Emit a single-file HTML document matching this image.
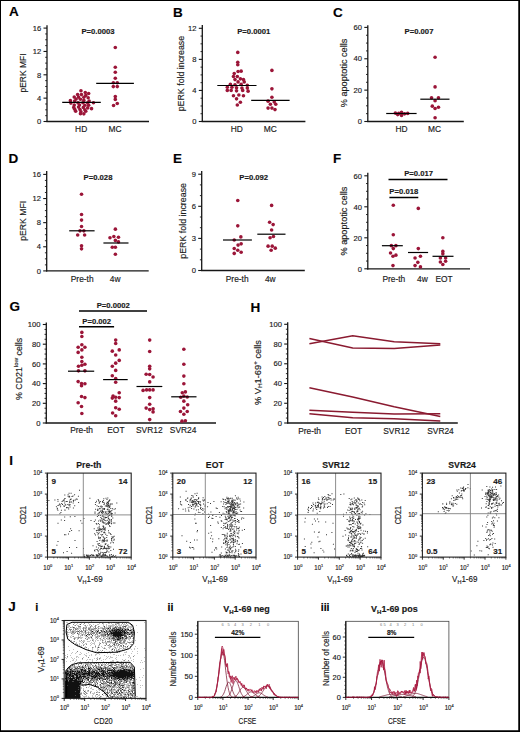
<!DOCTYPE html><html><head><meta charset="utf-8"><style>html,body{margin:0;padding:0;background:#fff;overflow:hidden;}svg{display:block;} text{stroke:#222;stroke-width:0.15px;}</style></head><body>
<svg width="520" height="732" viewBox="0 0 520 732" font-family="Liberation Sans, sans-serif">
<rect x="0" y="0" width="520" height="732" fill="#fff"/>
<text x="9" y="15.8" font-size="13.5" font-weight="bold" text-anchor="start" fill="#000">A</text>
<line x1="47" y1="25.2" x2="47" y2="122.1" stroke="#161616" stroke-width="1.3"/>
<line x1="46.4" y1="121.5" x2="149" y2="121.5" stroke="#161616" stroke-width="1.3"/>
<line x1="43.5" y1="121.5" x2="47" y2="121.5" stroke="#161616" stroke-width="1.1"/>
<text x="41.2" y="124.2" font-size="7.6" text-anchor="end" fill="#161616">0</text>
<line x1="45.2" y1="115.66" x2="47" y2="115.66" stroke="#161616" stroke-width="0.9"/>
<line x1="45.2" y1="109.83" x2="47" y2="109.83" stroke="#161616" stroke-width="0.9"/>
<line x1="45.2" y1="103.99" x2="47" y2="103.99" stroke="#161616" stroke-width="0.9"/>
<line x1="43.5" y1="98.15" x2="47" y2="98.15" stroke="#161616" stroke-width="1.1"/>
<text x="41.2" y="100.85" font-size="7.6" text-anchor="end" fill="#161616">4</text>
<line x1="45.2" y1="92.31" x2="47" y2="92.31" stroke="#161616" stroke-width="0.9"/>
<line x1="45.2" y1="86.47" x2="47" y2="86.47" stroke="#161616" stroke-width="0.9"/>
<line x1="45.2" y1="80.64" x2="47" y2="80.64" stroke="#161616" stroke-width="0.9"/>
<line x1="43.5" y1="74.8" x2="47" y2="74.8" stroke="#161616" stroke-width="1.1"/>
<text x="41.2" y="77.5" font-size="7.6" text-anchor="end" fill="#161616">8</text>
<line x1="45.2" y1="68.96" x2="47" y2="68.96" stroke="#161616" stroke-width="0.9"/>
<line x1="45.2" y1="63.12" x2="47" y2="63.12" stroke="#161616" stroke-width="0.9"/>
<line x1="45.2" y1="57.29" x2="47" y2="57.29" stroke="#161616" stroke-width="0.9"/>
<line x1="43.5" y1="51.45" x2="47" y2="51.45" stroke="#161616" stroke-width="1.1"/>
<text x="41.2" y="54.15" font-size="7.6" text-anchor="end" fill="#161616">12</text>
<line x1="45.2" y1="45.61" x2="47" y2="45.61" stroke="#161616" stroke-width="0.9"/>
<line x1="45.2" y1="39.77" x2="47" y2="39.77" stroke="#161616" stroke-width="0.9"/>
<line x1="45.2" y1="33.94" x2="47" y2="33.94" stroke="#161616" stroke-width="0.9"/>
<line x1="43.5" y1="28.1" x2="47" y2="28.1" stroke="#161616" stroke-width="1.1"/>
<text x="41.2" y="30.8" font-size="7.6" text-anchor="end" fill="#161616">16</text>
<text x="25.7" y="73" font-size="8.6" text-anchor="middle" transform="rotate(-90 25.7 73)" fill="#161616" textLength="39" lengthAdjust="spacingAndGlyphs">pERK MFI</text>
<text x="81.15" y="131.9" font-size="8.4" text-anchor="middle" fill="#161616">HD</text>
<text x="115.1" y="131.9" font-size="8.4" text-anchor="middle" fill="#161616">MC</text>
<text x="98" y="34.1" font-size="7.7" font-weight="bold" text-anchor="middle" fill="#161616">P=0.0003</text>
<circle cx="80.96" cy="90.77" r="1.8" fill="#9b1538"/>
<circle cx="85.29" cy="92.5" r="1.8" fill="#9b1538"/>
<circle cx="88.65" cy="93.46" r="1.8" fill="#9b1538"/>
<circle cx="77.6" cy="94.62" r="1.8" fill="#9b1538"/>
<circle cx="81.44" cy="94.62" r="1.8" fill="#9b1538"/>
<circle cx="85.77" cy="95.38" r="1.8" fill="#9b1538"/>
<circle cx="74.23" cy="97.12" r="1.8" fill="#9b1538"/>
<circle cx="78.56" cy="97.12" r="1.8" fill="#9b1538"/>
<circle cx="83.85" cy="97.31" r="1.8" fill="#9b1538"/>
<circle cx="88.17" cy="97.79" r="1.8" fill="#9b1538"/>
<circle cx="76.15" cy="99.04" r="1.8" fill="#9b1538"/>
<circle cx="80.48" cy="99.23" r="1.8" fill="#9b1538"/>
<circle cx="70.38" cy="100.67" r="1.8" fill="#9b1538"/>
<circle cx="74.71" cy="100.96" r="1.8" fill="#9b1538"/>
<circle cx="83.85" cy="100.38" r="1.8" fill="#9b1538"/>
<circle cx="89.13" cy="100.96" r="1.8" fill="#9b1538"/>
<circle cx="70.87" cy="103.08" r="1.8" fill="#9b1538"/>
<circle cx="78.08" cy="102.88" r="1.8" fill="#9b1538"/>
<circle cx="82.88" cy="102.69" r="1.8" fill="#9b1538"/>
<circle cx="87.69" cy="102.88" r="1.8" fill="#9b1538"/>
<circle cx="93.46" cy="102.69" r="1.8" fill="#9b1538"/>
<circle cx="74.23" cy="105" r="1.8" fill="#9b1538"/>
<circle cx="79.52" cy="105" r="1.8" fill="#9b1538"/>
<circle cx="84.81" cy="105.19" r="1.8" fill="#9b1538"/>
<circle cx="88.65" cy="105.19" r="1.8" fill="#9b1538"/>
<circle cx="73.75" cy="107.4" r="1.8" fill="#9b1538"/>
<circle cx="78.56" cy="107.12" r="1.8" fill="#9b1538"/>
<circle cx="83.37" cy="107.4" r="1.8" fill="#9b1538"/>
<circle cx="87.69" cy="107.88" r="1.8" fill="#9b1538"/>
<circle cx="91.54" cy="108.65" r="1.8" fill="#9b1538"/>
<circle cx="74.71" cy="109.33" r="1.8" fill="#9b1538"/>
<circle cx="80" cy="109.62" r="1.8" fill="#9b1538"/>
<circle cx="84.81" cy="109.81" r="1.8" fill="#9b1538"/>
<circle cx="75.67" cy="111.25" r="1.8" fill="#9b1538"/>
<circle cx="80.96" cy="111.73" r="1.8" fill="#9b1538"/>
<circle cx="85.77" cy="111.25" r="1.8" fill="#9b1538"/>
<circle cx="80.48" cy="113.65" r="1.8" fill="#9b1538"/>
<circle cx="83.85" cy="113.85" r="1.8" fill="#9b1538"/>
<circle cx="115.3" cy="47.54" r="1.8" fill="#9b1538"/>
<circle cx="115.3" cy="67.26" r="1.8" fill="#9b1538"/>
<circle cx="115.3" cy="72.24" r="1.8" fill="#9b1538"/>
<circle cx="115.3" cy="78.27" r="1.8" fill="#9b1538"/>
<circle cx="113.33" cy="82.68" r="1.8" fill="#9b1538"/>
<circle cx="117.27" cy="82.68" r="1.8" fill="#9b1538"/>
<circle cx="113.33" cy="86.62" r="1.8" fill="#9b1538"/>
<circle cx="117.27" cy="86.62" r="1.8" fill="#9b1538"/>
<circle cx="115.3" cy="96.6" r="1.8" fill="#9b1538"/>
<circle cx="115.3" cy="99.38" r="1.8" fill="#9b1538"/>
<circle cx="117.27" cy="103.56" r="1.8" fill="#9b1538"/>
<circle cx="113.56" cy="105.53" r="1.8" fill="#9b1538"/>
<line x1="62.2" y1="102.4" x2="100.8" y2="102.4" stroke="#000" stroke-width="1.2"/>
<line x1="96.2" y1="83.3" x2="133.9" y2="83.3" stroke="#000" stroke-width="1.2"/>
<text x="173" y="16.5" font-size="13.5" font-weight="bold" text-anchor="start" fill="#000">B</text>
<line x1="202.3" y1="25" x2="202.3" y2="122.1" stroke="#161616" stroke-width="1.3"/>
<line x1="201.7" y1="121.5" x2="305.4" y2="121.5" stroke="#161616" stroke-width="1.3"/>
<line x1="198.8" y1="121.5" x2="202.3" y2="121.5" stroke="#161616" stroke-width="1.1"/>
<text x="196.5" y="124.2" font-size="7.6" text-anchor="end" fill="#161616">0</text>
<line x1="200.5" y1="113.73" x2="202.3" y2="113.73" stroke="#161616" stroke-width="0.9"/>
<line x1="200.5" y1="105.97" x2="202.3" y2="105.97" stroke="#161616" stroke-width="0.9"/>
<line x1="200.5" y1="98.2" x2="202.3" y2="98.2" stroke="#161616" stroke-width="0.9"/>
<line x1="198.8" y1="90.43" x2="202.3" y2="90.43" stroke="#161616" stroke-width="1.1"/>
<text x="196.5" y="93.13" font-size="7.6" text-anchor="end" fill="#161616">4</text>
<line x1="200.5" y1="82.67" x2="202.3" y2="82.67" stroke="#161616" stroke-width="0.9"/>
<line x1="200.5" y1="74.9" x2="202.3" y2="74.9" stroke="#161616" stroke-width="0.9"/>
<line x1="200.5" y1="67.13" x2="202.3" y2="67.13" stroke="#161616" stroke-width="0.9"/>
<line x1="198.8" y1="59.37" x2="202.3" y2="59.37" stroke="#161616" stroke-width="1.1"/>
<text x="196.5" y="62.07" font-size="7.6" text-anchor="end" fill="#161616">8</text>
<line x1="200.5" y1="51.6" x2="202.3" y2="51.6" stroke="#161616" stroke-width="0.9"/>
<line x1="200.5" y1="43.83" x2="202.3" y2="43.83" stroke="#161616" stroke-width="0.9"/>
<line x1="200.5" y1="36.07" x2="202.3" y2="36.07" stroke="#161616" stroke-width="0.9"/>
<line x1="198.8" y1="28.3" x2="202.3" y2="28.3" stroke="#161616" stroke-width="1.1"/>
<text x="196.5" y="31" font-size="7.6" text-anchor="end" fill="#161616">12</text>
<text x="183.6" y="73.55" font-size="8.8" text-anchor="middle" transform="rotate(-90 183.6 73.55)" fill="#161616" textLength="75.5" lengthAdjust="spacingAndGlyphs">pERK fold increase</text>
<text x="236.8" y="131.8" font-size="8.4" text-anchor="middle" fill="#161616">HD</text>
<text x="270.3" y="131.8" font-size="8.4" text-anchor="middle" fill="#161616">MC</text>
<text x="253.7" y="34.1" font-size="7.7" font-weight="bold" text-anchor="middle" fill="#161616">P=0.0001</text>
<circle cx="237.77" cy="52.38" r="1.8" fill="#9b1538"/>
<circle cx="237.77" cy="62.23" r="1.8" fill="#9b1538"/>
<circle cx="237.77" cy="64.69" r="1.8" fill="#9b1538"/>
<circle cx="234.23" cy="73.46" r="1.8" fill="#9b1538"/>
<circle cx="238.08" cy="71.46" r="1.8" fill="#9b1538"/>
<circle cx="241.15" cy="71.15" r="1.8" fill="#9b1538"/>
<circle cx="233.46" cy="76.54" r="1.8" fill="#9b1538"/>
<circle cx="237.31" cy="76.54" r="1.8" fill="#9b1538"/>
<circle cx="235" cy="79.62" r="1.8" fill="#9b1538"/>
<circle cx="240.38" cy="78.85" r="1.8" fill="#9b1538"/>
<circle cx="243.46" cy="79.62" r="1.8" fill="#9b1538"/>
<circle cx="238.08" cy="81.92" r="1.8" fill="#9b1538"/>
<circle cx="244.23" cy="81.92" r="1.8" fill="#9b1538"/>
<circle cx="230.38" cy="84.23" r="1.8" fill="#9b1538"/>
<circle cx="235" cy="84.69" r="1.8" fill="#9b1538"/>
<circle cx="241.15" cy="84.23" r="1.8" fill="#9b1538"/>
<circle cx="247.31" cy="85.31" r="1.8" fill="#9b1538"/>
<circle cx="227.31" cy="87.31" r="1.8" fill="#9b1538"/>
<circle cx="231.92" cy="87.31" r="1.8" fill="#9b1538"/>
<circle cx="236.54" cy="87.77" r="1.8" fill="#9b1538"/>
<circle cx="241.92" cy="88.08" r="1.8" fill="#9b1538"/>
<circle cx="247.31" cy="88.08" r="1.8" fill="#9b1538"/>
<circle cx="227.31" cy="90.38" r="1.8" fill="#9b1538"/>
<circle cx="231.15" cy="90.38" r="1.8" fill="#9b1538"/>
<circle cx="236.54" cy="90.85" r="1.8" fill="#9b1538"/>
<circle cx="242.69" cy="90.38" r="1.8" fill="#9b1538"/>
<circle cx="248.08" cy="91.15" r="1.8" fill="#9b1538"/>
<circle cx="233.46" cy="95.77" r="1.8" fill="#9b1538"/>
<circle cx="238.85" cy="95" r="1.8" fill="#9b1538"/>
<circle cx="243.46" cy="95.77" r="1.8" fill="#9b1538"/>
<circle cx="236.54" cy="98.85" r="1.8" fill="#9b1538"/>
<circle cx="240.38" cy="102.23" r="1.8" fill="#9b1538"/>
<circle cx="237.31" cy="105" r="1.8" fill="#9b1538"/>
<circle cx="271.92" cy="70.38" r="1.8" fill="#9b1538"/>
<circle cx="271.92" cy="88.85" r="1.8" fill="#9b1538"/>
<circle cx="271.92" cy="97.31" r="1.8" fill="#9b1538"/>
<circle cx="268.08" cy="101.15" r="1.8" fill="#9b1538"/>
<circle cx="274.23" cy="101.92" r="1.8" fill="#9b1538"/>
<circle cx="270.38" cy="104.23" r="1.8" fill="#9b1538"/>
<circle cx="275.77" cy="104.23" r="1.8" fill="#9b1538"/>
<circle cx="268.08" cy="108.08" r="1.8" fill="#9b1538"/>
<circle cx="271.92" cy="108.08" r="1.8" fill="#9b1538"/>
<circle cx="275" cy="109.62" r="1.8" fill="#9b1538"/>
<line x1="217.3" y1="85.5" x2="256.5" y2="85.5" stroke="#000" stroke-width="1.2"/>
<line x1="251.2" y1="100.4" x2="289.6" y2="100.4" stroke="#000" stroke-width="1.2"/>
<text x="333" y="16.5" font-size="13.5" font-weight="bold" text-anchor="start" fill="#000">C</text>
<line x1="367.8" y1="25.2" x2="367.8" y2="122.1" stroke="#161616" stroke-width="1.3"/>
<line x1="367.2" y1="121.5" x2="463.8" y2="121.5" stroke="#161616" stroke-width="1.3"/>
<line x1="364.3" y1="121.5" x2="367.8" y2="121.5" stroke="#161616" stroke-width="1.1"/>
<text x="362" y="124.2" font-size="7.6" text-anchor="end" fill="#161616">0</text>
<line x1="366" y1="113.66" x2="367.8" y2="113.66" stroke="#161616" stroke-width="0.9"/>
<line x1="366" y1="105.82" x2="367.8" y2="105.82" stroke="#161616" stroke-width="0.9"/>
<line x1="366" y1="97.97" x2="367.8" y2="97.97" stroke="#161616" stroke-width="0.9"/>
<line x1="364.3" y1="90.13" x2="367.8" y2="90.13" stroke="#161616" stroke-width="1.1"/>
<text x="362" y="92.83" font-size="7.6" text-anchor="end" fill="#161616">20</text>
<line x1="366" y1="82.29" x2="367.8" y2="82.29" stroke="#161616" stroke-width="0.9"/>
<line x1="366" y1="74.45" x2="367.8" y2="74.45" stroke="#161616" stroke-width="0.9"/>
<line x1="366" y1="66.61" x2="367.8" y2="66.61" stroke="#161616" stroke-width="0.9"/>
<line x1="364.3" y1="58.77" x2="367.8" y2="58.77" stroke="#161616" stroke-width="1.1"/>
<text x="362" y="61.47" font-size="7.6" text-anchor="end" fill="#161616">40</text>
<line x1="366" y1="50.92" x2="367.8" y2="50.92" stroke="#161616" stroke-width="0.9"/>
<line x1="366" y1="43.08" x2="367.8" y2="43.08" stroke="#161616" stroke-width="0.9"/>
<line x1="366" y1="35.24" x2="367.8" y2="35.24" stroke="#161616" stroke-width="0.9"/>
<line x1="364.3" y1="27.4" x2="367.8" y2="27.4" stroke="#161616" stroke-width="1.1"/>
<text x="362" y="30.1" font-size="7.6" text-anchor="end" fill="#161616">60</text>
<text x="346.6" y="72.95" font-size="9.0" text-anchor="middle" transform="rotate(-90 346.6 72.95)" fill="#161616" textLength="68.5" lengthAdjust="spacingAndGlyphs">% apoptotic cells</text>
<text x="401.5" y="131.8" font-size="8.4" text-anchor="middle" fill="#161616">HD</text>
<text x="434.5" y="131.8" font-size="8.4" text-anchor="middle" fill="#161616">MC</text>
<text x="419" y="34.1" font-size="7.7" font-weight="bold" text-anchor="middle" fill="#161616">P=0.007</text>
<circle cx="395.38" cy="113.08" r="1.8" fill="#9b1538"/>
<circle cx="397.69" cy="114.62" r="1.8" fill="#9b1538"/>
<circle cx="401.54" cy="112.31" r="1.8" fill="#9b1538"/>
<circle cx="401.54" cy="115.38" r="1.8" fill="#9b1538"/>
<circle cx="404.62" cy="113.85" r="1.8" fill="#9b1538"/>
<circle cx="407.69" cy="113.38" r="1.8" fill="#9b1538"/>
<circle cx="398.77" cy="113.38" r="1.8" fill="#9b1538"/>
<circle cx="435.08" cy="57.23" r="1.8" fill="#9b1538"/>
<circle cx="435.08" cy="86.92" r="1.8" fill="#9b1538"/>
<circle cx="431.54" cy="97.69" r="1.8" fill="#9b1538"/>
<circle cx="438.46" cy="97.69" r="1.8" fill="#9b1538"/>
<circle cx="435.08" cy="100.77" r="1.8" fill="#9b1538"/>
<circle cx="432.31" cy="106.15" r="1.8" fill="#9b1538"/>
<circle cx="435.08" cy="108.46" r="1.8" fill="#9b1538"/>
<circle cx="438.46" cy="107.23" r="1.8" fill="#9b1538"/>
<circle cx="435.08" cy="117.69" r="1.8" fill="#9b1538"/>
<line x1="386.2" y1="113.5" x2="416.6" y2="113.5" stroke="#000" stroke-width="1.2"/>
<line x1="420.3" y1="99.2" x2="449.5" y2="99.2" stroke="#000" stroke-width="1.2"/>
<text x="8.5" y="163" font-size="13.5" font-weight="bold" text-anchor="start" fill="#000">D</text>
<line x1="46.7" y1="171" x2="46.7" y2="271.5" stroke="#161616" stroke-width="1.3"/>
<line x1="46.1" y1="270.9" x2="148.7" y2="270.9" stroke="#161616" stroke-width="1.3"/>
<line x1="43.2" y1="270.9" x2="46.7" y2="270.9" stroke="#161616" stroke-width="1.1"/>
<text x="40.9" y="273.6" font-size="7.6" text-anchor="end" fill="#161616">0</text>
<line x1="44.9" y1="264.87" x2="46.7" y2="264.87" stroke="#161616" stroke-width="0.9"/>
<line x1="44.9" y1="258.84" x2="46.7" y2="258.84" stroke="#161616" stroke-width="0.9"/>
<line x1="44.9" y1="252.81" x2="46.7" y2="252.81" stroke="#161616" stroke-width="0.9"/>
<line x1="43.2" y1="246.77" x2="46.7" y2="246.77" stroke="#161616" stroke-width="1.1"/>
<text x="40.9" y="249.47" font-size="7.6" text-anchor="end" fill="#161616">4</text>
<line x1="44.9" y1="240.74" x2="46.7" y2="240.74" stroke="#161616" stroke-width="0.9"/>
<line x1="44.9" y1="234.71" x2="46.7" y2="234.71" stroke="#161616" stroke-width="0.9"/>
<line x1="44.9" y1="228.68" x2="46.7" y2="228.68" stroke="#161616" stroke-width="0.9"/>
<line x1="43.2" y1="222.65" x2="46.7" y2="222.65" stroke="#161616" stroke-width="1.1"/>
<text x="40.9" y="225.35" font-size="7.6" text-anchor="end" fill="#161616">8</text>
<line x1="44.9" y1="216.62" x2="46.7" y2="216.62" stroke="#161616" stroke-width="0.9"/>
<line x1="44.9" y1="210.59" x2="46.7" y2="210.59" stroke="#161616" stroke-width="0.9"/>
<line x1="44.9" y1="204.56" x2="46.7" y2="204.56" stroke="#161616" stroke-width="0.9"/>
<line x1="43.2" y1="198.53" x2="46.7" y2="198.53" stroke="#161616" stroke-width="1.1"/>
<text x="40.9" y="201.22" font-size="7.6" text-anchor="end" fill="#161616">12</text>
<line x1="44.9" y1="192.49" x2="46.7" y2="192.49" stroke="#161616" stroke-width="0.9"/>
<line x1="44.9" y1="186.46" x2="46.7" y2="186.46" stroke="#161616" stroke-width="0.9"/>
<line x1="44.9" y1="180.43" x2="46.7" y2="180.43" stroke="#161616" stroke-width="0.9"/>
<line x1="43.2" y1="174.4" x2="46.7" y2="174.4" stroke="#161616" stroke-width="1.1"/>
<text x="40.9" y="177.1" font-size="7.6" text-anchor="end" fill="#161616">16</text>
<text x="26" y="220.8" font-size="8.6" text-anchor="middle" transform="rotate(-90 26 220.8)" fill="#161616" textLength="40" lengthAdjust="spacingAndGlyphs">pERK MFI</text>
<text x="82.2" y="282.1" font-size="8.4" text-anchor="middle" fill="#161616">Pre-th</text>
<text x="115.2" y="282.1" font-size="8.4" text-anchor="middle" fill="#161616">4w</text>
<text x="98" y="179.6" font-size="7.7" font-weight="bold" text-anchor="middle" fill="#161616">P=0.028</text>
<circle cx="81.54" cy="194.23" r="1.8" fill="#9b1538"/>
<circle cx="81.54" cy="214.54" r="1.8" fill="#9b1538"/>
<circle cx="81.54" cy="220.08" r="1.8" fill="#9b1538"/>
<circle cx="81.54" cy="226.54" r="1.8" fill="#9b1538"/>
<circle cx="80" cy="230.85" r="1.8" fill="#9b1538"/>
<circle cx="83.85" cy="230.85" r="1.8" fill="#9b1538"/>
<circle cx="77.69" cy="235" r="1.8" fill="#9b1538"/>
<circle cx="84.62" cy="235" r="1.8" fill="#9b1538"/>
<circle cx="81.54" cy="245.77" r="1.8" fill="#9b1538"/>
<circle cx="81.54" cy="248.85" r="1.8" fill="#9b1538"/>
<circle cx="115.38" cy="229.15" r="1.8" fill="#9b1538"/>
<circle cx="110" cy="237.77" r="1.8" fill="#9b1538"/>
<circle cx="113.85" cy="236.54" r="1.8" fill="#9b1538"/>
<circle cx="118.46" cy="237.31" r="1.8" fill="#9b1538"/>
<circle cx="115.38" cy="240.38" r="1.8" fill="#9b1538"/>
<circle cx="118.46" cy="241.92" r="1.8" fill="#9b1538"/>
<circle cx="112.31" cy="247.31" r="1.8" fill="#9b1538"/>
<circle cx="115.38" cy="247.31" r="1.8" fill="#9b1538"/>
<circle cx="115.38" cy="254.23" r="1.8" fill="#9b1538"/>
<line x1="69.2" y1="230.8" x2="94.6" y2="230.8" stroke="#000" stroke-width="1.2"/>
<line x1="103.4" y1="243" x2="128.5" y2="243" stroke="#000" stroke-width="1.2"/>
<text x="173" y="162.5" font-size="13.5" font-weight="bold" text-anchor="start" fill="#000">E</text>
<line x1="201.7" y1="171" x2="201.7" y2="271.1" stroke="#161616" stroke-width="1.3"/>
<line x1="201.1" y1="270.5" x2="304.8" y2="270.5" stroke="#161616" stroke-width="1.3"/>
<line x1="198.2" y1="270.5" x2="201.7" y2="270.5" stroke="#161616" stroke-width="1.1"/>
<text x="195.9" y="273.2" font-size="7.6" text-anchor="end" fill="#161616">0</text>
<line x1="199.9" y1="259.8" x2="201.7" y2="259.8" stroke="#161616" stroke-width="0.9"/>
<line x1="199.9" y1="249.1" x2="201.7" y2="249.1" stroke="#161616" stroke-width="0.9"/>
<line x1="198.2" y1="238.4" x2="201.7" y2="238.4" stroke="#161616" stroke-width="1.1"/>
<text x="195.9" y="241.1" font-size="7.6" text-anchor="end" fill="#161616">3</text>
<line x1="199.9" y1="227.7" x2="201.7" y2="227.7" stroke="#161616" stroke-width="0.9"/>
<line x1="199.9" y1="217" x2="201.7" y2="217" stroke="#161616" stroke-width="0.9"/>
<line x1="198.2" y1="206.3" x2="201.7" y2="206.3" stroke="#161616" stroke-width="1.1"/>
<text x="195.9" y="209" font-size="7.6" text-anchor="end" fill="#161616">6</text>
<line x1="199.9" y1="195.6" x2="201.7" y2="195.6" stroke="#161616" stroke-width="0.9"/>
<line x1="199.9" y1="184.9" x2="201.7" y2="184.9" stroke="#161616" stroke-width="0.9"/>
<line x1="198.2" y1="174.2" x2="201.7" y2="174.2" stroke="#161616" stroke-width="1.1"/>
<text x="195.9" y="176.9" font-size="7.6" text-anchor="end" fill="#161616">9</text>
<text x="186.5" y="220.85" font-size="8.8" text-anchor="middle" transform="rotate(-90 186.5 220.85)" fill="#161616" textLength="75.7" lengthAdjust="spacingAndGlyphs">pERK fold increase</text>
<text x="237.2" y="281.8" font-size="8.4" text-anchor="middle" fill="#161616">Pre-th</text>
<text x="270.3" y="281.8" font-size="8.4" text-anchor="middle" fill="#161616">4w</text>
<text x="253.7" y="180.4" font-size="7.7" font-weight="bold" text-anchor="middle" fill="#161616">P=0.092</text>
<circle cx="237.77" cy="200.46" r="1.8" fill="#9b1538"/>
<circle cx="237.77" cy="225.85" r="1.8" fill="#9b1538"/>
<circle cx="240.85" cy="236.92" r="1.8" fill="#9b1538"/>
<circle cx="234.23" cy="240" r="1.8" fill="#9b1538"/>
<circle cx="238.08" cy="245.08" r="1.8" fill="#9b1538"/>
<circle cx="241.15" cy="243.85" r="1.8" fill="#9b1538"/>
<circle cx="234.23" cy="248.46" r="1.8" fill="#9b1538"/>
<circle cx="237.77" cy="250.31" r="1.8" fill="#9b1538"/>
<circle cx="241.15" cy="252.31" r="1.8" fill="#9b1538"/>
<circle cx="234.23" cy="253.38" r="1.8" fill="#9b1538"/>
<circle cx="271.62" cy="205.38" r="1.8" fill="#9b1538"/>
<circle cx="269.62" cy="222.31" r="1.8" fill="#9b1538"/>
<circle cx="273.15" cy="224.62" r="1.8" fill="#9b1538"/>
<circle cx="271.62" cy="230" r="1.8" fill="#9b1538"/>
<circle cx="270.08" cy="237.69" r="1.8" fill="#9b1538"/>
<circle cx="273.46" cy="236.46" r="1.8" fill="#9b1538"/>
<circle cx="268.08" cy="246.15" r="1.8" fill="#9b1538"/>
<circle cx="272.23" cy="246.15" r="1.8" fill="#9b1538"/>
<circle cx="275.31" cy="248.15" r="1.8" fill="#9b1538"/>
<circle cx="271.15" cy="250.31" r="1.8" fill="#9b1538"/>
<line x1="223" y1="240" x2="251.9" y2="240" stroke="#000" stroke-width="1.2"/>
<line x1="257.3" y1="234.2" x2="285.5" y2="234.2" stroke="#000" stroke-width="1.2"/>
<text x="333" y="162.5" font-size="13.5" font-weight="bold" text-anchor="start" fill="#000">F</text>
<line x1="367.8" y1="172.7" x2="367.8" y2="269.4" stroke="#161616" stroke-width="1.3"/>
<line x1="367.2" y1="268.8" x2="470" y2="268.8" stroke="#161616" stroke-width="1.3"/>
<line x1="364.3" y1="268.8" x2="367.8" y2="268.8" stroke="#161616" stroke-width="1.1"/>
<text x="362" y="271.5" font-size="7.6" text-anchor="end" fill="#161616">0</text>
<line x1="366" y1="261.05" x2="367.8" y2="261.05" stroke="#161616" stroke-width="0.9"/>
<line x1="366" y1="253.3" x2="367.8" y2="253.3" stroke="#161616" stroke-width="0.9"/>
<line x1="366" y1="245.55" x2="367.8" y2="245.55" stroke="#161616" stroke-width="0.9"/>
<line x1="364.3" y1="237.8" x2="367.8" y2="237.8" stroke="#161616" stroke-width="1.1"/>
<text x="362" y="240.5" font-size="7.6" text-anchor="end" fill="#161616">20</text>
<line x1="366" y1="230.05" x2="367.8" y2="230.05" stroke="#161616" stroke-width="0.9"/>
<line x1="366" y1="222.3" x2="367.8" y2="222.3" stroke="#161616" stroke-width="0.9"/>
<line x1="366" y1="214.55" x2="367.8" y2="214.55" stroke="#161616" stroke-width="0.9"/>
<line x1="364.3" y1="206.8" x2="367.8" y2="206.8" stroke="#161616" stroke-width="1.1"/>
<text x="362" y="209.5" font-size="7.6" text-anchor="end" fill="#161616">40</text>
<line x1="366" y1="199.05" x2="367.8" y2="199.05" stroke="#161616" stroke-width="0.9"/>
<line x1="366" y1="191.3" x2="367.8" y2="191.3" stroke="#161616" stroke-width="0.9"/>
<line x1="366" y1="183.55" x2="367.8" y2="183.55" stroke="#161616" stroke-width="0.9"/>
<line x1="364.3" y1="175.8" x2="367.8" y2="175.8" stroke="#161616" stroke-width="1.1"/>
<text x="362" y="178.5" font-size="7.6" text-anchor="end" fill="#161616">60</text>
<text x="346.7" y="221.1" font-size="9.0" text-anchor="middle" transform="rotate(-90 346.7 221.1)" fill="#161616" textLength="68.9" lengthAdjust="spacingAndGlyphs">% apoptotic cells</text>
<text x="393.8" y="281.8" font-size="8.4" text-anchor="middle" fill="#161616">Pre-th</text>
<text x="422.4" y="281.8" font-size="8.4" text-anchor="middle" fill="#161616">4w</text>
<text x="444" y="281.8" font-size="8.4" text-anchor="middle" fill="#161616">EOT</text>
<text x="418.6" y="176.4" font-size="7.7" font-weight="bold" text-anchor="middle" fill="#161616">P=0.017</text>
<line x1="388.5" y1="179.5" x2="447.5" y2="179.5" stroke="#000" stroke-width="1.5"/>
<text x="403.8" y="194.4" font-size="7.7" font-weight="bold" text-anchor="middle" fill="#161616">P=0.018</text>
<line x1="389.4" y1="197.5" x2="418.3" y2="197.5" stroke="#000" stroke-width="1.5"/>
<circle cx="393.31" cy="205.3" r="1.8" fill="#9b1538"/>
<circle cx="393.31" cy="234.72" r="1.8" fill="#9b1538"/>
<circle cx="391.35" cy="245.67" r="1.8" fill="#9b1538"/>
<circle cx="395.92" cy="245.67" r="1.8" fill="#9b1538"/>
<circle cx="393.31" cy="248.61" r="1.8" fill="#9b1538"/>
<circle cx="390.53" cy="253.03" r="1.8" fill="#9b1538"/>
<circle cx="392.98" cy="256.29" r="1.8" fill="#9b1538"/>
<circle cx="395.92" cy="255.15" r="1.8" fill="#9b1538"/>
<circle cx="392.98" cy="265.61" r="1.8" fill="#9b1538"/>
<circle cx="418.31" cy="208.4" r="1.8" fill="#9b1538"/>
<circle cx="418.31" cy="248.61" r="1.8" fill="#9b1538"/>
<circle cx="415.05" cy="257.93" r="1.8" fill="#9b1538"/>
<circle cx="420.44" cy="256.29" r="1.8" fill="#9b1538"/>
<circle cx="417.82" cy="262.34" r="1.8" fill="#9b1538"/>
<circle cx="415.05" cy="265.61" r="1.8" fill="#9b1538"/>
<circle cx="420.44" cy="266.92" r="1.8" fill="#9b1538"/>
<circle cx="442.83" cy="237.82" r="1.8" fill="#9b1538"/>
<circle cx="442.83" cy="251.39" r="1.8" fill="#9b1538"/>
<circle cx="442.83" cy="253.84" r="1.8" fill="#9b1538"/>
<circle cx="440.38" cy="257.93" r="1.8" fill="#9b1538"/>
<circle cx="445.61" cy="257.93" r="1.8" fill="#9b1538"/>
<circle cx="440.38" cy="262.02" r="1.8" fill="#9b1538"/>
<circle cx="445.61" cy="261.2" r="1.8" fill="#9b1538"/>
<circle cx="442.83" cy="264.47" r="1.8" fill="#9b1538"/>
<line x1="381.9" y1="245.7" x2="402.8" y2="245.7" stroke="#000" stroke-width="1.2"/>
<line x1="408" y1="252.5" x2="428.1" y2="252.5" stroke="#000" stroke-width="1.2"/>
<line x1="432.5" y1="256.3" x2="453.5" y2="256.3" stroke="#000" stroke-width="1.2"/>
<text x="9.5" y="310.8" font-size="13.5" font-weight="bold" text-anchor="start" fill="#000">G</text>
<line x1="46.3" y1="322.5" x2="46.3" y2="423.6" stroke="#161616" stroke-width="1.3"/>
<line x1="45.7" y1="423" x2="216" y2="423" stroke="#161616" stroke-width="1.3"/>
<line x1="42.8" y1="423" x2="46.3" y2="423" stroke="#161616" stroke-width="1.1"/>
<text x="40.5" y="425.7" font-size="7.6" text-anchor="end" fill="#161616">0</text>
<line x1="44.5" y1="418.07" x2="46.3" y2="418.07" stroke="#161616" stroke-width="0.9"/>
<line x1="44.5" y1="413.15" x2="46.3" y2="413.15" stroke="#161616" stroke-width="0.9"/>
<line x1="44.5" y1="408.23" x2="46.3" y2="408.23" stroke="#161616" stroke-width="0.9"/>
<line x1="42.8" y1="403.3" x2="46.3" y2="403.3" stroke="#161616" stroke-width="1.1"/>
<text x="40.5" y="406" font-size="7.6" text-anchor="end" fill="#161616">20</text>
<line x1="44.5" y1="398.38" x2="46.3" y2="398.38" stroke="#161616" stroke-width="0.9"/>
<line x1="44.5" y1="393.45" x2="46.3" y2="393.45" stroke="#161616" stroke-width="0.9"/>
<line x1="44.5" y1="388.52" x2="46.3" y2="388.52" stroke="#161616" stroke-width="0.9"/>
<line x1="42.8" y1="383.6" x2="46.3" y2="383.6" stroke="#161616" stroke-width="1.1"/>
<text x="40.5" y="386.3" font-size="7.6" text-anchor="end" fill="#161616">40</text>
<line x1="44.5" y1="378.68" x2="46.3" y2="378.68" stroke="#161616" stroke-width="0.9"/>
<line x1="44.5" y1="373.75" x2="46.3" y2="373.75" stroke="#161616" stroke-width="0.9"/>
<line x1="44.5" y1="368.82" x2="46.3" y2="368.82" stroke="#161616" stroke-width="0.9"/>
<line x1="42.8" y1="363.9" x2="46.3" y2="363.9" stroke="#161616" stroke-width="1.1"/>
<text x="40.5" y="366.6" font-size="7.6" text-anchor="end" fill="#161616">60</text>
<line x1="44.5" y1="358.98" x2="46.3" y2="358.98" stroke="#161616" stroke-width="0.9"/>
<line x1="44.5" y1="354.05" x2="46.3" y2="354.05" stroke="#161616" stroke-width="0.9"/>
<line x1="44.5" y1="349.12" x2="46.3" y2="349.12" stroke="#161616" stroke-width="0.9"/>
<line x1="42.8" y1="344.2" x2="46.3" y2="344.2" stroke="#161616" stroke-width="1.1"/>
<text x="40.5" y="346.9" font-size="7.6" text-anchor="end" fill="#161616">80</text>
<line x1="44.5" y1="339.27" x2="46.3" y2="339.27" stroke="#161616" stroke-width="0.9"/>
<line x1="44.5" y1="334.35" x2="46.3" y2="334.35" stroke="#161616" stroke-width="0.9"/>
<line x1="44.5" y1="329.43" x2="46.3" y2="329.43" stroke="#161616" stroke-width="0.9"/>
<line x1="42.8" y1="324.5" x2="46.3" y2="324.5" stroke="#161616" stroke-width="1.1"/>
<text x="40.5" y="327.2" font-size="7.6" text-anchor="end" fill="#161616">100</text>
<text x="21.7" y="368.9" font-size="9" text-anchor="middle" transform="rotate(-90 21.7 368.9)" fill="#161616" textLength="62.3" lengthAdjust="spacingAndGlyphs">% CD21<tspan font-size="6.2" dy="-3.2">low</tspan><tspan dy="3.2"> cells</tspan></text>
<text x="81.6" y="432.6" font-size="8.4" text-anchor="middle" fill="#161616">Pre-th</text>
<text x="115.9" y="432.6" font-size="8.4" text-anchor="middle" fill="#161616">EOT</text>
<text x="149.3" y="432.6" font-size="8.4" text-anchor="middle" fill="#161616">SVR12</text>
<text x="183.1" y="432.6" font-size="8.4" text-anchor="middle" fill="#161616">SVR24</text>
<text x="113.2" y="308" font-size="7.7" font-weight="bold" text-anchor="middle" fill="#161616">P=0.0002</text>
<line x1="79" y1="311" x2="147" y2="311" stroke="#000" stroke-width="1.5"/>
<text x="96.7" y="323.6" font-size="7.7" font-weight="bold" text-anchor="middle" fill="#161616">P=0.002</text>
<line x1="79" y1="326.7" x2="114.1" y2="326.7" stroke="#000" stroke-width="1.5"/>
<circle cx="81.85" cy="332.38" r="1.8" fill="#9b1538"/>
<circle cx="81.85" cy="336.54" r="1.8" fill="#9b1538"/>
<circle cx="81.85" cy="344.69" r="1.8" fill="#9b1538"/>
<circle cx="78.15" cy="347.31" r="1.8" fill="#9b1538"/>
<circle cx="84.92" cy="347.31" r="1.8" fill="#9b1538"/>
<circle cx="81.85" cy="349.92" r="1.8" fill="#9b1538"/>
<circle cx="78.15" cy="352.38" r="1.8" fill="#9b1538"/>
<circle cx="81.85" cy="357.31" r="1.8" fill="#9b1538"/>
<circle cx="81.85" cy="361.62" r="1.8" fill="#9b1538"/>
<circle cx="84.92" cy="364.23" r="1.8" fill="#9b1538"/>
<circle cx="78.46" cy="366.23" r="1.8" fill="#9b1538"/>
<circle cx="81.85" cy="365.31" r="1.8" fill="#9b1538"/>
<circle cx="78.46" cy="370.85" r="1.8" fill="#9b1538"/>
<circle cx="84.92" cy="370.85" r="1.8" fill="#9b1538"/>
<circle cx="78.15" cy="381.62" r="1.8" fill="#9b1538"/>
<circle cx="81.54" cy="383.46" r="1.8" fill="#9b1538"/>
<circle cx="84.92" cy="383.77" r="1.8" fill="#9b1538"/>
<circle cx="81.54" cy="385.77" r="1.8" fill="#9b1538"/>
<circle cx="81.54" cy="396.54" r="1.8" fill="#9b1538"/>
<circle cx="84.92" cy="397.62" r="1.8" fill="#9b1538"/>
<circle cx="78.15" cy="402.69" r="1.8" fill="#9b1538"/>
<circle cx="81.54" cy="406.54" r="1.8" fill="#9b1538"/>
<circle cx="81.85" cy="413.46" r="1.8" fill="#9b1538"/>
<circle cx="115.69" cy="340.08" r="1.8" fill="#9b1538"/>
<circle cx="115.69" cy="343.46" r="1.8" fill="#9b1538"/>
<circle cx="112.31" cy="351.15" r="1.8" fill="#9b1538"/>
<circle cx="119.23" cy="349.92" r="1.8" fill="#9b1538"/>
<circle cx="115.69" cy="355" r="1.8" fill="#9b1538"/>
<circle cx="119.23" cy="360.38" r="1.8" fill="#9b1538"/>
<circle cx="115.69" cy="363.15" r="1.8" fill="#9b1538"/>
<circle cx="112.31" cy="366.23" r="1.8" fill="#9b1538"/>
<circle cx="115.69" cy="370.38" r="1.8" fill="#9b1538"/>
<circle cx="112.31" cy="375.77" r="1.8" fill="#9b1538"/>
<circle cx="115.69" cy="378.54" r="1.8" fill="#9b1538"/>
<circle cx="115.69" cy="382.23" r="1.8" fill="#9b1538"/>
<circle cx="119.23" cy="392.69" r="1.8" fill="#9b1538"/>
<circle cx="113.08" cy="396.08" r="1.8" fill="#9b1538"/>
<circle cx="115.69" cy="397.31" r="1.8" fill="#9b1538"/>
<circle cx="119.23" cy="397.62" r="1.8" fill="#9b1538"/>
<circle cx="112.31" cy="398.08" r="1.8" fill="#9b1538"/>
<circle cx="115.69" cy="401.15" r="1.8" fill="#9b1538"/>
<circle cx="115.69" cy="407.77" r="1.8" fill="#9b1538"/>
<circle cx="119.23" cy="409.31" r="1.8" fill="#9b1538"/>
<circle cx="112.62" cy="413" r="1.8" fill="#9b1538"/>
<circle cx="115.69" cy="415.77" r="1.8" fill="#9b1538"/>
<circle cx="149.69" cy="340.08" r="1.8" fill="#9b1538"/>
<circle cx="149.69" cy="351.46" r="1.8" fill="#9b1538"/>
<circle cx="149.69" cy="366.23" r="1.8" fill="#9b1538"/>
<circle cx="149.69" cy="368.85" r="1.8" fill="#9b1538"/>
<circle cx="146.15" cy="374.23" r="1.8" fill="#9b1538"/>
<circle cx="149.69" cy="374.54" r="1.8" fill="#9b1538"/>
<circle cx="153.08" cy="377" r="1.8" fill="#9b1538"/>
<circle cx="149.69" cy="381.92" r="1.8" fill="#9b1538"/>
<circle cx="143.08" cy="390.38" r="1.8" fill="#9b1538"/>
<circle cx="146.62" cy="389.92" r="1.8" fill="#9b1538"/>
<circle cx="149.69" cy="389.92" r="1.8" fill="#9b1538"/>
<circle cx="153.08" cy="389.92" r="1.8" fill="#9b1538"/>
<circle cx="149.69" cy="397.62" r="1.8" fill="#9b1538"/>
<circle cx="149.69" cy="404.23" r="1.8" fill="#9b1538"/>
<circle cx="146.15" cy="408.08" r="1.8" fill="#9b1538"/>
<circle cx="149.69" cy="409.62" r="1.8" fill="#9b1538"/>
<circle cx="153.08" cy="408.85" r="1.8" fill="#9b1538"/>
<circle cx="153.08" cy="411.92" r="1.8" fill="#9b1538"/>
<circle cx="149.69" cy="419.62" r="1.8" fill="#9b1538"/>
<circle cx="183.85" cy="349.31" r="1.8" fill="#9b1538"/>
<circle cx="183.85" cy="364.23" r="1.8" fill="#9b1538"/>
<circle cx="183.85" cy="376.08" r="1.8" fill="#9b1538"/>
<circle cx="183.85" cy="383.77" r="1.8" fill="#9b1538"/>
<circle cx="182.31" cy="392.69" r="1.8" fill="#9b1538"/>
<circle cx="185.38" cy="391.92" r="1.8" fill="#9b1538"/>
<circle cx="180.77" cy="397.31" r="1.8" fill="#9b1538"/>
<circle cx="183.85" cy="396.08" r="1.8" fill="#9b1538"/>
<circle cx="187.23" cy="397" r="1.8" fill="#9b1538"/>
<circle cx="183.85" cy="401.15" r="1.8" fill="#9b1538"/>
<circle cx="187.69" cy="404.69" r="1.8" fill="#9b1538"/>
<circle cx="183.85" cy="408.08" r="1.8" fill="#9b1538"/>
<circle cx="180.46" cy="411.46" r="1.8" fill="#9b1538"/>
<circle cx="187.23" cy="411.46" r="1.8" fill="#9b1538"/>
<circle cx="183.85" cy="414.23" r="1.8" fill="#9b1538"/>
<circle cx="182" cy="421.15" r="1.8" fill="#9b1538"/>
<circle cx="185.38" cy="420.69" r="1.8" fill="#9b1538"/>
<line x1="68" y1="371.2" x2="94.2" y2="371.2" stroke="#000" stroke-width="1.2"/>
<line x1="103.1" y1="379.6" x2="127.7" y2="379.6" stroke="#000" stroke-width="1.2"/>
<line x1="136.5" y1="386.5" x2="162.3" y2="386.5" stroke="#000" stroke-width="1.2"/>
<line x1="171.2" y1="396.8" x2="196.5" y2="396.8" stroke="#000" stroke-width="1.2"/>
<text x="250.6" y="311.6" font-size="13.5" font-weight="bold" text-anchor="start" fill="#000">H</text>
<line x1="287.7" y1="322.2" x2="287.7" y2="423.6" stroke="#161616" stroke-width="1.3"/>
<line x1="287.1" y1="423" x2="457.8" y2="423" stroke="#161616" stroke-width="1.3"/>
<line x1="284.2" y1="423" x2="287.7" y2="423" stroke="#161616" stroke-width="1.1"/>
<text x="281.9" y="425.7" font-size="7.6" text-anchor="end" fill="#161616">0</text>
<line x1="285.9" y1="418.06" x2="287.7" y2="418.06" stroke="#161616" stroke-width="0.9"/>
<line x1="285.9" y1="413.13" x2="287.7" y2="413.13" stroke="#161616" stroke-width="0.9"/>
<line x1="285.9" y1="408.19" x2="287.7" y2="408.19" stroke="#161616" stroke-width="0.9"/>
<line x1="284.2" y1="403.26" x2="287.7" y2="403.26" stroke="#161616" stroke-width="1.1"/>
<text x="281.9" y="405.96" font-size="7.6" text-anchor="end" fill="#161616">20</text>
<line x1="285.9" y1="398.32" x2="287.7" y2="398.32" stroke="#161616" stroke-width="0.9"/>
<line x1="285.9" y1="393.39" x2="287.7" y2="393.39" stroke="#161616" stroke-width="0.9"/>
<line x1="285.9" y1="388.45" x2="287.7" y2="388.45" stroke="#161616" stroke-width="0.9"/>
<line x1="284.2" y1="383.52" x2="287.7" y2="383.52" stroke="#161616" stroke-width="1.1"/>
<text x="281.9" y="386.22" font-size="7.6" text-anchor="end" fill="#161616">40</text>
<line x1="285.9" y1="378.59" x2="287.7" y2="378.59" stroke="#161616" stroke-width="0.9"/>
<line x1="285.9" y1="373.65" x2="287.7" y2="373.65" stroke="#161616" stroke-width="0.9"/>
<line x1="285.9" y1="368.72" x2="287.7" y2="368.72" stroke="#161616" stroke-width="0.9"/>
<line x1="284.2" y1="363.78" x2="287.7" y2="363.78" stroke="#161616" stroke-width="1.1"/>
<text x="281.9" y="366.48" font-size="7.6" text-anchor="end" fill="#161616">60</text>
<line x1="285.9" y1="358.85" x2="287.7" y2="358.85" stroke="#161616" stroke-width="0.9"/>
<line x1="285.9" y1="353.91" x2="287.7" y2="353.91" stroke="#161616" stroke-width="0.9"/>
<line x1="285.9" y1="348.98" x2="287.7" y2="348.98" stroke="#161616" stroke-width="0.9"/>
<line x1="284.2" y1="344.04" x2="287.7" y2="344.04" stroke="#161616" stroke-width="1.1"/>
<text x="281.9" y="346.74" font-size="7.6" text-anchor="end" fill="#161616">80</text>
<line x1="285.9" y1="339.11" x2="287.7" y2="339.11" stroke="#161616" stroke-width="0.9"/>
<line x1="285.9" y1="334.17" x2="287.7" y2="334.17" stroke="#161616" stroke-width="0.9"/>
<line x1="285.9" y1="329.24" x2="287.7" y2="329.24" stroke="#161616" stroke-width="0.9"/>
<line x1="284.2" y1="324.3" x2="287.7" y2="324.3" stroke="#161616" stroke-width="1.1"/>
<text x="281.9" y="327" font-size="7.6" text-anchor="end" fill="#161616">100</text>
<text x="260.5" y="372.5" font-size="9" text-anchor="middle" transform="rotate(-90 260.5 372.5)" fill="#161616" textLength="65" lengthAdjust="spacingAndGlyphs">% V<tspan font-size="6.2" dy="1.8">H</tspan><tspan dy="-1.8">1-69</tspan><tspan font-size="6.2" dy="-3.2">+</tspan><tspan dy="3.2"> cells</tspan></text>
<text x="309.6" y="433.9" font-size="8.4" text-anchor="middle" fill="#161616">Pre-th</text>
<text x="353.5" y="433.9" font-size="8.4" text-anchor="middle" fill="#161616">EOT</text>
<text x="396.5" y="433.9" font-size="8.4" text-anchor="middle" fill="#161616">SVR12</text>
<text x="440.5" y="433.9" font-size="8.4" text-anchor="middle" fill="#161616">SVR24</text>
<polyline points="309.4,338.5 352.7,347.9 394.2,348.6 440.3,345.1" fill="none" stroke="#8a1a30" stroke-width="1.5"/>
<polyline points="309.4,343.7 352.7,335.8 394.2,341.7 440.3,343.7" fill="none" stroke="#8a1a30" stroke-width="1.5"/>
<polyline points="309.4,387.7 352.7,397 394.2,406.7 440.3,416.4" fill="none" stroke="#8a1a30" stroke-width="1.5"/>
<polyline points="309.4,410.2 352.7,412.3 394.2,414 440.3,413.7" fill="none" stroke="#8a1a30" stroke-width="1.5"/>
<polyline points="309.4,413.7 352.7,417.8 394.2,418.8 440.3,420.9" fill="none" stroke="#8a1a30" stroke-width="1.5"/>
<text x="9.2" y="465.3" font-size="13.5" font-weight="bold" text-anchor="start" fill="#000">I</text>
<path d="M69.7 504.2h1.0v1.0h-1.0zM69.2 501.9h1.0v1.0h-1.0zM65.2 504.2h1.0v1.0h-1.0zM61.2 502.9h1.0v1.0h-1.0zM68.7 503.7h1.0v1.0h-1.0zM60.1 504.5h1.0v1.0h-1.0zM67.7 507.3h1.0v1.0h-1.0zM78.1 501.9h1.0v1.0h-1.0zM64.3 494.4h1.0v1.0h-1.0zM63.2 505.4h1.0v1.0h-1.0zM68.6 504.9h1.0v1.0h-1.0zM70.4 498.7h1.0v1.0h-1.0zM67.6 494.3h1.0v1.0h-1.0zM64.5 509.7h1.0v1.0h-1.0zM69.4 502.1h1.0v1.0h-1.0zM72.7 502.5h1.0v1.0h-1.0zM60.4 512.0h1.0v1.0h-1.0zM64.0 498.6h1.0v1.0h-1.0zM57.5 505.1h1.0v1.0h-1.0zM59.1 503.4h1.0v1.0h-1.0zM56.8 508.4h1.0v1.0h-1.0zM63.1 499.4h1.0v1.0h-1.0zM60.1 506.2h1.0v1.0h-1.0zM65.6 501.1h1.0v1.0h-1.0zM64.0 505.8h1.0v1.0h-1.0zM66.0 507.0h1.0v1.0h-1.0zM48.4 500.1h1.0v1.0h-1.0zM64.7 504.5h1.0v1.0h-1.0zM73.3 499.8h1.0v1.0h-1.0zM66.7 500.9h1.0v1.0h-1.0zM55.9 506.3h1.0v1.0h-1.0zM65.2 504.4h1.0v1.0h-1.0zM62.5 500.2h1.0v1.0h-1.0zM62.0 504.1h1.0v1.0h-1.0zM74.8 499.5h1.0v1.0h-1.0zM64.2 502.6h1.0v1.0h-1.0zM69.1 495.7h1.0v1.0h-1.0zM71.5 496.0h1.0v1.0h-1.0zM63.8 500.5h1.0v1.0h-1.0zM67.3 503.9h1.0v1.0h-1.0zM66.1 507.2h1.0v1.0h-1.0zM69.1 496.5h1.0v1.0h-1.0zM57.4 499.1h1.0v1.0h-1.0zM71.0 501.5h1.0v1.0h-1.0zM77.9 495.7h1.0v1.0h-1.0zM57.5 500.7h1.0v1.0h-1.0zM72.5 495.4h1.0v1.0h-1.0zM68.5 496.5h1.0v1.0h-1.0zM58.6 504.5h1.0v1.0h-1.0zM79.0 489.8h1.0v1.0h-1.0zM74.2 505.2h1.0v1.0h-1.0zM54.4 499.6h1.0v1.0h-1.0zM70.6 498.6h1.0v1.0h-1.0zM67.6 495.8h1.0v1.0h-1.0zM68.6 492.7h1.0v1.0h-1.0zM70.6 492.7h1.0v1.0h-1.0zM69.5 506.5h1.0v1.0h-1.0zM72.9 507.4h1.0v1.0h-1.0zM74.1 494.2h1.0v1.0h-1.0zM66.5 507.1h1.0v1.0h-1.0zM73.0 500.7h1.0v1.0h-1.0zM64.6 498.1h1.0v1.0h-1.0zM68.2 508.4h1.0v1.0h-1.0zM59.4 513.3h1.0v1.0h-1.0zM61.6 501.0h1.0v1.0h-1.0zM69.4 501.2h1.0v1.0h-1.0zM72.8 500.3h1.0v1.0h-1.0zM75.8 498.4h1.0v1.0h-1.0zM56.9 507.8h1.0v1.0h-1.0zM60.9 509.7h1.0v1.0h-1.0zM69.3 500.4h1.0v1.0h-1.0zM57.4 509.7h1.0v1.0h-1.0zM64.4 509.6h1.0v1.0h-1.0zM69.8 498.9h1.0v1.0h-1.0zM76.7 498.7h1.0v1.0h-1.0zM105.6 548.0h1.0v1.0h-1.0zM98.6 537.2h1.0v1.0h-1.0zM100.3 510.9h1.0v1.0h-1.0zM98.6 527.4h1.0v1.0h-1.0zM99.1 501.8h1.0v1.0h-1.0zM104.6 517.5h1.0v1.0h-1.0zM99.6 519.5h1.0v1.0h-1.0zM105.4 510.9h1.0v1.0h-1.0zM105.3 511.9h1.0v1.0h-1.0zM113.7 535.8h1.0v1.0h-1.0zM96.6 540.9h1.0v1.0h-1.0zM108.0 530.3h1.0v1.0h-1.0zM103.1 527.3h1.0v1.0h-1.0zM103.5 547.7h1.0v1.0h-1.0zM96.3 530.1h1.0v1.0h-1.0zM101.3 518.4h1.0v1.0h-1.0zM107.3 548.1h1.0v1.0h-1.0zM103.2 547.9h1.0v1.0h-1.0zM104.0 545.8h1.0v1.0h-1.0zM102.1 539.4h1.0v1.0h-1.0zM109.4 499.5h1.0v1.0h-1.0zM103.5 554.5h1.0v1.0h-1.0zM92.5 545.2h1.0v1.0h-1.0zM100.1 546.3h1.0v1.0h-1.0zM93.7 528.2h1.0v1.0h-1.0zM87.3 555.2h1.0v1.0h-1.0zM100.9 529.1h1.0v1.0h-1.0zM110.3 546.5h1.0v1.0h-1.0zM103.8 540.2h1.0v1.0h-1.0zM97.7 509.5h1.0v1.0h-1.0zM98.9 545.2h1.0v1.0h-1.0zM109.3 519.8h1.0v1.0h-1.0zM104.4 532.2h1.0v1.0h-1.0zM103.8 531.5h1.0v1.0h-1.0zM103.3 508.0h1.0v1.0h-1.0zM103.8 546.6h1.0v1.0h-1.0zM107.6 501.7h1.0v1.0h-1.0zM106.4 503.5h1.0v1.0h-1.0zM104.7 516.8h1.0v1.0h-1.0zM98.3 553.1h1.0v1.0h-1.0zM106.1 517.0h1.0v1.0h-1.0zM100.1 520.7h1.0v1.0h-1.0zM109.1 510.6h1.0v1.0h-1.0zM97.2 543.5h1.0v1.0h-1.0zM102.9 500.0h1.0v1.0h-1.0zM103.5 503.9h1.0v1.0h-1.0zM96.9 549.3h1.0v1.0h-1.0zM112.2 537.5h1.0v1.0h-1.0zM110.9 554.1h1.0v1.0h-1.0zM101.3 507.2h1.0v1.0h-1.0zM107.5 502.2h1.0v1.0h-1.0zM105.5 497.8h1.0v1.0h-1.0zM90.5 520.1h1.0v1.0h-1.0zM104.8 516.9h1.0v1.0h-1.0zM103.3 516.2h1.0v1.0h-1.0zM104.0 522.5h1.0v1.0h-1.0zM98.2 500.0h1.0v1.0h-1.0zM102.2 520.3h1.0v1.0h-1.0zM102.7 536.3h1.0v1.0h-1.0zM109.5 525.9h1.0v1.0h-1.0zM105.3 555.0h1.0v1.0h-1.0zM103.6 513.5h1.0v1.0h-1.0zM111.3 515.2h1.0v1.0h-1.0zM100.8 531.3h1.0v1.0h-1.0zM101.6 506.0h1.0v1.0h-1.0zM94.5 511.6h1.0v1.0h-1.0zM111.5 536.3h1.0v1.0h-1.0zM108.4 551.5h1.0v1.0h-1.0zM108.2 548.3h1.0v1.0h-1.0zM106.9 545.2h1.0v1.0h-1.0zM104.1 538.2h1.0v1.0h-1.0zM104.7 529.7h1.0v1.0h-1.0zM102.3 501.5h1.0v1.0h-1.0zM102.6 539.7h1.0v1.0h-1.0zM103.9 503.2h1.0v1.0h-1.0zM111.2 516.0h1.0v1.0h-1.0zM106.4 505.9h1.0v1.0h-1.0zM103.3 532.3h1.0v1.0h-1.0zM100.7 555.9h1.0v1.0h-1.0zM100.4 509.8h1.0v1.0h-1.0zM111.6 541.6h1.0v1.0h-1.0zM106.1 547.7h1.0v1.0h-1.0zM103.9 509.0h1.0v1.0h-1.0zM101.8 515.7h1.0v1.0h-1.0zM98.0 543.6h1.0v1.0h-1.0zM103.2 540.3h1.0v1.0h-1.0zM108.0 500.8h1.0v1.0h-1.0zM101.6 540.3h1.0v1.0h-1.0zM102.4 514.7h1.0v1.0h-1.0zM102.5 548.4h1.0v1.0h-1.0zM104.1 508.1h1.0v1.0h-1.0zM95.6 549.1h1.0v1.0h-1.0zM102.4 525.7h1.0v1.0h-1.0zM99.3 554.0h1.0v1.0h-1.0zM108.0 523.7h1.0v1.0h-1.0zM99.7 506.3h1.0v1.0h-1.0zM106.5 551.1h1.0v1.0h-1.0zM111.2 539.9h1.0v1.0h-1.0zM102.0 511.1h1.0v1.0h-1.0zM100.6 520.3h1.0v1.0h-1.0zM104.5 537.7h1.0v1.0h-1.0zM103.6 519.1h1.0v1.0h-1.0zM98.6 529.3h1.0v1.0h-1.0zM105.9 505.3h1.0v1.0h-1.0zM113.7 538.8h1.0v1.0h-1.0zM102.3 511.5h1.0v1.0h-1.0zM102.6 518.7h1.0v1.0h-1.0zM98.3 512.5h1.0v1.0h-1.0zM105.2 533.8h1.0v1.0h-1.0zM97.3 513.4h1.0v1.0h-1.0zM98.0 515.0h1.0v1.0h-1.0zM110.0 533.3h1.0v1.0h-1.0zM99.0 554.5h1.0v1.0h-1.0zM109.0 499.4h1.0v1.0h-1.0zM111.2 514.1h1.0v1.0h-1.0zM104.9 544.0h1.0v1.0h-1.0zM106.4 513.1h1.0v1.0h-1.0zM113.4 539.7h1.0v1.0h-1.0zM102.6 528.5h1.0v1.0h-1.0zM100.6 505.5h1.0v1.0h-1.0zM96.8 529.7h1.0v1.0h-1.0zM103.8 539.1h1.0v1.0h-1.0zM111.0 538.1h1.0v1.0h-1.0zM108.4 551.5h1.0v1.0h-1.0zM98.8 543.1h1.0v1.0h-1.0zM99.3 540.1h1.0v1.0h-1.0zM101.0 545.9h1.0v1.0h-1.0zM105.0 552.3h1.0v1.0h-1.0zM102.5 528.7h1.0v1.0h-1.0zM104.7 543.4h1.0v1.0h-1.0zM105.1 512.6h1.0v1.0h-1.0zM102.1 501.8h1.0v1.0h-1.0zM103.4 540.0h1.0v1.0h-1.0zM104.6 522.4h1.0v1.0h-1.0zM103.2 526.3h1.0v1.0h-1.0zM106.1 551.6h1.0v1.0h-1.0zM113.0 548.7h1.0v1.0h-1.0zM106.6 504.0h1.0v1.0h-1.0zM103.9 528.2h1.0v1.0h-1.0zM95.1 508.7h1.0v1.0h-1.0zM105.5 552.1h1.0v1.0h-1.0zM93.8 521.1h1.0v1.0h-1.0zM96.5 505.2h1.0v1.0h-1.0zM107.9 505.1h1.0v1.0h-1.0zM107.1 555.7h1.0v1.0h-1.0zM102.8 525.4h1.0v1.0h-1.0zM95.0 534.4h1.0v1.0h-1.0zM101.7 511.4h1.0v1.0h-1.0zM100.2 551.7h1.0v1.0h-1.0zM106.8 540.5h1.0v1.0h-1.0zM114.9 508.3h1.0v1.0h-1.0zM104.7 528.4h1.0v1.0h-1.0zM99.7 529.4h1.0v1.0h-1.0zM97.7 499.1h1.0v1.0h-1.0zM103.3 537.2h1.0v1.0h-1.0zM102.7 553.6h1.0v1.0h-1.0zM97.8 533.0h1.0v1.0h-1.0zM104.2 547.0h1.0v1.0h-1.0zM97.8 551.2h1.0v1.0h-1.0zM109.2 522.7h1.0v1.0h-1.0zM108.9 500.0h1.0v1.0h-1.0zM109.0 522.0h1.0v1.0h-1.0zM101.2 518.0h1.0v1.0h-1.0zM106.2 537.0h1.0v1.0h-1.0zM102.9 522.5h1.0v1.0h-1.0zM101.6 511.8h1.0v1.0h-1.0zM101.9 521.4h1.0v1.0h-1.0zM97.1 508.8h1.0v1.0h-1.0zM96.3 523.7h1.0v1.0h-1.0zM107.6 544.4h1.0v1.0h-1.0zM102.6 521.8h1.0v1.0h-1.0zM104.7 527.2h1.0v1.0h-1.0zM108.6 546.3h1.0v1.0h-1.0zM94.9 519.6h1.0v1.0h-1.0zM99.6 508.0h1.0v1.0h-1.0zM104.5 548.1h1.0v1.0h-1.0zM105.5 524.0h1.0v1.0h-1.0zM101.7 512.9h1.0v1.0h-1.0zM108.7 532.4h1.0v1.0h-1.0zM104.6 540.2h1.0v1.0h-1.0zM97.5 534.2h1.0v1.0h-1.0zM98.9 524.2h1.0v1.0h-1.0zM107.6 515.7h1.0v1.0h-1.0zM105.9 523.2h1.0v1.0h-1.0zM94.0 549.8h1.0v1.0h-1.0zM110.3 508.0h1.0v1.0h-1.0zM106.6 501.7h1.0v1.0h-1.0zM110.3 550.1h1.0v1.0h-1.0zM101.7 541.4h1.0v1.0h-1.0zM102.1 545.8h1.0v1.0h-1.0zM97.9 506.1h1.0v1.0h-1.0zM116.3 502.5h1.0v1.0h-1.0zM102.7 553.4h1.0v1.0h-1.0zM111.6 536.5h1.0v1.0h-1.0zM100.3 544.7h1.0v1.0h-1.0zM104.4 528.4h1.0v1.0h-1.0zM95.2 501.9h1.0v1.0h-1.0zM101.7 551.9h1.0v1.0h-1.0zM108.5 546.0h1.0v1.0h-1.0zM97.3 527.4h1.0v1.0h-1.0zM109.0 525.2h1.0v1.0h-1.0zM105.3 512.2h1.0v1.0h-1.0zM98.3 530.3h1.0v1.0h-1.0zM101.1 547.8h1.0v1.0h-1.0zM101.3 535.3h1.0v1.0h-1.0zM103.3 498.3h1.0v1.0h-1.0zM100.9 511.9h1.0v1.0h-1.0zM99.4 549.2h1.0v1.0h-1.0zM102.0 508.5h1.0v1.0h-1.0zM98.4 537.8h1.0v1.0h-1.0zM97.1 510.1h1.0v1.0h-1.0zM103.3 555.3h1.0v1.0h-1.0zM108.0 504.8h1.0v1.0h-1.0zM95.9 546.5h1.0v1.0h-1.0zM103.6 529.3h1.0v1.0h-1.0zM100.3 517.1h1.0v1.0h-1.0zM98.7 526.2h1.0v1.0h-1.0zM107.9 546.3h1.0v1.0h-1.0zM101.0 547.9h1.0v1.0h-1.0zM111.1 539.3h1.0v1.0h-1.0zM99.7 553.0h1.0v1.0h-1.0zM105.5 543.3h1.0v1.0h-1.0zM102.4 548.4h1.0v1.0h-1.0zM99.8 528.7h1.0v1.0h-1.0zM106.5 535.1h1.0v1.0h-1.0zM102.8 521.5h1.0v1.0h-1.0zM106.6 539.5h1.0v1.0h-1.0zM103.3 554.1h1.0v1.0h-1.0zM98.1 536.6h1.0v1.0h-1.0zM103.1 511.6h1.0v1.0h-1.0zM103.8 541.0h1.0v1.0h-1.0zM108.4 532.3h1.0v1.0h-1.0zM99.0 511.7h1.0v1.0h-1.0zM103.4 532.1h1.0v1.0h-1.0zM94.9 503.9h1.0v1.0h-1.0zM106.9 502.1h1.0v1.0h-1.0zM98.1 537.8h1.0v1.0h-1.0zM94.5 512.8h1.0v1.0h-1.0zM103.3 541.2h1.0v1.0h-1.0zM109.1 547.8h1.0v1.0h-1.0zM95.9 530.3h1.0v1.0h-1.0zM98.1 520.6h1.0v1.0h-1.0zM99.8 501.0h1.0v1.0h-1.0zM97.9 547.5h1.0v1.0h-1.0zM105.5 514.2h1.0v1.0h-1.0zM99.5 528.1h1.0v1.0h-1.0zM100.0 548.3h1.0v1.0h-1.0zM106.5 498.9h1.0v1.0h-1.0zM99.8 515.1h1.0v1.0h-1.0zM105.8 548.5h1.0v1.0h-1.0zM98.7 502.8h1.0v1.0h-1.0zM97.5 550.0h1.0v1.0h-1.0zM94.4 550.6h1.0v1.0h-1.0zM112.9 536.6h1.0v1.0h-1.0zM102.0 500.9h1.0v1.0h-1.0zM104.8 554.1h1.0v1.0h-1.0zM103.4 502.1h1.0v1.0h-1.0zM104.4 520.1h1.0v1.0h-1.0zM103.8 552.1h1.0v1.0h-1.0zM113.2 522.6h1.0v1.0h-1.0zM98.4 529.1h1.0v1.0h-1.0zM95.8 522.9h1.0v1.0h-1.0zM98.5 512.7h1.0v1.0h-1.0zM96.9 516.1h1.0v1.0h-1.0zM107.3 497.4h1.0v1.0h-1.0zM107.7 546.8h1.0v1.0h-1.0zM98.8 508.3h1.0v1.0h-1.0zM96.6 531.9h1.0v1.0h-1.0zM101.8 510.0h1.0v1.0h-1.0zM110.6 503.6h1.0v1.0h-1.0zM89.4 497.7h1.0v1.0h-1.0zM106.2 540.4h1.0v1.0h-1.0zM98.2 529.4h1.0v1.0h-1.0zM108.8 500.6h1.0v1.0h-1.0zM98.2 500.4h1.0v1.0h-1.0zM102.1 534.1h1.0v1.0h-1.0zM96.0 500.8h1.0v1.0h-1.0zM98.7 532.2h1.0v1.0h-1.0zM110.5 534.0h1.0v1.0h-1.0zM107.7 511.6h1.0v1.0h-1.0zM101.6 528.3h1.0v1.0h-1.0zM99.2 529.7h1.0v1.0h-1.0zM94.1 533.3h1.0v1.0h-1.0zM101.6 530.6h1.0v1.0h-1.0zM103.4 547.8h1.0v1.0h-1.0zM103.2 552.5h1.0v1.0h-1.0zM103.1 511.7h1.0v1.0h-1.0zM97.9 522.9h1.0v1.0h-1.0zM103.2 516.5h1.0v1.0h-1.0zM103.4 508.9h1.0v1.0h-1.0zM110.1 542.5h1.0v1.0h-1.0zM113.0 542.3h1.0v1.0h-1.0zM102.9 539.7h1.0v1.0h-1.0zM99.7 538.2h1.0v1.0h-1.0zM103.3 511.3h1.0v1.0h-1.0zM100.5 534.0h1.0v1.0h-1.0zM99.9 537.0h1.0v1.0h-1.0zM103.3 518.6h1.0v1.0h-1.0zM98.3 545.1h1.0v1.0h-1.0zM106.6 549.8h1.0v1.0h-1.0zM108.6 509.3h1.0v1.0h-1.0zM109.0 512.0h1.0v1.0h-1.0zM107.7 510.5h1.0v1.0h-1.0zM109.4 521.4h1.0v1.0h-1.0zM107.9 518.0h1.0v1.0h-1.0zM110.4 511.2h1.0v1.0h-1.0zM107.7 503.5h1.0v1.0h-1.0zM109.1 506.3h1.0v1.0h-1.0zM111.3 510.0h1.0v1.0h-1.0zM114.6 512.6h1.0v1.0h-1.0zM107.1 523.2h1.0v1.0h-1.0zM108.3 504.8h1.0v1.0h-1.0zM107.5 522.1h1.0v1.0h-1.0zM110.9 520.8h1.0v1.0h-1.0zM106.8 508.9h1.0v1.0h-1.0zM108.2 506.4h1.0v1.0h-1.0zM109.2 507.0h1.0v1.0h-1.0zM107.2 514.0h1.0v1.0h-1.0zM107.2 519.8h1.0v1.0h-1.0zM108.2 522.8h1.0v1.0h-1.0zM104.8 505.6h1.0v1.0h-1.0zM106.2 503.0h1.0v1.0h-1.0zM108.4 518.4h1.0v1.0h-1.0zM109.5 505.3h1.0v1.0h-1.0zM108.8 515.0h1.0v1.0h-1.0zM105.5 517.0h1.0v1.0h-1.0zM108.3 512.9h1.0v1.0h-1.0zM110.9 523.3h1.0v1.0h-1.0zM110.4 514.2h1.0v1.0h-1.0zM109.1 519.3h1.0v1.0h-1.0zM107.4 508.5h1.0v1.0h-1.0zM110.5 512.9h1.0v1.0h-1.0zM108.0 505.3h1.0v1.0h-1.0zM106.8 504.7h1.0v1.0h-1.0zM107.6 516.8h1.0v1.0h-1.0zM112.3 517.6h1.0v1.0h-1.0zM109.7 503.8h1.0v1.0h-1.0zM111.7 512.9h1.0v1.0h-1.0zM108.2 521.5h1.0v1.0h-1.0zM111.2 522.5h1.0v1.0h-1.0zM108.0 502.7h1.0v1.0h-1.0zM108.9 511.3h1.0v1.0h-1.0zM114.4 522.4h1.0v1.0h-1.0zM110.8 512.8h1.0v1.0h-1.0zM108.2 512.9h1.0v1.0h-1.0zM109.1 514.4h1.0v1.0h-1.0zM109.9 503.5h1.0v1.0h-1.0zM111.8 503.6h1.0v1.0h-1.0zM108.2 520.9h1.0v1.0h-1.0zM105.6 520.3h1.0v1.0h-1.0zM108.6 514.9h1.0v1.0h-1.0zM109.3 506.0h1.0v1.0h-1.0zM109.5 510.4h1.0v1.0h-1.0zM112.0 508.2h1.0v1.0h-1.0zM109.9 511.4h1.0v1.0h-1.0zM110.9 519.1h1.0v1.0h-1.0zM106.9 506.3h1.0v1.0h-1.0zM111.0 523.2h1.0v1.0h-1.0zM113.6 508.8h1.0v1.0h-1.0zM110.8 519.4h1.0v1.0h-1.0zM69.2 531.0h1.0v1.0h-1.0zM83.4 518.1h1.0v1.0h-1.0zM71.1 552.8h1.0v1.0h-1.0zM57.5 522.8h1.0v1.0h-1.0zM68.0 533.4h1.0v1.0h-1.0zM74.5 539.9h1.0v1.0h-1.0zM57.5 541.0h1.0v1.0h-1.0zM63.0 552.2h1.0v1.0h-1.0zM56.4 544.7h1.0v1.0h-1.0zM71.1 530.1h1.0v1.0h-1.0zM66.6 551.1h1.0v1.0h-1.0zM70.1 528.3h1.0v1.0h-1.0zM64.2 516.6h1.0v1.0h-1.0zM74.4 515.9h1.0v1.0h-1.0zM60.8 519.5h1.0v1.0h-1.0zM81.5 522.8h1.0v1.0h-1.0zM83.0 547.9h1.0v1.0h-1.0zM69.8 516.3h1.0v1.0h-1.0zM69.0 546.9h1.0v1.0h-1.0zM80.2 520.3h1.0v1.0h-1.0zM64.1 520.0h1.0v1.0h-1.0zM78.6 530.2h1.0v1.0h-1.0zM64.0 534.2h1.0v1.0h-1.0zM76.2 547.0h1.0v1.0h-1.0zM65.3 534.3h1.0v1.0h-1.0zM92.5 555.2h1.0v1.0h-1.0zM87.2 556.0h1.0v1.0h-1.0zM87.2 555.1h1.0v1.0h-1.0zM109.1 554.7h1.0v1.0h-1.0zM113.0 554.7h1.0v1.0h-1.0zM87.7 555.7h1.0v1.0h-1.0zM83.5 554.2h1.0v1.0h-1.0zM91.6 554.7h1.0v1.0h-1.0zM87.4 555.4h1.0v1.0h-1.0zM89.2 555.4h1.0v1.0h-1.0zM102.0 554.6h1.0v1.0h-1.0zM96.8 555.9h1.0v1.0h-1.0zM97.0 554.9h1.0v1.0h-1.0zM89.7 554.8h1.0v1.0h-1.0zM104.6 555.2h1.0v1.0h-1.0zM92.5 554.4h1.0v1.0h-1.0zM96.0 555.3h1.0v1.0h-1.0zM98.1 555.3h1.0v1.0h-1.0zM112.4 555.7h1.0v1.0h-1.0zM91.1 554.3h1.0v1.0h-1.0zM106.4 555.6h1.0v1.0h-1.0zM93.1 554.8h1.0v1.0h-1.0zM112.1 555.4h1.0v1.0h-1.0zM95.9 554.3h1.0v1.0h-1.0zM99.5 554.3h1.0v1.0h-1.0zM111.5 556.2h1.0v1.0h-1.0zM104.9 554.2h1.0v1.0h-1.0zM86.1 555.0h1.0v1.0h-1.0zM87.5 556.1h1.0v1.0h-1.0zM115.2 555.2h1.0v1.0h-1.0zM84.0 556.2h1.0v1.0h-1.0zM92.8 555.1h1.0v1.0h-1.0zM114.2 555.9h1.0v1.0h-1.0zM83.6 555.5h1.0v1.0h-1.0zM88.3 555.6h1.0v1.0h-1.0zM90.0 555.0h1.0v1.0h-1.0zM85.9 554.5h1.0v1.0h-1.0zM98.4 554.3h1.0v1.0h-1.0zM102.3 555.6h1.0v1.0h-1.0zM93.4 555.1h1.0v1.0h-1.0zM86.6 556.2h1.0v1.0h-1.0zM109.4 555.5h1.0v1.0h-1.0zM109.2 554.2h1.0v1.0h-1.0zM101.3 556.0h1.0v1.0h-1.0zM87.5 554.4h1.0v1.0h-1.0zM100.6 554.9h1.0v1.0h-1.0zM103.5 555.6h1.0v1.0h-1.0zM97.0 554.6h1.0v1.0h-1.0zM111.1 555.7h1.0v1.0h-1.0zM95.7 554.4h1.0v1.0h-1.0z" fill="#1a1a1a" fill-opacity="0.88"/>
<line x1="83.3" y1="473.1" x2="83.3" y2="557.1" stroke="#808080" stroke-width="0.9"/>
<line x1="47.5" y1="514.9" x2="131.2" y2="514.9" stroke="#808080" stroke-width="0.9"/>
<rect x="47.5" y="473.1" width="83.7" height="84" fill="none" stroke="#222" stroke-width="1.1"/>
<line x1="47.5" y1="557.1" x2="47.5" y2="559.7" stroke="#161616" stroke-width="0.9"/>
<line x1="53.8" y1="557.1" x2="53.8" y2="558.5" stroke="#161616" stroke-width="0.6"/>
<line x1="57.48" y1="557.1" x2="57.48" y2="558.5" stroke="#161616" stroke-width="0.6"/>
<line x1="60.1" y1="557.1" x2="60.1" y2="558.5" stroke="#161616" stroke-width="0.6"/>
<line x1="62.13" y1="557.1" x2="62.13" y2="558.5" stroke="#161616" stroke-width="0.6"/>
<line x1="63.78" y1="557.1" x2="63.78" y2="558.5" stroke="#161616" stroke-width="0.6"/>
<line x1="65.18" y1="557.1" x2="65.18" y2="558.5" stroke="#161616" stroke-width="0.6"/>
<line x1="66.4" y1="557.1" x2="66.4" y2="558.5" stroke="#161616" stroke-width="0.6"/>
<line x1="67.47" y1="557.1" x2="67.47" y2="558.5" stroke="#161616" stroke-width="0.6"/>
<line x1="68.42" y1="557.1" x2="68.42" y2="559.7" stroke="#161616" stroke-width="0.9"/>
<line x1="74.72" y1="557.1" x2="74.72" y2="558.5" stroke="#161616" stroke-width="0.6"/>
<line x1="78.41" y1="557.1" x2="78.41" y2="558.5" stroke="#161616" stroke-width="0.6"/>
<line x1="81.02" y1="557.1" x2="81.02" y2="558.5" stroke="#161616" stroke-width="0.6"/>
<line x1="83.05" y1="557.1" x2="83.05" y2="558.5" stroke="#161616" stroke-width="0.6"/>
<line x1="84.71" y1="557.1" x2="84.71" y2="558.5" stroke="#161616" stroke-width="0.6"/>
<line x1="86.11" y1="557.1" x2="86.11" y2="558.5" stroke="#161616" stroke-width="0.6"/>
<line x1="87.32" y1="557.1" x2="87.32" y2="558.5" stroke="#161616" stroke-width="0.6"/>
<line x1="88.39" y1="557.1" x2="88.39" y2="558.5" stroke="#161616" stroke-width="0.6"/>
<line x1="89.35" y1="557.1" x2="89.35" y2="559.7" stroke="#161616" stroke-width="0.9"/>
<line x1="95.65" y1="557.1" x2="95.65" y2="558.5" stroke="#161616" stroke-width="0.6"/>
<line x1="99.33" y1="557.1" x2="99.33" y2="558.5" stroke="#161616" stroke-width="0.6"/>
<line x1="101.95" y1="557.1" x2="101.95" y2="558.5" stroke="#161616" stroke-width="0.6"/>
<line x1="103.98" y1="557.1" x2="103.98" y2="558.5" stroke="#161616" stroke-width="0.6"/>
<line x1="105.63" y1="557.1" x2="105.63" y2="558.5" stroke="#161616" stroke-width="0.6"/>
<line x1="107.03" y1="557.1" x2="107.03" y2="558.5" stroke="#161616" stroke-width="0.6"/>
<line x1="108.25" y1="557.1" x2="108.25" y2="558.5" stroke="#161616" stroke-width="0.6"/>
<line x1="109.32" y1="557.1" x2="109.32" y2="558.5" stroke="#161616" stroke-width="0.6"/>
<line x1="110.27" y1="557.1" x2="110.27" y2="559.7" stroke="#161616" stroke-width="0.9"/>
<line x1="116.57" y1="557.1" x2="116.57" y2="558.5" stroke="#161616" stroke-width="0.6"/>
<line x1="120.26" y1="557.1" x2="120.26" y2="558.5" stroke="#161616" stroke-width="0.6"/>
<line x1="122.87" y1="557.1" x2="122.87" y2="558.5" stroke="#161616" stroke-width="0.6"/>
<line x1="124.9" y1="557.1" x2="124.9" y2="558.5" stroke="#161616" stroke-width="0.6"/>
<line x1="126.56" y1="557.1" x2="126.56" y2="558.5" stroke="#161616" stroke-width="0.6"/>
<line x1="127.96" y1="557.1" x2="127.96" y2="558.5" stroke="#161616" stroke-width="0.6"/>
<line x1="129.17" y1="557.1" x2="129.17" y2="558.5" stroke="#161616" stroke-width="0.6"/>
<line x1="130.24" y1="557.1" x2="130.24" y2="558.5" stroke="#161616" stroke-width="0.6"/>
<line x1="131.2" y1="557.1" x2="131.2" y2="559.7" stroke="#161616" stroke-width="0.9"/>
<line x1="47.5" y1="557.1" x2="44.9" y2="557.1" stroke="#161616" stroke-width="0.9"/>
<line x1="47.5" y1="550.78" x2="46.1" y2="550.78" stroke="#161616" stroke-width="0.6"/>
<line x1="47.5" y1="547.08" x2="46.1" y2="547.08" stroke="#161616" stroke-width="0.6"/>
<line x1="47.5" y1="544.46" x2="46.1" y2="544.46" stroke="#161616" stroke-width="0.6"/>
<line x1="47.5" y1="542.42" x2="46.1" y2="542.42" stroke="#161616" stroke-width="0.6"/>
<line x1="47.5" y1="540.76" x2="46.1" y2="540.76" stroke="#161616" stroke-width="0.6"/>
<line x1="47.5" y1="539.35" x2="46.1" y2="539.35" stroke="#161616" stroke-width="0.6"/>
<line x1="47.5" y1="538.14" x2="46.1" y2="538.14" stroke="#161616" stroke-width="0.6"/>
<line x1="47.5" y1="537.06" x2="46.1" y2="537.06" stroke="#161616" stroke-width="0.6"/>
<line x1="47.5" y1="536.1" x2="44.9" y2="536.1" stroke="#161616" stroke-width="0.9"/>
<line x1="47.5" y1="529.78" x2="46.1" y2="529.78" stroke="#161616" stroke-width="0.6"/>
<line x1="47.5" y1="526.08" x2="46.1" y2="526.08" stroke="#161616" stroke-width="0.6"/>
<line x1="47.5" y1="523.46" x2="46.1" y2="523.46" stroke="#161616" stroke-width="0.6"/>
<line x1="47.5" y1="521.42" x2="46.1" y2="521.42" stroke="#161616" stroke-width="0.6"/>
<line x1="47.5" y1="519.76" x2="46.1" y2="519.76" stroke="#161616" stroke-width="0.6"/>
<line x1="47.5" y1="518.35" x2="46.1" y2="518.35" stroke="#161616" stroke-width="0.6"/>
<line x1="47.5" y1="517.14" x2="46.1" y2="517.14" stroke="#161616" stroke-width="0.6"/>
<line x1="47.5" y1="516.06" x2="46.1" y2="516.06" stroke="#161616" stroke-width="0.6"/>
<line x1="47.5" y1="515.1" x2="44.9" y2="515.1" stroke="#161616" stroke-width="0.9"/>
<line x1="47.5" y1="508.78" x2="46.1" y2="508.78" stroke="#161616" stroke-width="0.6"/>
<line x1="47.5" y1="505.08" x2="46.1" y2="505.08" stroke="#161616" stroke-width="0.6"/>
<line x1="47.5" y1="502.46" x2="46.1" y2="502.46" stroke="#161616" stroke-width="0.6"/>
<line x1="47.5" y1="500.42" x2="46.1" y2="500.42" stroke="#161616" stroke-width="0.6"/>
<line x1="47.5" y1="498.76" x2="46.1" y2="498.76" stroke="#161616" stroke-width="0.6"/>
<line x1="47.5" y1="497.35" x2="46.1" y2="497.35" stroke="#161616" stroke-width="0.6"/>
<line x1="47.5" y1="496.14" x2="46.1" y2="496.14" stroke="#161616" stroke-width="0.6"/>
<line x1="47.5" y1="495.06" x2="46.1" y2="495.06" stroke="#161616" stroke-width="0.6"/>
<line x1="47.5" y1="494.1" x2="44.9" y2="494.1" stroke="#161616" stroke-width="0.9"/>
<line x1="47.5" y1="487.78" x2="46.1" y2="487.78" stroke="#161616" stroke-width="0.6"/>
<line x1="47.5" y1="484.08" x2="46.1" y2="484.08" stroke="#161616" stroke-width="0.6"/>
<line x1="47.5" y1="481.46" x2="46.1" y2="481.46" stroke="#161616" stroke-width="0.6"/>
<line x1="47.5" y1="479.42" x2="46.1" y2="479.42" stroke="#161616" stroke-width="0.6"/>
<line x1="47.5" y1="477.76" x2="46.1" y2="477.76" stroke="#161616" stroke-width="0.6"/>
<line x1="47.5" y1="476.35" x2="46.1" y2="476.35" stroke="#161616" stroke-width="0.6"/>
<line x1="47.5" y1="475.14" x2="46.1" y2="475.14" stroke="#161616" stroke-width="0.6"/>
<line x1="47.5" y1="474.06" x2="46.1" y2="474.06" stroke="#161616" stroke-width="0.6"/>
<line x1="47.5" y1="473.1" x2="44.9" y2="473.1" stroke="#161616" stroke-width="0.9"/>
<text x="88.8" y="468.4" font-size="8.7" font-weight="bold" text-anchor="middle" fill="#161616">Pre-th</text>
<text x="51.5" y="484" font-size="8.0" font-weight="bold" text-anchor="start" fill="#161616">9</text>
<text x="127.4" y="484" font-size="8.0" font-weight="bold" text-anchor="end" fill="#161616">14</text>
<text x="51.5" y="553.7" font-size="8.0" font-weight="bold" text-anchor="start" fill="#161616">5</text>
<text x="127.4" y="553.7" font-size="8.0" font-weight="bold" text-anchor="end" fill="#161616">72</text>
<text x="47.8" y="569.6" font-size="6.6" text-anchor="middle" fill="#161616" textLength="8.9" lengthAdjust="spacingAndGlyphs">10<tspan font-size="4.36" dy="-2.6">0</tspan></text>
<text x="42.2" y="559.4" font-size="6.6" text-anchor="end" fill="#161616" textLength="8.9" lengthAdjust="spacingAndGlyphs">10<tspan font-size="4.36" dy="-2.6">0</tspan></text>
<text x="68.72" y="569.6" font-size="6.6" text-anchor="middle" fill="#161616" textLength="8.9" lengthAdjust="spacingAndGlyphs">10<tspan font-size="4.36" dy="-2.6">1</tspan></text>
<text x="42.2" y="538.4" font-size="6.6" text-anchor="end" fill="#161616" textLength="8.9" lengthAdjust="spacingAndGlyphs">10<tspan font-size="4.36" dy="-2.6">1</tspan></text>
<text x="89.65" y="569.6" font-size="6.6" text-anchor="middle" fill="#161616" textLength="8.9" lengthAdjust="spacingAndGlyphs">10<tspan font-size="4.36" dy="-2.6">2</tspan></text>
<text x="42.2" y="517.4" font-size="6.6" text-anchor="end" fill="#161616" textLength="8.9" lengthAdjust="spacingAndGlyphs">10<tspan font-size="4.36" dy="-2.6">2</tspan></text>
<text x="110.57" y="569.6" font-size="6.6" text-anchor="middle" fill="#161616" textLength="8.9" lengthAdjust="spacingAndGlyphs">10<tspan font-size="4.36" dy="-2.6">3</tspan></text>
<text x="42.2" y="496.4" font-size="6.6" text-anchor="end" fill="#161616" textLength="8.9" lengthAdjust="spacingAndGlyphs">10<tspan font-size="4.36" dy="-2.6">3</tspan></text>
<text x="131.5" y="569.6" font-size="6.6" text-anchor="middle" fill="#161616" textLength="8.9" lengthAdjust="spacingAndGlyphs">10<tspan font-size="4.36" dy="-2.6">4</tspan></text>
<text x="42.2" y="475.4" font-size="6.6" text-anchor="end" fill="#161616" textLength="8.9" lengthAdjust="spacingAndGlyphs">10<tspan font-size="4.36" dy="-2.6">4</tspan></text>
<text x="89.95" y="582.3" font-size="8.6" text-anchor="middle" fill="#161616" textLength="25.4" lengthAdjust="spacingAndGlyphs">V<tspan font-size="5.9" dy="1.6">H</tspan><tspan dy="-1.6">1-69</tspan></text>
<text x="26.5" y="515.1" font-size="9.2" text-anchor="middle" transform="rotate(-90 26.5 515.1)" fill="#161616" textLength="18.4" lengthAdjust="spacingAndGlyphs">CD21</text>
<path d="M199.5 501.2h1.0v1.0h-1.0zM187.3 497.5h1.0v1.0h-1.0zM195.3 498.9h1.0v1.0h-1.0zM192.6 505.5h1.0v1.0h-1.0zM195.8 503.6h1.0v1.0h-1.0zM196.1 495.1h1.0v1.0h-1.0zM191.9 500.0h1.0v1.0h-1.0zM192.9 501.0h1.0v1.0h-1.0zM198.2 497.5h1.0v1.0h-1.0zM196.6 492.8h1.0v1.0h-1.0zM192.7 496.7h1.0v1.0h-1.0zM202.9 500.6h1.0v1.0h-1.0zM203.9 499.8h1.0v1.0h-1.0zM189.8 499.0h1.0v1.0h-1.0zM196.4 503.1h1.0v1.0h-1.0zM204.7 504.6h1.0v1.0h-1.0zM198.2 500.9h1.0v1.0h-1.0zM196.1 504.2h1.0v1.0h-1.0zM194.5 501.2h1.0v1.0h-1.0zM193.2 500.7h1.0v1.0h-1.0zM194.5 493.2h1.0v1.0h-1.0zM193.2 503.9h1.0v1.0h-1.0zM198.1 501.4h1.0v1.0h-1.0zM193.8 501.6h1.0v1.0h-1.0zM193.6 499.6h1.0v1.0h-1.0zM190.8 497.5h1.0v1.0h-1.0zM195.1 502.7h1.0v1.0h-1.0zM191.9 503.8h1.0v1.0h-1.0zM194.6 506.5h1.0v1.0h-1.0zM199.2 504.1h1.0v1.0h-1.0zM196.6 499.2h1.0v1.0h-1.0zM197.2 500.9h1.0v1.0h-1.0zM196.6 504.4h1.0v1.0h-1.0zM195.5 502.3h1.0v1.0h-1.0zM194.8 500.9h1.0v1.0h-1.0zM194.1 499.3h1.0v1.0h-1.0zM198.1 503.0h1.0v1.0h-1.0zM191.2 501.9h1.0v1.0h-1.0zM200.3 507.1h1.0v1.0h-1.0zM195.4 504.9h1.0v1.0h-1.0zM192.5 495.6h1.0v1.0h-1.0zM193.4 508.4h1.0v1.0h-1.0zM192.7 502.2h1.0v1.0h-1.0zM195.9 500.3h1.0v1.0h-1.0zM192.6 502.3h1.0v1.0h-1.0zM199.5 503.7h1.0v1.0h-1.0zM192.3 501.2h1.0v1.0h-1.0zM186.8 501.0h1.0v1.0h-1.0zM192.5 501.3h1.0v1.0h-1.0zM187.7 507.3h1.0v1.0h-1.0zM191.3 500.8h1.0v1.0h-1.0zM185.4 500.1h1.0v1.0h-1.0zM188.0 503.9h1.0v1.0h-1.0zM194.4 518.6h1.0v1.0h-1.0zM197.9 509.2h1.0v1.0h-1.0zM200.0 508.0h1.0v1.0h-1.0zM188.4 510.8h1.0v1.0h-1.0zM200.2 504.6h1.0v1.0h-1.0zM202.3 499.4h1.0v1.0h-1.0zM202.0 508.2h1.0v1.0h-1.0zM204.1 511.6h1.0v1.0h-1.0zM191.3 495.0h1.0v1.0h-1.0zM191.1 508.0h1.0v1.0h-1.0zM199.4 512.1h1.0v1.0h-1.0zM181.2 504.4h1.0v1.0h-1.0zM194.3 503.4h1.0v1.0h-1.0zM188.1 509.4h1.0v1.0h-1.0zM189.5 501.5h1.0v1.0h-1.0zM178.1 508.2h1.0v1.0h-1.0zM185.2 510.5h1.0v1.0h-1.0zM192.4 504.7h1.0v1.0h-1.0zM200.0 501.6h1.0v1.0h-1.0zM200.8 509.0h1.0v1.0h-1.0zM191.9 503.9h1.0v1.0h-1.0zM191.0 506.1h1.0v1.0h-1.0zM185.6 490.8h1.0v1.0h-1.0zM195.9 509.4h1.0v1.0h-1.0zM190.5 498.4h1.0v1.0h-1.0zM197.6 505.9h1.0v1.0h-1.0zM207.1 506.3h1.0v1.0h-1.0zM192.3 501.9h1.0v1.0h-1.0zM180.1 501.0h1.0v1.0h-1.0zM185.4 499.0h1.0v1.0h-1.0zM180.4 503.9h1.0v1.0h-1.0zM182.6 508.8h1.0v1.0h-1.0zM203.4 508.5h1.0v1.0h-1.0zM194.4 503.0h1.0v1.0h-1.0zM179.9 502.6h1.0v1.0h-1.0zM198.0 498.3h1.0v1.0h-1.0zM203.0 503.5h1.0v1.0h-1.0zM189.6 500.1h1.0v1.0h-1.0zM186.9 497.7h1.0v1.0h-1.0zM189.8 504.8h1.0v1.0h-1.0zM194.9 513.4h1.0v1.0h-1.0zM197.9 511.8h1.0v1.0h-1.0zM202.4 513.2h1.0v1.0h-1.0zM202.6 497.3h1.0v1.0h-1.0zM202.4 510.1h1.0v1.0h-1.0zM203.9 499.2h1.0v1.0h-1.0zM198.1 502.6h1.0v1.0h-1.0zM179.8 496.6h1.0v1.0h-1.0zM191.5 500.4h1.0v1.0h-1.0zM195.2 506.2h1.0v1.0h-1.0zM189.4 506.7h1.0v1.0h-1.0zM200.1 505.2h1.0v1.0h-1.0zM189.6 504.7h1.0v1.0h-1.0zM184.9 508.4h1.0v1.0h-1.0zM204.6 505.8h1.0v1.0h-1.0zM198.1 497.2h1.0v1.0h-1.0zM194.4 514.6h1.0v1.0h-1.0zM193.3 548.5h1.0v1.0h-1.0zM197.0 530.1h1.0v1.0h-1.0zM195.7 522.7h1.0v1.0h-1.0zM196.6 539.6h1.0v1.0h-1.0zM189.9 547.5h1.0v1.0h-1.0zM196.6 531.3h1.0v1.0h-1.0zM189.0 546.8h1.0v1.0h-1.0zM195.0 522.7h1.0v1.0h-1.0zM191.6 546.9h1.0v1.0h-1.0zM194.0 539.4h1.0v1.0h-1.0zM181.5 535.2h1.0v1.0h-1.0zM192.5 547.1h1.0v1.0h-1.0zM186.2 540.8h1.0v1.0h-1.0zM189.9 542.1h1.0v1.0h-1.0zM226.5 546.9h1.0v1.0h-1.0zM237.2 505.8h1.0v1.0h-1.0zM225.4 544.3h1.0v1.0h-1.0zM230.1 513.9h1.0v1.0h-1.0zM232.3 546.4h1.0v1.0h-1.0zM235.1 503.3h1.0v1.0h-1.0zM232.9 544.0h1.0v1.0h-1.0zM232.8 512.3h1.0v1.0h-1.0zM227.6 505.9h1.0v1.0h-1.0zM225.1 540.8h1.0v1.0h-1.0zM231.3 550.5h1.0v1.0h-1.0zM227.8 521.0h1.0v1.0h-1.0zM225.1 526.2h1.0v1.0h-1.0zM225.2 527.4h1.0v1.0h-1.0zM228.8 509.3h1.0v1.0h-1.0zM222.6 528.3h1.0v1.0h-1.0zM224.9 526.3h1.0v1.0h-1.0zM223.6 526.9h1.0v1.0h-1.0zM231.9 528.8h1.0v1.0h-1.0zM232.9 531.8h1.0v1.0h-1.0zM240.2 546.4h1.0v1.0h-1.0zM224.2 538.4h1.0v1.0h-1.0zM227.9 540.2h1.0v1.0h-1.0zM235.2 541.2h1.0v1.0h-1.0zM230.0 509.2h1.0v1.0h-1.0zM229.5 549.2h1.0v1.0h-1.0zM238.9 543.8h1.0v1.0h-1.0zM229.5 524.5h1.0v1.0h-1.0zM225.7 537.3h1.0v1.0h-1.0zM225.0 541.7h1.0v1.0h-1.0zM232.6 533.7h1.0v1.0h-1.0zM232.4 526.0h1.0v1.0h-1.0zM224.8 515.7h1.0v1.0h-1.0zM226.5 497.9h1.0v1.0h-1.0zM233.5 505.0h1.0v1.0h-1.0zM233.7 530.3h1.0v1.0h-1.0zM228.1 529.0h1.0v1.0h-1.0zM233.9 531.2h1.0v1.0h-1.0zM233.7 541.7h1.0v1.0h-1.0zM222.9 499.1h1.0v1.0h-1.0zM229.6 551.9h1.0v1.0h-1.0zM232.9 543.8h1.0v1.0h-1.0zM228.4 516.4h1.0v1.0h-1.0zM221.3 520.8h1.0v1.0h-1.0zM229.7 539.4h1.0v1.0h-1.0zM234.5 500.0h1.0v1.0h-1.0zM238.3 531.5h1.0v1.0h-1.0zM221.0 520.4h1.0v1.0h-1.0zM243.0 550.6h1.0v1.0h-1.0zM225.9 502.7h1.0v1.0h-1.0zM235.4 549.9h1.0v1.0h-1.0zM236.7 532.5h1.0v1.0h-1.0zM235.5 503.0h1.0v1.0h-1.0zM231.7 499.5h1.0v1.0h-1.0zM225.7 501.9h1.0v1.0h-1.0zM233.9 506.5h1.0v1.0h-1.0zM227.8 542.1h1.0v1.0h-1.0zM219.5 554.1h1.0v1.0h-1.0zM244.0 529.0h1.0v1.0h-1.0zM234.3 552.3h1.0v1.0h-1.0zM239.4 498.6h1.0v1.0h-1.0zM226.9 555.6h1.0v1.0h-1.0zM237.8 536.6h1.0v1.0h-1.0zM238.3 543.9h1.0v1.0h-1.0zM238.2 555.2h1.0v1.0h-1.0zM230.9 526.2h1.0v1.0h-1.0zM225.5 551.5h1.0v1.0h-1.0zM230.2 502.2h1.0v1.0h-1.0zM221.0 514.9h1.0v1.0h-1.0zM223.3 533.9h1.0v1.0h-1.0zM231.5 505.7h1.0v1.0h-1.0zM226.5 508.4h1.0v1.0h-1.0zM230.3 536.5h1.0v1.0h-1.0zM230.5 505.3h1.0v1.0h-1.0zM239.9 500.4h1.0v1.0h-1.0zM237.0 518.9h1.0v1.0h-1.0zM230.8 535.0h1.0v1.0h-1.0zM236.6 502.1h1.0v1.0h-1.0zM227.5 499.6h1.0v1.0h-1.0zM229.5 535.3h1.0v1.0h-1.0zM235.2 550.9h1.0v1.0h-1.0zM225.4 504.1h1.0v1.0h-1.0zM229.8 516.3h1.0v1.0h-1.0zM225.0 542.2h1.0v1.0h-1.0zM231.6 522.1h1.0v1.0h-1.0zM238.5 537.6h1.0v1.0h-1.0zM227.6 501.0h1.0v1.0h-1.0zM232.1 535.6h1.0v1.0h-1.0zM226.9 544.3h1.0v1.0h-1.0zM225.8 553.5h1.0v1.0h-1.0zM225.4 535.6h1.0v1.0h-1.0zM237.7 496.8h1.0v1.0h-1.0zM241.9 543.0h1.0v1.0h-1.0zM233.3 528.6h1.0v1.0h-1.0zM227.8 497.9h1.0v1.0h-1.0zM234.3 555.6h1.0v1.0h-1.0zM229.5 538.4h1.0v1.0h-1.0zM234.7 506.9h1.0v1.0h-1.0zM232.4 550.3h1.0v1.0h-1.0zM232.3 500.5h1.0v1.0h-1.0zM233.8 506.1h1.0v1.0h-1.0zM228.4 547.5h1.0v1.0h-1.0zM229.2 520.6h1.0v1.0h-1.0zM223.2 522.8h1.0v1.0h-1.0zM229.0 514.5h1.0v1.0h-1.0zM224.5 537.7h1.0v1.0h-1.0zM230.4 533.1h1.0v1.0h-1.0zM226.7 541.6h1.0v1.0h-1.0zM231.5 538.6h1.0v1.0h-1.0zM233.1 545.5h1.0v1.0h-1.0zM224.5 501.9h1.0v1.0h-1.0zM227.3 502.9h1.0v1.0h-1.0zM226.7 534.5h1.0v1.0h-1.0zM234.5 514.6h1.0v1.0h-1.0zM238.8 526.7h1.0v1.0h-1.0zM234.9 539.2h1.0v1.0h-1.0zM229.4 535.1h1.0v1.0h-1.0zM237.7 498.3h1.0v1.0h-1.0zM224.1 535.6h1.0v1.0h-1.0zM237.9 521.4h1.0v1.0h-1.0zM228.0 499.5h1.0v1.0h-1.0zM218.3 538.2h1.0v1.0h-1.0zM243.2 507.6h1.0v1.0h-1.0zM238.3 549.2h1.0v1.0h-1.0zM226.3 512.2h1.0v1.0h-1.0zM231.8 507.8h1.0v1.0h-1.0zM230.1 505.9h1.0v1.0h-1.0zM231.5 497.7h1.0v1.0h-1.0zM224.3 513.5h1.0v1.0h-1.0zM227.9 497.6h1.0v1.0h-1.0zM233.2 539.4h1.0v1.0h-1.0zM232.1 524.8h1.0v1.0h-1.0zM236.5 543.2h1.0v1.0h-1.0zM231.4 551.1h1.0v1.0h-1.0zM241.8 529.8h1.0v1.0h-1.0zM227.8 513.0h1.0v1.0h-1.0zM232.2 509.5h1.0v1.0h-1.0zM222.3 555.0h1.0v1.0h-1.0zM225.3 499.7h1.0v1.0h-1.0zM237.1 541.3h1.0v1.0h-1.0zM226.7 538.6h1.0v1.0h-1.0zM233.5 506.2h1.0v1.0h-1.0zM230.8 502.5h1.0v1.0h-1.0zM226.3 512.0h1.0v1.0h-1.0zM229.4 536.1h1.0v1.0h-1.0zM228.7 528.3h1.0v1.0h-1.0zM228.8 506.1h1.0v1.0h-1.0zM234.5 534.7h1.0v1.0h-1.0zM234.0 507.9h1.0v1.0h-1.0zM228.4 509.2h1.0v1.0h-1.0zM226.9 528.0h1.0v1.0h-1.0zM232.3 502.4h1.0v1.0h-1.0zM230.6 533.0h1.0v1.0h-1.0zM235.7 511.2h1.0v1.0h-1.0zM243.2 517.8h1.0v1.0h-1.0zM234.9 536.2h1.0v1.0h-1.0zM230.9 524.2h1.0v1.0h-1.0zM230.3 519.8h1.0v1.0h-1.0zM227.1 523.9h1.0v1.0h-1.0zM226.9 549.4h1.0v1.0h-1.0zM226.4 496.7h1.0v1.0h-1.0zM229.2 498.2h1.0v1.0h-1.0zM229.1 553.8h1.0v1.0h-1.0zM234.4 499.5h1.0v1.0h-1.0zM229.2 524.2h1.0v1.0h-1.0zM230.1 548.5h1.0v1.0h-1.0zM225.5 506.9h1.0v1.0h-1.0zM238.6 530.1h1.0v1.0h-1.0zM233.4 513.4h1.0v1.0h-1.0zM239.2 506.5h1.0v1.0h-1.0zM234.7 523.8h1.0v1.0h-1.0zM237.9 553.1h1.0v1.0h-1.0zM229.9 506.8h1.0v1.0h-1.0zM234.3 514.5h1.0v1.0h-1.0zM243.4 501.6h1.0v1.0h-1.0zM225.4 539.9h1.0v1.0h-1.0zM236.4 509.1h1.0v1.0h-1.0zM238.8 503.8h1.0v1.0h-1.0zM233.0 534.8h1.0v1.0h-1.0zM234.5 531.5h1.0v1.0h-1.0zM236.9 536.1h1.0v1.0h-1.0zM228.0 555.7h1.0v1.0h-1.0zM233.0 542.2h1.0v1.0h-1.0zM227.0 536.2h1.0v1.0h-1.0zM227.9 549.6h1.0v1.0h-1.0zM228.1 510.2h1.0v1.0h-1.0zM230.4 530.5h1.0v1.0h-1.0zM231.7 522.0h1.0v1.0h-1.0zM233.2 539.0h1.0v1.0h-1.0zM224.4 534.5h1.0v1.0h-1.0zM240.3 511.0h1.0v1.0h-1.0zM236.5 527.9h1.0v1.0h-1.0zM234.4 520.3h1.0v1.0h-1.0zM229.4 530.8h1.0v1.0h-1.0zM230.6 522.7h1.0v1.0h-1.0zM233.6 502.3h1.0v1.0h-1.0zM233.0 540.0h1.0v1.0h-1.0zM223.2 525.0h1.0v1.0h-1.0zM234.5 514.9h1.0v1.0h-1.0zM244.7 550.9h1.0v1.0h-1.0zM222.4 498.5h1.0v1.0h-1.0zM235.7 526.2h1.0v1.0h-1.0zM232.8 541.4h1.0v1.0h-1.0zM230.5 510.5h1.0v1.0h-1.0zM237.5 507.2h1.0v1.0h-1.0zM225.5 518.3h1.0v1.0h-1.0zM231.8 501.2h1.0v1.0h-1.0zM237.9 550.7h1.0v1.0h-1.0zM230.1 524.5h1.0v1.0h-1.0zM229.1 511.6h1.0v1.0h-1.0zM231.6 501.2h1.0v1.0h-1.0zM228.9 517.7h1.0v1.0h-1.0zM238.3 520.0h1.0v1.0h-1.0zM226.8 532.8h1.0v1.0h-1.0zM235.1 521.8h1.0v1.0h-1.0zM225.2 522.8h1.0v1.0h-1.0zM234.2 501.9h1.0v1.0h-1.0zM230.5 506.5h1.0v1.0h-1.0zM218.9 511.9h1.0v1.0h-1.0zM231.0 500.8h1.0v1.0h-1.0zM226.0 552.1h1.0v1.0h-1.0zM228.9 510.0h1.0v1.0h-1.0zM238.3 528.3h1.0v1.0h-1.0zM225.8 511.1h1.0v1.0h-1.0zM226.1 538.3h1.0v1.0h-1.0zM237.8 528.1h1.0v1.0h-1.0zM231.6 506.7h1.0v1.0h-1.0zM238.3 553.9h1.0v1.0h-1.0zM232.6 538.6h1.0v1.0h-1.0zM226.9 526.8h1.0v1.0h-1.0zM230.7 505.1h1.0v1.0h-1.0zM236.8 539.9h1.0v1.0h-1.0zM235.5 506.8h1.0v1.0h-1.0zM231.0 541.4h1.0v1.0h-1.0zM231.3 537.9h1.0v1.0h-1.0zM230.5 522.9h1.0v1.0h-1.0zM228.3 516.9h1.0v1.0h-1.0zM240.1 503.4h1.0v1.0h-1.0zM231.1 503.4h1.0v1.0h-1.0zM225.7 541.1h1.0v1.0h-1.0zM228.8 511.4h1.0v1.0h-1.0zM234.5 518.0h1.0v1.0h-1.0zM234.1 532.9h1.0v1.0h-1.0zM230.4 509.6h1.0v1.0h-1.0zM227.9 502.3h1.0v1.0h-1.0zM231.2 527.4h1.0v1.0h-1.0zM223.2 501.2h1.0v1.0h-1.0zM224.9 548.4h1.0v1.0h-1.0zM234.8 546.1h1.0v1.0h-1.0zM228.8 510.3h1.0v1.0h-1.0zM232.8 537.8h1.0v1.0h-1.0zM236.8 521.0h1.0v1.0h-1.0zM234.1 526.3h1.0v1.0h-1.0zM231.1 547.3h1.0v1.0h-1.0zM241.1 510.9h1.0v1.0h-1.0zM234.2 511.7h1.0v1.0h-1.0zM229.4 547.4h1.0v1.0h-1.0zM234.5 540.5h1.0v1.0h-1.0zM233.0 508.1h1.0v1.0h-1.0zM227.0 501.5h1.0v1.0h-1.0zM231.4 504.0h1.0v1.0h-1.0zM230.3 526.0h1.0v1.0h-1.0zM221.8 534.1h1.0v1.0h-1.0zM230.2 529.4h1.0v1.0h-1.0zM229.7 545.5h1.0v1.0h-1.0zM229.0 526.4h1.0v1.0h-1.0zM223.3 542.2h1.0v1.0h-1.0zM229.4 546.4h1.0v1.0h-1.0zM230.9 533.3h1.0v1.0h-1.0zM231.5 552.2h1.0v1.0h-1.0zM225.7 527.9h1.0v1.0h-1.0zM234.0 514.4h1.0v1.0h-1.0zM225.3 517.1h1.0v1.0h-1.0zM230.0 497.7h1.0v1.0h-1.0zM237.2 503.0h1.0v1.0h-1.0zM227.8 518.1h1.0v1.0h-1.0zM228.6 502.3h1.0v1.0h-1.0zM236.1 529.4h1.0v1.0h-1.0zM229.2 508.2h1.0v1.0h-1.0zM229.6 539.0h1.0v1.0h-1.0zM232.1 524.5h1.0v1.0h-1.0zM236.0 497.4h1.0v1.0h-1.0zM220.7 520.2h1.0v1.0h-1.0zM227.1 525.7h1.0v1.0h-1.0zM226.3 508.9h1.0v1.0h-1.0zM225.9 537.4h1.0v1.0h-1.0zM227.0 506.3h1.0v1.0h-1.0zM227.1 554.9h1.0v1.0h-1.0zM232.5 541.8h1.0v1.0h-1.0zM226.9 545.4h1.0v1.0h-1.0zM231.6 540.6h1.0v1.0h-1.0zM232.9 499.5h1.0v1.0h-1.0zM227.6 554.6h1.0v1.0h-1.0zM231.7 538.2h1.0v1.0h-1.0zM238.7 521.7h1.0v1.0h-1.0zM232.6 514.0h1.0v1.0h-1.0zM228.1 509.7h1.0v1.0h-1.0zM230.7 533.1h1.0v1.0h-1.0zM226.7 542.9h1.0v1.0h-1.0zM232.3 505.0h1.0v1.0h-1.0zM235.1 548.7h1.0v1.0h-1.0zM227.2 552.2h1.0v1.0h-1.0zM230.1 542.2h1.0v1.0h-1.0zM236.2 526.6h1.0v1.0h-1.0zM228.7 499.7h1.0v1.0h-1.0zM231.9 512.4h1.0v1.0h-1.0zM226.3 522.3h1.0v1.0h-1.0zM227.2 524.9h1.0v1.0h-1.0zM228.6 514.5h1.0v1.0h-1.0zM241.0 518.6h1.0v1.0h-1.0zM229.2 535.9h1.0v1.0h-1.0zM228.6 550.5h1.0v1.0h-1.0zM228.5 544.0h1.0v1.0h-1.0zM230.3 509.2h1.0v1.0h-1.0zM234.0 518.1h1.0v1.0h-1.0zM231.9 508.3h1.0v1.0h-1.0zM240.5 553.4h1.0v1.0h-1.0zM232.0 502.1h1.0v1.0h-1.0zM237.7 533.2h1.0v1.0h-1.0zM232.3 500.6h1.0v1.0h-1.0zM233.8 520.5h1.0v1.0h-1.0zM224.4 523.3h1.0v1.0h-1.0zM230.5 507.1h1.0v1.0h-1.0zM230.7 518.6h1.0v1.0h-1.0zM229.9 515.7h1.0v1.0h-1.0zM221.2 546.6h1.0v1.0h-1.0zM235.1 519.9h1.0v1.0h-1.0zM229.3 534.7h1.0v1.0h-1.0zM229.0 551.5h1.0v1.0h-1.0zM229.9 548.1h1.0v1.0h-1.0zM227.5 510.2h1.0v1.0h-1.0zM233.0 510.8h1.0v1.0h-1.0zM232.6 515.0h1.0v1.0h-1.0zM241.6 517.3h1.0v1.0h-1.0zM232.4 519.6h1.0v1.0h-1.0zM224.7 499.1h1.0v1.0h-1.0zM229.7 519.4h1.0v1.0h-1.0zM232.5 501.1h1.0v1.0h-1.0zM227.6 507.1h1.0v1.0h-1.0zM229.0 513.2h1.0v1.0h-1.0zM230.8 518.2h1.0v1.0h-1.0zM233.3 504.3h1.0v1.0h-1.0zM231.5 500.0h1.0v1.0h-1.0zM228.9 516.8h1.0v1.0h-1.0zM234.9 512.8h1.0v1.0h-1.0zM230.2 504.3h1.0v1.0h-1.0zM230.3 508.8h1.0v1.0h-1.0zM227.2 498.3h1.0v1.0h-1.0zM229.3 514.5h1.0v1.0h-1.0zM234.4 507.5h1.0v1.0h-1.0zM226.4 518.8h1.0v1.0h-1.0zM231.8 497.7h1.0v1.0h-1.0zM234.6 515.5h1.0v1.0h-1.0zM230.7 524.8h1.0v1.0h-1.0zM232.9 511.7h1.0v1.0h-1.0zM228.1 511.8h1.0v1.0h-1.0zM236.7 498.8h1.0v1.0h-1.0zM236.0 513.0h1.0v1.0h-1.0zM232.9 511.0h1.0v1.0h-1.0zM225.9 507.2h1.0v1.0h-1.0zM228.4 500.9h1.0v1.0h-1.0zM235.5 511.3h1.0v1.0h-1.0zM238.1 504.4h1.0v1.0h-1.0zM233.1 507.6h1.0v1.0h-1.0zM236.5 512.8h1.0v1.0h-1.0zM229.9 510.4h1.0v1.0h-1.0zM231.4 510.7h1.0v1.0h-1.0zM232.1 516.7h1.0v1.0h-1.0zM233.6 503.3h1.0v1.0h-1.0zM226.7 519.6h1.0v1.0h-1.0zM235.4 503.5h1.0v1.0h-1.0zM236.8 504.9h1.0v1.0h-1.0zM228.0 511.5h1.0v1.0h-1.0zM227.3 515.7h1.0v1.0h-1.0zM233.3 512.3h1.0v1.0h-1.0zM229.8 507.9h1.0v1.0h-1.0zM223.7 506.2h1.0v1.0h-1.0zM234.9 509.1h1.0v1.0h-1.0zM232.6 504.6h1.0v1.0h-1.0zM230.4 514.4h1.0v1.0h-1.0zM239.6 509.4h1.0v1.0h-1.0zM232.6 520.8h1.0v1.0h-1.0zM229.4 506.1h1.0v1.0h-1.0zM232.4 509.9h1.0v1.0h-1.0zM228.4 513.5h1.0v1.0h-1.0zM229.4 503.6h1.0v1.0h-1.0zM233.4 506.5h1.0v1.0h-1.0zM230.1 528.6h1.0v1.0h-1.0zM230.5 510.6h1.0v1.0h-1.0zM238.0 520.1h1.0v1.0h-1.0zM235.1 504.2h1.0v1.0h-1.0zM234.9 495.2h1.0v1.0h-1.0zM233.9 514.2h1.0v1.0h-1.0zM233.8 510.4h1.0v1.0h-1.0zM237.2 512.5h1.0v1.0h-1.0zM232.0 508.7h1.0v1.0h-1.0zM238.6 506.8h1.0v1.0h-1.0zM228.7 502.8h1.0v1.0h-1.0zM231.2 517.1h1.0v1.0h-1.0zM227.2 501.0h1.0v1.0h-1.0zM230.9 516.8h1.0v1.0h-1.0zM233.9 509.2h1.0v1.0h-1.0zM237.2 503.6h1.0v1.0h-1.0zM229.7 506.4h1.0v1.0h-1.0zM232.1 516.8h1.0v1.0h-1.0zM230.8 515.3h1.0v1.0h-1.0zM229.5 513.8h1.0v1.0h-1.0zM227.9 511.2h1.0v1.0h-1.0zM232.3 503.7h1.0v1.0h-1.0zM226.0 519.0h1.0v1.0h-1.0zM223.1 539.5h1.0v1.0h-1.0zM210.0 502.9h1.0v1.0h-1.0zM220.8 552.5h1.0v1.0h-1.0zM212.0 514.7h1.0v1.0h-1.0zM210.4 511.5h1.0v1.0h-1.0zM210.6 531.7h1.0v1.0h-1.0zM217.3 521.6h1.0v1.0h-1.0zM212.1 541.3h1.0v1.0h-1.0zM211.4 517.8h1.0v1.0h-1.0zM208.9 515.7h1.0v1.0h-1.0zM212.9 514.3h1.0v1.0h-1.0zM220.8 527.1h1.0v1.0h-1.0zM207.5 502.0h1.0v1.0h-1.0zM215.7 507.4h1.0v1.0h-1.0zM217.8 522.8h1.0v1.0h-1.0zM208.0 517.1h1.0v1.0h-1.0zM212.3 538.5h1.0v1.0h-1.0zM223.1 503.4h1.0v1.0h-1.0zM224.7 519.0h1.0v1.0h-1.0zM222.2 505.9h1.0v1.0h-1.0zM210.1 537.7h1.0v1.0h-1.0zM220.6 501.3h1.0v1.0h-1.0zM215.1 547.4h1.0v1.0h-1.0zM210.1 525.1h1.0v1.0h-1.0zM215.6 547.1h1.0v1.0h-1.0zM223.4 542.9h1.0v1.0h-1.0zM222.6 512.8h1.0v1.0h-1.0zM214.0 549.4h1.0v1.0h-1.0zM208.2 532.8h1.0v1.0h-1.0zM223.0 542.8h1.0v1.0h-1.0zM224.6 508.3h1.0v1.0h-1.0zM216.2 548.6h1.0v1.0h-1.0zM211.1 535.2h1.0v1.0h-1.0zM216.7 507.9h1.0v1.0h-1.0zM219.4 516.8h1.0v1.0h-1.0zM215.6 516.0h1.0v1.0h-1.0zM213.4 500.9h1.0v1.0h-1.0zM211.5 551.7h1.0v1.0h-1.0zM212.4 518.0h1.0v1.0h-1.0zM208.0 513.8h1.0v1.0h-1.0zM234.1 555.5h1.0v1.0h-1.0zM233.4 555.2h1.0v1.0h-1.0zM220.1 556.2h1.0v1.0h-1.0zM220.3 555.9h1.0v1.0h-1.0zM234.6 556.1h1.0v1.0h-1.0zM231.3 555.0h1.0v1.0h-1.0zM224.0 555.9h1.0v1.0h-1.0zM218.8 555.4h1.0v1.0h-1.0zM229.7 555.7h1.0v1.0h-1.0zM220.4 555.9h1.0v1.0h-1.0zM234.1 554.7h1.0v1.0h-1.0zM225.6 555.4h1.0v1.0h-1.0zM235.4 555.2h1.0v1.0h-1.0zM220.5 555.1h1.0v1.0h-1.0zM228.8 554.9h1.0v1.0h-1.0zM220.6 555.8h1.0v1.0h-1.0zM234.8 556.1h1.0v1.0h-1.0zM230.2 555.5h1.0v1.0h-1.0zM223.4 556.0h1.0v1.0h-1.0zM238.6 556.2h1.0v1.0h-1.0zM232.7 554.7h1.0v1.0h-1.0zM225.6 555.2h1.0v1.0h-1.0zM236.4 555.6h1.0v1.0h-1.0zM226.5 556.0h1.0v1.0h-1.0zM238.2 555.0h1.0v1.0h-1.0zM224.7 555.4h1.0v1.0h-1.0zM239.0 556.0h1.0v1.0h-1.0zM219.9 554.6h1.0v1.0h-1.0zM233.8 554.7h1.0v1.0h-1.0zM224.6 554.7h1.0v1.0h-1.0z" fill="#1a1a1a" fill-opacity="0.88"/>
<line x1="205.3" y1="473.1" x2="205.3" y2="557.1" stroke="#808080" stroke-width="0.9"/>
<line x1="172.8" y1="514.5" x2="256" y2="514.5" stroke="#808080" stroke-width="0.9"/>
<rect x="172.8" y="473.1" width="83.2" height="84" fill="none" stroke="#222" stroke-width="1.1"/>
<line x1="172.8" y1="557.1" x2="172.8" y2="559.7" stroke="#161616" stroke-width="0.9"/>
<line x1="179.06" y1="557.1" x2="179.06" y2="558.5" stroke="#161616" stroke-width="0.6"/>
<line x1="182.72" y1="557.1" x2="182.72" y2="558.5" stroke="#161616" stroke-width="0.6"/>
<line x1="185.32" y1="557.1" x2="185.32" y2="558.5" stroke="#161616" stroke-width="0.6"/>
<line x1="187.34" y1="557.1" x2="187.34" y2="558.5" stroke="#161616" stroke-width="0.6"/>
<line x1="188.99" y1="557.1" x2="188.99" y2="558.5" stroke="#161616" stroke-width="0.6"/>
<line x1="190.38" y1="557.1" x2="190.38" y2="558.5" stroke="#161616" stroke-width="0.6"/>
<line x1="191.58" y1="557.1" x2="191.58" y2="558.5" stroke="#161616" stroke-width="0.6"/>
<line x1="192.65" y1="557.1" x2="192.65" y2="558.5" stroke="#161616" stroke-width="0.6"/>
<line x1="193.6" y1="557.1" x2="193.6" y2="559.7" stroke="#161616" stroke-width="0.9"/>
<line x1="199.86" y1="557.1" x2="199.86" y2="558.5" stroke="#161616" stroke-width="0.6"/>
<line x1="203.52" y1="557.1" x2="203.52" y2="558.5" stroke="#161616" stroke-width="0.6"/>
<line x1="206.12" y1="557.1" x2="206.12" y2="558.5" stroke="#161616" stroke-width="0.6"/>
<line x1="208.14" y1="557.1" x2="208.14" y2="558.5" stroke="#161616" stroke-width="0.6"/>
<line x1="209.79" y1="557.1" x2="209.79" y2="558.5" stroke="#161616" stroke-width="0.6"/>
<line x1="211.18" y1="557.1" x2="211.18" y2="558.5" stroke="#161616" stroke-width="0.6"/>
<line x1="212.38" y1="557.1" x2="212.38" y2="558.5" stroke="#161616" stroke-width="0.6"/>
<line x1="213.45" y1="557.1" x2="213.45" y2="558.5" stroke="#161616" stroke-width="0.6"/>
<line x1="214.4" y1="557.1" x2="214.4" y2="559.7" stroke="#161616" stroke-width="0.9"/>
<line x1="220.66" y1="557.1" x2="220.66" y2="558.5" stroke="#161616" stroke-width="0.6"/>
<line x1="224.32" y1="557.1" x2="224.32" y2="558.5" stroke="#161616" stroke-width="0.6"/>
<line x1="226.92" y1="557.1" x2="226.92" y2="558.5" stroke="#161616" stroke-width="0.6"/>
<line x1="228.94" y1="557.1" x2="228.94" y2="558.5" stroke="#161616" stroke-width="0.6"/>
<line x1="230.59" y1="557.1" x2="230.59" y2="558.5" stroke="#161616" stroke-width="0.6"/>
<line x1="231.98" y1="557.1" x2="231.98" y2="558.5" stroke="#161616" stroke-width="0.6"/>
<line x1="233.18" y1="557.1" x2="233.18" y2="558.5" stroke="#161616" stroke-width="0.6"/>
<line x1="234.25" y1="557.1" x2="234.25" y2="558.5" stroke="#161616" stroke-width="0.6"/>
<line x1="235.2" y1="557.1" x2="235.2" y2="559.7" stroke="#161616" stroke-width="0.9"/>
<line x1="241.46" y1="557.1" x2="241.46" y2="558.5" stroke="#161616" stroke-width="0.6"/>
<line x1="245.12" y1="557.1" x2="245.12" y2="558.5" stroke="#161616" stroke-width="0.6"/>
<line x1="247.72" y1="557.1" x2="247.72" y2="558.5" stroke="#161616" stroke-width="0.6"/>
<line x1="249.74" y1="557.1" x2="249.74" y2="558.5" stroke="#161616" stroke-width="0.6"/>
<line x1="251.39" y1="557.1" x2="251.39" y2="558.5" stroke="#161616" stroke-width="0.6"/>
<line x1="252.78" y1="557.1" x2="252.78" y2="558.5" stroke="#161616" stroke-width="0.6"/>
<line x1="253.98" y1="557.1" x2="253.98" y2="558.5" stroke="#161616" stroke-width="0.6"/>
<line x1="255.05" y1="557.1" x2="255.05" y2="558.5" stroke="#161616" stroke-width="0.6"/>
<line x1="256" y1="557.1" x2="256" y2="559.7" stroke="#161616" stroke-width="0.9"/>
<line x1="172.8" y1="557.1" x2="170.2" y2="557.1" stroke="#161616" stroke-width="0.9"/>
<line x1="172.8" y1="550.78" x2="171.4" y2="550.78" stroke="#161616" stroke-width="0.6"/>
<line x1="172.8" y1="547.08" x2="171.4" y2="547.08" stroke="#161616" stroke-width="0.6"/>
<line x1="172.8" y1="544.46" x2="171.4" y2="544.46" stroke="#161616" stroke-width="0.6"/>
<line x1="172.8" y1="542.42" x2="171.4" y2="542.42" stroke="#161616" stroke-width="0.6"/>
<line x1="172.8" y1="540.76" x2="171.4" y2="540.76" stroke="#161616" stroke-width="0.6"/>
<line x1="172.8" y1="539.35" x2="171.4" y2="539.35" stroke="#161616" stroke-width="0.6"/>
<line x1="172.8" y1="538.14" x2="171.4" y2="538.14" stroke="#161616" stroke-width="0.6"/>
<line x1="172.8" y1="537.06" x2="171.4" y2="537.06" stroke="#161616" stroke-width="0.6"/>
<line x1="172.8" y1="536.1" x2="170.2" y2="536.1" stroke="#161616" stroke-width="0.9"/>
<line x1="172.8" y1="529.78" x2="171.4" y2="529.78" stroke="#161616" stroke-width="0.6"/>
<line x1="172.8" y1="526.08" x2="171.4" y2="526.08" stroke="#161616" stroke-width="0.6"/>
<line x1="172.8" y1="523.46" x2="171.4" y2="523.46" stroke="#161616" stroke-width="0.6"/>
<line x1="172.8" y1="521.42" x2="171.4" y2="521.42" stroke="#161616" stroke-width="0.6"/>
<line x1="172.8" y1="519.76" x2="171.4" y2="519.76" stroke="#161616" stroke-width="0.6"/>
<line x1="172.8" y1="518.35" x2="171.4" y2="518.35" stroke="#161616" stroke-width="0.6"/>
<line x1="172.8" y1="517.14" x2="171.4" y2="517.14" stroke="#161616" stroke-width="0.6"/>
<line x1="172.8" y1="516.06" x2="171.4" y2="516.06" stroke="#161616" stroke-width="0.6"/>
<line x1="172.8" y1="515.1" x2="170.2" y2="515.1" stroke="#161616" stroke-width="0.9"/>
<line x1="172.8" y1="508.78" x2="171.4" y2="508.78" stroke="#161616" stroke-width="0.6"/>
<line x1="172.8" y1="505.08" x2="171.4" y2="505.08" stroke="#161616" stroke-width="0.6"/>
<line x1="172.8" y1="502.46" x2="171.4" y2="502.46" stroke="#161616" stroke-width="0.6"/>
<line x1="172.8" y1="500.42" x2="171.4" y2="500.42" stroke="#161616" stroke-width="0.6"/>
<line x1="172.8" y1="498.76" x2="171.4" y2="498.76" stroke="#161616" stroke-width="0.6"/>
<line x1="172.8" y1="497.35" x2="171.4" y2="497.35" stroke="#161616" stroke-width="0.6"/>
<line x1="172.8" y1="496.14" x2="171.4" y2="496.14" stroke="#161616" stroke-width="0.6"/>
<line x1="172.8" y1="495.06" x2="171.4" y2="495.06" stroke="#161616" stroke-width="0.6"/>
<line x1="172.8" y1="494.1" x2="170.2" y2="494.1" stroke="#161616" stroke-width="0.9"/>
<line x1="172.8" y1="487.78" x2="171.4" y2="487.78" stroke="#161616" stroke-width="0.6"/>
<line x1="172.8" y1="484.08" x2="171.4" y2="484.08" stroke="#161616" stroke-width="0.6"/>
<line x1="172.8" y1="481.46" x2="171.4" y2="481.46" stroke="#161616" stroke-width="0.6"/>
<line x1="172.8" y1="479.42" x2="171.4" y2="479.42" stroke="#161616" stroke-width="0.6"/>
<line x1="172.8" y1="477.76" x2="171.4" y2="477.76" stroke="#161616" stroke-width="0.6"/>
<line x1="172.8" y1="476.35" x2="171.4" y2="476.35" stroke="#161616" stroke-width="0.6"/>
<line x1="172.8" y1="475.14" x2="171.4" y2="475.14" stroke="#161616" stroke-width="0.6"/>
<line x1="172.8" y1="474.06" x2="171.4" y2="474.06" stroke="#161616" stroke-width="0.6"/>
<line x1="172.8" y1="473.1" x2="170.2" y2="473.1" stroke="#161616" stroke-width="0.9"/>
<text x="214.8" y="468.4" font-size="8.7" font-weight="bold" text-anchor="middle" fill="#161616">EOT</text>
<text x="176.8" y="484" font-size="8.0" font-weight="bold" text-anchor="start" fill="#161616">20</text>
<text x="252.2" y="484" font-size="8.0" font-weight="bold" text-anchor="end" fill="#161616">12</text>
<text x="176.8" y="553.7" font-size="8.0" font-weight="bold" text-anchor="start" fill="#161616">3</text>
<text x="252.2" y="553.7" font-size="8.0" font-weight="bold" text-anchor="end" fill="#161616">65</text>
<text x="173.1" y="569.6" font-size="6.6" text-anchor="middle" fill="#161616" textLength="8.9" lengthAdjust="spacingAndGlyphs">10<tspan font-size="4.36" dy="-2.6">0</tspan></text>
<text x="167.5" y="559.4" font-size="6.6" text-anchor="end" fill="#161616" textLength="8.9" lengthAdjust="spacingAndGlyphs">10<tspan font-size="4.36" dy="-2.6">0</tspan></text>
<text x="193.9" y="569.6" font-size="6.6" text-anchor="middle" fill="#161616" textLength="8.9" lengthAdjust="spacingAndGlyphs">10<tspan font-size="4.36" dy="-2.6">1</tspan></text>
<text x="167.5" y="538.4" font-size="6.6" text-anchor="end" fill="#161616" textLength="8.9" lengthAdjust="spacingAndGlyphs">10<tspan font-size="4.36" dy="-2.6">1</tspan></text>
<text x="214.7" y="569.6" font-size="6.6" text-anchor="middle" fill="#161616" textLength="8.9" lengthAdjust="spacingAndGlyphs">10<tspan font-size="4.36" dy="-2.6">2</tspan></text>
<text x="167.5" y="517.4" font-size="6.6" text-anchor="end" fill="#161616" textLength="8.9" lengthAdjust="spacingAndGlyphs">10<tspan font-size="4.36" dy="-2.6">2</tspan></text>
<text x="235.5" y="569.6" font-size="6.6" text-anchor="middle" fill="#161616" textLength="8.9" lengthAdjust="spacingAndGlyphs">10<tspan font-size="4.36" dy="-2.6">3</tspan></text>
<text x="167.5" y="496.4" font-size="6.6" text-anchor="end" fill="#161616" textLength="8.9" lengthAdjust="spacingAndGlyphs">10<tspan font-size="4.36" dy="-2.6">3</tspan></text>
<text x="256.3" y="569.6" font-size="6.6" text-anchor="middle" fill="#161616" textLength="8.9" lengthAdjust="spacingAndGlyphs">10<tspan font-size="4.36" dy="-2.6">4</tspan></text>
<text x="167.5" y="475.4" font-size="6.6" text-anchor="end" fill="#161616" textLength="8.9" lengthAdjust="spacingAndGlyphs">10<tspan font-size="4.36" dy="-2.6">4</tspan></text>
<text x="215" y="582.3" font-size="8.6" text-anchor="middle" fill="#161616" textLength="25.4" lengthAdjust="spacingAndGlyphs">V<tspan font-size="5.9" dy="1.6">H</tspan><tspan dy="-1.6">1-69</tspan></text>
<text x="151.7" y="515.1" font-size="9.2" text-anchor="middle" transform="rotate(-90 151.7 515.1)" fill="#161616" textLength="18.4" lengthAdjust="spacingAndGlyphs">CD21</text>
<path d="M308.1 506.7h1.0v1.0h-1.0zM317.1 505.1h1.0v1.0h-1.0zM317.4 505.0h1.0v1.0h-1.0zM321.2 502.9h1.0v1.0h-1.0zM319.4 502.9h1.0v1.0h-1.0zM316.2 506.9h1.0v1.0h-1.0zM327.9 497.2h1.0v1.0h-1.0zM321.4 501.5h1.0v1.0h-1.0zM308.0 507.2h1.0v1.0h-1.0zM333.8 498.7h1.0v1.0h-1.0zM326.2 498.4h1.0v1.0h-1.0zM318.1 502.4h1.0v1.0h-1.0zM328.6 497.6h1.0v1.0h-1.0zM311.0 505.0h1.0v1.0h-1.0zM327.5 496.8h1.0v1.0h-1.0zM317.9 504.0h1.0v1.0h-1.0zM312.5 502.5h1.0v1.0h-1.0zM315.0 505.0h1.0v1.0h-1.0zM316.7 512.8h1.0v1.0h-1.0zM321.9 498.6h1.0v1.0h-1.0zM323.3 502.6h1.0v1.0h-1.0zM320.2 507.1h1.0v1.0h-1.0zM317.3 506.2h1.0v1.0h-1.0zM321.6 496.6h1.0v1.0h-1.0zM307.4 508.8h1.0v1.0h-1.0zM323.0 507.6h1.0v1.0h-1.0zM328.8 497.8h1.0v1.0h-1.0zM320.4 503.8h1.0v1.0h-1.0zM318.3 498.9h1.0v1.0h-1.0zM320.4 507.5h1.0v1.0h-1.0zM319.3 511.1h1.0v1.0h-1.0zM314.7 505.3h1.0v1.0h-1.0zM317.7 506.7h1.0v1.0h-1.0zM319.8 508.2h1.0v1.0h-1.0zM329.6 506.1h1.0v1.0h-1.0zM321.7 502.3h1.0v1.0h-1.0zM329.5 494.9h1.0v1.0h-1.0zM312.5 510.5h1.0v1.0h-1.0zM321.8 499.6h1.0v1.0h-1.0zM317.8 505.9h1.0v1.0h-1.0zM328.1 494.5h1.0v1.0h-1.0zM326.9 499.2h1.0v1.0h-1.0zM320.9 503.3h1.0v1.0h-1.0zM315.1 502.5h1.0v1.0h-1.0zM315.2 504.7h1.0v1.0h-1.0zM332.7 499.5h1.0v1.0h-1.0zM318.6 502.3h1.0v1.0h-1.0zM315.3 506.2h1.0v1.0h-1.0zM332.0 504.0h1.0v1.0h-1.0zM331.5 493.3h1.0v1.0h-1.0zM330.1 502.7h1.0v1.0h-1.0zM319.6 506.9h1.0v1.0h-1.0zM340.3 494.1h1.0v1.0h-1.0zM327.0 507.1h1.0v1.0h-1.0zM327.8 505.9h1.0v1.0h-1.0zM323.8 505.7h1.0v1.0h-1.0zM312.5 510.2h1.0v1.0h-1.0zM310.1 508.1h1.0v1.0h-1.0zM324.8 498.6h1.0v1.0h-1.0zM324.5 503.6h1.0v1.0h-1.0zM319.8 502.9h1.0v1.0h-1.0zM312.2 505.8h1.0v1.0h-1.0zM307.6 512.1h1.0v1.0h-1.0zM313.1 504.0h1.0v1.0h-1.0zM307.7 511.7h1.0v1.0h-1.0zM323.0 497.0h1.0v1.0h-1.0zM330.3 498.0h1.0v1.0h-1.0zM343.4 493.4h1.0v1.0h-1.0zM323.7 504.6h1.0v1.0h-1.0zM318.0 505.3h1.0v1.0h-1.0zM316.2 509.1h1.0v1.0h-1.0zM320.4 506.0h1.0v1.0h-1.0zM324.2 506.7h1.0v1.0h-1.0zM325.6 497.2h1.0v1.0h-1.0zM328.4 499.1h1.0v1.0h-1.0zM326.7 503.3h1.0v1.0h-1.0zM323.7 499.1h1.0v1.0h-1.0zM328.5 502.1h1.0v1.0h-1.0zM330.6 499.4h1.0v1.0h-1.0zM311.0 507.0h1.0v1.0h-1.0zM315.3 507.6h1.0v1.0h-1.0zM308.1 509.9h1.0v1.0h-1.0zM333.5 498.3h1.0v1.0h-1.0zM327.6 494.1h1.0v1.0h-1.0zM324.3 496.1h1.0v1.0h-1.0zM312.9 508.6h1.0v1.0h-1.0zM322.1 497.9h1.0v1.0h-1.0zM320.1 504.5h1.0v1.0h-1.0zM316.9 502.1h1.0v1.0h-1.0zM317.5 501.4h1.0v1.0h-1.0zM323.7 500.8h1.0v1.0h-1.0zM317.9 497.4h1.0v1.0h-1.0zM326.3 499.7h1.0v1.0h-1.0zM318.4 541.2h1.0v1.0h-1.0zM322.4 549.8h1.0v1.0h-1.0zM323.3 551.5h1.0v1.0h-1.0zM304.4 521.4h1.0v1.0h-1.0zM311.3 541.7h1.0v1.0h-1.0zM334.0 548.6h1.0v1.0h-1.0zM313.9 531.6h1.0v1.0h-1.0zM332.5 522.7h1.0v1.0h-1.0zM318.7 531.5h1.0v1.0h-1.0zM310.6 547.5h1.0v1.0h-1.0zM303.9 538.4h1.0v1.0h-1.0zM310.4 543.4h1.0v1.0h-1.0zM313.6 552.3h1.0v1.0h-1.0zM317.1 518.4h1.0v1.0h-1.0zM317.4 536.5h1.0v1.0h-1.0zM320.4 548.1h1.0v1.0h-1.0zM318.2 521.3h1.0v1.0h-1.0zM304.8 517.7h1.0v1.0h-1.0zM311.9 523.8h1.0v1.0h-1.0zM332.9 543.8h1.0v1.0h-1.0zM304.7 546.1h1.0v1.0h-1.0zM326.0 534.2h1.0v1.0h-1.0zM318.3 532.1h1.0v1.0h-1.0zM325.2 521.5h1.0v1.0h-1.0zM313.9 518.4h1.0v1.0h-1.0zM315.0 520.4h1.0v1.0h-1.0zM319.5 540.7h1.0v1.0h-1.0zM331.4 532.0h1.0v1.0h-1.0zM348.0 538.2h1.0v1.0h-1.0zM356.0 504.5h1.0v1.0h-1.0zM357.0 549.0h1.0v1.0h-1.0zM364.7 500.0h1.0v1.0h-1.0zM357.8 530.9h1.0v1.0h-1.0zM350.9 533.1h1.0v1.0h-1.0zM358.6 525.8h1.0v1.0h-1.0zM351.1 530.0h1.0v1.0h-1.0zM348.1 528.4h1.0v1.0h-1.0zM366.9 531.1h1.0v1.0h-1.0zM356.4 514.8h1.0v1.0h-1.0zM358.2 539.8h1.0v1.0h-1.0zM357.5 546.3h1.0v1.0h-1.0zM363.2 530.5h1.0v1.0h-1.0zM356.2 550.9h1.0v1.0h-1.0zM360.5 529.7h1.0v1.0h-1.0zM350.2 527.0h1.0v1.0h-1.0zM348.6 509.9h1.0v1.0h-1.0zM361.5 549.6h1.0v1.0h-1.0zM361.7 532.7h1.0v1.0h-1.0zM357.3 510.2h1.0v1.0h-1.0zM356.0 536.2h1.0v1.0h-1.0zM355.7 506.9h1.0v1.0h-1.0zM351.8 513.8h1.0v1.0h-1.0zM362.0 553.6h1.0v1.0h-1.0zM358.0 533.4h1.0v1.0h-1.0zM357.3 511.0h1.0v1.0h-1.0zM356.7 525.1h1.0v1.0h-1.0zM359.7 516.5h1.0v1.0h-1.0zM357.3 497.8h1.0v1.0h-1.0zM358.4 516.3h1.0v1.0h-1.0zM349.6 523.9h1.0v1.0h-1.0zM357.3 506.3h1.0v1.0h-1.0zM365.0 530.8h1.0v1.0h-1.0zM352.6 555.4h1.0v1.0h-1.0zM354.3 540.0h1.0v1.0h-1.0zM359.0 521.1h1.0v1.0h-1.0zM359.3 500.3h1.0v1.0h-1.0zM357.8 520.4h1.0v1.0h-1.0zM347.5 539.4h1.0v1.0h-1.0zM357.2 497.6h1.0v1.0h-1.0zM349.5 532.5h1.0v1.0h-1.0zM351.2 542.7h1.0v1.0h-1.0zM357.5 523.5h1.0v1.0h-1.0zM353.6 535.8h1.0v1.0h-1.0zM358.7 549.5h1.0v1.0h-1.0zM369.4 514.1h1.0v1.0h-1.0zM358.5 515.4h1.0v1.0h-1.0zM358.3 498.9h1.0v1.0h-1.0zM350.8 548.0h1.0v1.0h-1.0zM352.0 502.5h1.0v1.0h-1.0zM350.1 509.2h1.0v1.0h-1.0zM352.5 541.2h1.0v1.0h-1.0zM349.9 527.9h1.0v1.0h-1.0zM351.9 519.0h1.0v1.0h-1.0zM354.0 537.5h1.0v1.0h-1.0zM350.3 549.7h1.0v1.0h-1.0zM348.4 506.8h1.0v1.0h-1.0zM348.7 546.4h1.0v1.0h-1.0zM357.0 527.2h1.0v1.0h-1.0zM355.2 530.3h1.0v1.0h-1.0zM359.6 503.0h1.0v1.0h-1.0zM359.7 523.2h1.0v1.0h-1.0zM353.4 531.1h1.0v1.0h-1.0zM358.0 498.6h1.0v1.0h-1.0zM348.3 535.3h1.0v1.0h-1.0zM365.4 513.3h1.0v1.0h-1.0zM360.4 542.3h1.0v1.0h-1.0zM354.0 511.5h1.0v1.0h-1.0zM349.6 511.9h1.0v1.0h-1.0zM356.7 507.4h1.0v1.0h-1.0zM346.4 527.5h1.0v1.0h-1.0zM351.4 543.0h1.0v1.0h-1.0zM358.4 518.9h1.0v1.0h-1.0zM355.3 502.5h1.0v1.0h-1.0zM352.7 537.8h1.0v1.0h-1.0zM359.3 554.9h1.0v1.0h-1.0zM350.2 545.2h1.0v1.0h-1.0zM356.2 501.2h1.0v1.0h-1.0zM352.7 555.7h1.0v1.0h-1.0zM351.1 552.9h1.0v1.0h-1.0zM357.1 550.3h1.0v1.0h-1.0zM350.4 503.6h1.0v1.0h-1.0zM363.7 533.5h1.0v1.0h-1.0zM352.3 515.4h1.0v1.0h-1.0zM364.1 514.5h1.0v1.0h-1.0zM349.9 530.5h1.0v1.0h-1.0zM357.7 513.0h1.0v1.0h-1.0zM349.4 528.9h1.0v1.0h-1.0zM348.8 524.2h1.0v1.0h-1.0zM355.7 538.0h1.0v1.0h-1.0zM358.0 555.9h1.0v1.0h-1.0zM349.1 521.2h1.0v1.0h-1.0zM360.4 540.4h1.0v1.0h-1.0zM351.3 539.9h1.0v1.0h-1.0zM355.5 504.4h1.0v1.0h-1.0zM356.7 534.8h1.0v1.0h-1.0zM357.7 550.0h1.0v1.0h-1.0zM346.7 519.0h1.0v1.0h-1.0zM362.4 524.4h1.0v1.0h-1.0zM357.5 552.7h1.0v1.0h-1.0zM353.0 535.5h1.0v1.0h-1.0zM350.2 520.1h1.0v1.0h-1.0zM347.2 539.6h1.0v1.0h-1.0zM348.7 498.1h1.0v1.0h-1.0zM357.4 509.1h1.0v1.0h-1.0zM353.4 526.4h1.0v1.0h-1.0zM349.7 502.2h1.0v1.0h-1.0zM352.5 554.0h1.0v1.0h-1.0zM362.1 542.8h1.0v1.0h-1.0zM353.4 502.3h1.0v1.0h-1.0zM352.3 526.1h1.0v1.0h-1.0zM361.1 546.0h1.0v1.0h-1.0zM357.1 522.5h1.0v1.0h-1.0zM355.1 513.1h1.0v1.0h-1.0zM352.1 520.6h1.0v1.0h-1.0zM347.8 553.4h1.0v1.0h-1.0zM349.6 553.9h1.0v1.0h-1.0zM352.7 532.1h1.0v1.0h-1.0zM353.9 555.1h1.0v1.0h-1.0zM356.6 551.1h1.0v1.0h-1.0zM357.5 518.3h1.0v1.0h-1.0zM356.0 530.3h1.0v1.0h-1.0zM355.9 551.0h1.0v1.0h-1.0zM350.3 504.5h1.0v1.0h-1.0zM345.1 534.4h1.0v1.0h-1.0zM352.5 504.1h1.0v1.0h-1.0zM350.6 520.2h1.0v1.0h-1.0zM351.9 519.5h1.0v1.0h-1.0zM353.7 531.1h1.0v1.0h-1.0zM349.2 516.5h1.0v1.0h-1.0zM349.8 541.7h1.0v1.0h-1.0zM354.5 540.9h1.0v1.0h-1.0zM355.5 504.6h1.0v1.0h-1.0zM351.9 544.1h1.0v1.0h-1.0zM357.2 533.4h1.0v1.0h-1.0zM353.9 512.3h1.0v1.0h-1.0zM350.3 536.6h1.0v1.0h-1.0zM355.1 534.5h1.0v1.0h-1.0zM363.6 502.6h1.0v1.0h-1.0zM351.8 543.9h1.0v1.0h-1.0zM360.3 541.9h1.0v1.0h-1.0zM361.3 503.9h1.0v1.0h-1.0zM361.8 539.9h1.0v1.0h-1.0zM351.2 536.6h1.0v1.0h-1.0zM364.2 504.2h1.0v1.0h-1.0zM355.5 537.2h1.0v1.0h-1.0zM353.8 497.4h1.0v1.0h-1.0zM353.9 507.8h1.0v1.0h-1.0zM357.7 506.3h1.0v1.0h-1.0zM355.2 542.8h1.0v1.0h-1.0zM354.1 543.3h1.0v1.0h-1.0zM360.8 511.8h1.0v1.0h-1.0zM351.6 507.4h1.0v1.0h-1.0zM350.2 542.8h1.0v1.0h-1.0zM358.6 543.9h1.0v1.0h-1.0zM358.2 541.7h1.0v1.0h-1.0zM360.0 548.0h1.0v1.0h-1.0zM350.0 531.3h1.0v1.0h-1.0zM359.9 526.5h1.0v1.0h-1.0zM357.1 519.1h1.0v1.0h-1.0zM363.0 552.8h1.0v1.0h-1.0zM349.2 544.7h1.0v1.0h-1.0zM355.9 549.2h1.0v1.0h-1.0zM353.7 540.2h1.0v1.0h-1.0zM347.6 545.1h1.0v1.0h-1.0zM351.7 501.0h1.0v1.0h-1.0zM360.1 534.1h1.0v1.0h-1.0zM352.8 547.9h1.0v1.0h-1.0zM351.6 516.9h1.0v1.0h-1.0zM358.9 498.8h1.0v1.0h-1.0zM359.5 509.3h1.0v1.0h-1.0zM359.5 517.9h1.0v1.0h-1.0zM351.3 533.8h1.0v1.0h-1.0zM354.7 532.3h1.0v1.0h-1.0zM359.7 538.3h1.0v1.0h-1.0zM351.9 508.6h1.0v1.0h-1.0zM351.5 508.8h1.0v1.0h-1.0zM358.7 527.3h1.0v1.0h-1.0zM362.1 505.4h1.0v1.0h-1.0zM349.7 517.7h1.0v1.0h-1.0zM343.0 515.7h1.0v1.0h-1.0zM348.3 540.2h1.0v1.0h-1.0zM350.3 541.8h1.0v1.0h-1.0zM354.3 542.7h1.0v1.0h-1.0zM357.8 502.4h1.0v1.0h-1.0zM354.3 509.0h1.0v1.0h-1.0zM351.7 503.2h1.0v1.0h-1.0zM355.6 507.7h1.0v1.0h-1.0zM350.5 508.7h1.0v1.0h-1.0zM354.7 530.4h1.0v1.0h-1.0zM352.0 511.0h1.0v1.0h-1.0zM367.2 546.3h1.0v1.0h-1.0zM358.7 517.5h1.0v1.0h-1.0zM351.1 553.5h1.0v1.0h-1.0zM350.4 499.3h1.0v1.0h-1.0zM352.9 504.3h1.0v1.0h-1.0zM347.4 546.4h1.0v1.0h-1.0zM351.6 510.8h1.0v1.0h-1.0zM351.6 507.6h1.0v1.0h-1.0zM359.0 553.6h1.0v1.0h-1.0zM353.0 522.8h1.0v1.0h-1.0zM351.3 531.3h1.0v1.0h-1.0zM348.8 519.7h1.0v1.0h-1.0zM349.5 503.9h1.0v1.0h-1.0zM354.6 513.5h1.0v1.0h-1.0zM354.0 543.6h1.0v1.0h-1.0zM360.1 523.4h1.0v1.0h-1.0zM352.1 523.0h1.0v1.0h-1.0zM359.8 555.4h1.0v1.0h-1.0zM356.1 548.3h1.0v1.0h-1.0zM354.9 534.9h1.0v1.0h-1.0zM345.7 545.6h1.0v1.0h-1.0zM349.0 542.1h1.0v1.0h-1.0zM358.3 516.3h1.0v1.0h-1.0zM361.3 499.5h1.0v1.0h-1.0zM355.9 529.1h1.0v1.0h-1.0zM358.4 518.1h1.0v1.0h-1.0zM353.1 511.3h1.0v1.0h-1.0zM353.2 516.5h1.0v1.0h-1.0zM351.9 517.4h1.0v1.0h-1.0zM359.4 556.0h1.0v1.0h-1.0zM356.5 504.9h1.0v1.0h-1.0zM353.9 546.6h1.0v1.0h-1.0zM353.4 545.4h1.0v1.0h-1.0zM357.5 526.1h1.0v1.0h-1.0zM356.4 521.5h1.0v1.0h-1.0zM351.1 511.6h1.0v1.0h-1.0zM362.8 538.8h1.0v1.0h-1.0zM356.1 500.5h1.0v1.0h-1.0zM355.0 519.1h1.0v1.0h-1.0zM361.7 506.4h1.0v1.0h-1.0zM359.6 528.0h1.0v1.0h-1.0zM354.5 551.9h1.0v1.0h-1.0zM357.4 555.3h1.0v1.0h-1.0zM350.0 518.4h1.0v1.0h-1.0zM352.0 531.0h1.0v1.0h-1.0zM344.6 530.1h1.0v1.0h-1.0zM360.5 536.9h1.0v1.0h-1.0zM346.2 545.6h1.0v1.0h-1.0zM358.1 528.2h1.0v1.0h-1.0zM351.1 541.1h1.0v1.0h-1.0zM350.4 503.6h1.0v1.0h-1.0zM354.0 545.5h1.0v1.0h-1.0zM356.2 499.2h1.0v1.0h-1.0zM357.7 505.5h1.0v1.0h-1.0zM363.1 533.5h1.0v1.0h-1.0zM356.6 510.6h1.0v1.0h-1.0zM359.0 521.9h1.0v1.0h-1.0zM352.2 528.7h1.0v1.0h-1.0zM358.2 508.3h1.0v1.0h-1.0zM355.6 507.2h1.0v1.0h-1.0zM352.8 544.2h1.0v1.0h-1.0zM354.5 502.8h1.0v1.0h-1.0zM354.7 554.2h1.0v1.0h-1.0zM355.8 555.7h1.0v1.0h-1.0zM356.8 527.6h1.0v1.0h-1.0zM352.6 538.3h1.0v1.0h-1.0zM351.5 531.2h1.0v1.0h-1.0zM358.4 527.9h1.0v1.0h-1.0zM347.2 528.5h1.0v1.0h-1.0zM352.1 502.7h1.0v1.0h-1.0zM362.1 502.1h1.0v1.0h-1.0zM342.5 535.7h1.0v1.0h-1.0zM351.8 539.1h1.0v1.0h-1.0zM358.1 517.6h1.0v1.0h-1.0zM347.4 544.4h1.0v1.0h-1.0zM366.9 532.5h1.0v1.0h-1.0zM343.1 513.8h1.0v1.0h-1.0zM361.5 555.7h1.0v1.0h-1.0zM362.1 510.7h1.0v1.0h-1.0zM359.1 512.9h1.0v1.0h-1.0zM353.9 533.3h1.0v1.0h-1.0zM356.6 541.5h1.0v1.0h-1.0zM350.8 524.3h1.0v1.0h-1.0zM358.6 538.7h1.0v1.0h-1.0zM349.8 507.8h1.0v1.0h-1.0zM353.7 521.3h1.0v1.0h-1.0zM359.5 538.0h1.0v1.0h-1.0zM349.8 508.6h1.0v1.0h-1.0zM353.3 520.3h1.0v1.0h-1.0zM355.7 548.3h1.0v1.0h-1.0zM348.8 531.7h1.0v1.0h-1.0zM360.3 527.3h1.0v1.0h-1.0zM356.5 500.5h1.0v1.0h-1.0zM348.0 537.2h1.0v1.0h-1.0zM354.7 529.7h1.0v1.0h-1.0zM351.4 498.6h1.0v1.0h-1.0zM351.9 531.0h1.0v1.0h-1.0zM355.3 507.4h1.0v1.0h-1.0zM351.7 550.3h1.0v1.0h-1.0zM359.4 532.9h1.0v1.0h-1.0zM351.7 545.2h1.0v1.0h-1.0zM359.4 504.1h1.0v1.0h-1.0zM354.7 523.6h1.0v1.0h-1.0zM358.9 543.2h1.0v1.0h-1.0zM352.5 550.6h1.0v1.0h-1.0zM352.6 531.3h1.0v1.0h-1.0zM349.7 550.4h1.0v1.0h-1.0zM357.6 527.5h1.0v1.0h-1.0zM359.2 513.2h1.0v1.0h-1.0zM364.7 537.8h1.0v1.0h-1.0zM360.9 546.2h1.0v1.0h-1.0zM356.1 534.8h1.0v1.0h-1.0zM354.0 546.3h1.0v1.0h-1.0zM356.7 506.4h1.0v1.0h-1.0zM354.8 550.4h1.0v1.0h-1.0zM361.7 512.5h1.0v1.0h-1.0zM359.3 536.4h1.0v1.0h-1.0zM351.1 513.2h1.0v1.0h-1.0zM351.8 510.7h1.0v1.0h-1.0zM361.2 548.1h1.0v1.0h-1.0zM356.4 511.6h1.0v1.0h-1.0zM353.9 500.4h1.0v1.0h-1.0zM360.4 522.7h1.0v1.0h-1.0zM353.2 518.1h1.0v1.0h-1.0zM353.7 537.1h1.0v1.0h-1.0zM352.8 545.8h1.0v1.0h-1.0zM345.9 512.3h1.0v1.0h-1.0zM358.9 507.8h1.0v1.0h-1.0zM349.4 543.9h1.0v1.0h-1.0zM352.3 549.4h1.0v1.0h-1.0zM351.5 535.3h1.0v1.0h-1.0zM358.3 519.2h1.0v1.0h-1.0zM354.6 534.6h1.0v1.0h-1.0zM355.0 499.4h1.0v1.0h-1.0zM347.2 509.5h1.0v1.0h-1.0zM354.5 502.2h1.0v1.0h-1.0zM348.2 520.8h1.0v1.0h-1.0zM356.3 511.6h1.0v1.0h-1.0zM363.4 554.9h1.0v1.0h-1.0zM346.2 554.8h1.0v1.0h-1.0zM356.3 555.6h1.0v1.0h-1.0zM349.1 555.4h1.0v1.0h-1.0zM360.5 555.4h1.0v1.0h-1.0zM349.9 556.1h1.0v1.0h-1.0zM359.5 556.3h1.0v1.0h-1.0zM351.8 555.4h1.0v1.0h-1.0zM357.8 555.4h1.0v1.0h-1.0zM358.3 554.8h1.0v1.0h-1.0zM362.6 556.0h1.0v1.0h-1.0zM361.9 554.8h1.0v1.0h-1.0zM353.8 555.8h1.0v1.0h-1.0zM358.5 555.4h1.0v1.0h-1.0zM349.0 555.1h1.0v1.0h-1.0zM347.4 556.0h1.0v1.0h-1.0zM359.0 554.7h1.0v1.0h-1.0zM362.6 554.7h1.0v1.0h-1.0zM359.6 554.6h1.0v1.0h-1.0zM355.3 556.3h1.0v1.0h-1.0zM357.4 555.2h1.0v1.0h-1.0zM359.3 555.1h1.0v1.0h-1.0zM356.2 554.8h1.0v1.0h-1.0zM352.4 555.9h1.0v1.0h-1.0zM361.5 556.1h1.0v1.0h-1.0zM352.5 554.9h1.0v1.0h-1.0zM362.5 555.8h1.0v1.0h-1.0zM360.6 556.1h1.0v1.0h-1.0zM360.4 556.1h1.0v1.0h-1.0zM361.2 555.2h1.0v1.0h-1.0zM364.1 555.4h1.0v1.0h-1.0zM364.1 555.0h1.0v1.0h-1.0zM355.0 554.9h1.0v1.0h-1.0zM352.6 556.3h1.0v1.0h-1.0zM359.3 554.7h1.0v1.0h-1.0zM363.7 554.8h1.0v1.0h-1.0zM357.4 554.7h1.0v1.0h-1.0zM346.0 555.0h1.0v1.0h-1.0zM346.3 555.6h1.0v1.0h-1.0zM354.3 555.8h1.0v1.0h-1.0z" fill="#1a1a1a" fill-opacity="0.88"/>
<line x1="335.6" y1="473.1" x2="335.6" y2="557.1" stroke="#808080" stroke-width="0.9"/>
<line x1="297.6" y1="514.7" x2="381" y2="514.7" stroke="#808080" stroke-width="0.9"/>
<rect x="297.6" y="473.1" width="83.4" height="84" fill="none" stroke="#222" stroke-width="1.1"/>
<line x1="297.6" y1="557.1" x2="297.6" y2="559.7" stroke="#161616" stroke-width="0.9"/>
<line x1="303.88" y1="557.1" x2="303.88" y2="558.5" stroke="#161616" stroke-width="0.6"/>
<line x1="307.55" y1="557.1" x2="307.55" y2="558.5" stroke="#161616" stroke-width="0.6"/>
<line x1="310.15" y1="557.1" x2="310.15" y2="558.5" stroke="#161616" stroke-width="0.6"/>
<line x1="312.17" y1="557.1" x2="312.17" y2="558.5" stroke="#161616" stroke-width="0.6"/>
<line x1="313.82" y1="557.1" x2="313.82" y2="558.5" stroke="#161616" stroke-width="0.6"/>
<line x1="315.22" y1="557.1" x2="315.22" y2="558.5" stroke="#161616" stroke-width="0.6"/>
<line x1="316.43" y1="557.1" x2="316.43" y2="558.5" stroke="#161616" stroke-width="0.6"/>
<line x1="317.5" y1="557.1" x2="317.5" y2="558.5" stroke="#161616" stroke-width="0.6"/>
<line x1="318.45" y1="557.1" x2="318.45" y2="559.7" stroke="#161616" stroke-width="0.9"/>
<line x1="324.73" y1="557.1" x2="324.73" y2="558.5" stroke="#161616" stroke-width="0.6"/>
<line x1="328.4" y1="557.1" x2="328.4" y2="558.5" stroke="#161616" stroke-width="0.6"/>
<line x1="331" y1="557.1" x2="331" y2="558.5" stroke="#161616" stroke-width="0.6"/>
<line x1="333.02" y1="557.1" x2="333.02" y2="558.5" stroke="#161616" stroke-width="0.6"/>
<line x1="334.67" y1="557.1" x2="334.67" y2="558.5" stroke="#161616" stroke-width="0.6"/>
<line x1="336.07" y1="557.1" x2="336.07" y2="558.5" stroke="#161616" stroke-width="0.6"/>
<line x1="337.28" y1="557.1" x2="337.28" y2="558.5" stroke="#161616" stroke-width="0.6"/>
<line x1="338.35" y1="557.1" x2="338.35" y2="558.5" stroke="#161616" stroke-width="0.6"/>
<line x1="339.3" y1="557.1" x2="339.3" y2="559.7" stroke="#161616" stroke-width="0.9"/>
<line x1="345.58" y1="557.1" x2="345.58" y2="558.5" stroke="#161616" stroke-width="0.6"/>
<line x1="349.25" y1="557.1" x2="349.25" y2="558.5" stroke="#161616" stroke-width="0.6"/>
<line x1="351.85" y1="557.1" x2="351.85" y2="558.5" stroke="#161616" stroke-width="0.6"/>
<line x1="353.87" y1="557.1" x2="353.87" y2="558.5" stroke="#161616" stroke-width="0.6"/>
<line x1="355.52" y1="557.1" x2="355.52" y2="558.5" stroke="#161616" stroke-width="0.6"/>
<line x1="356.92" y1="557.1" x2="356.92" y2="558.5" stroke="#161616" stroke-width="0.6"/>
<line x1="358.13" y1="557.1" x2="358.13" y2="558.5" stroke="#161616" stroke-width="0.6"/>
<line x1="359.2" y1="557.1" x2="359.2" y2="558.5" stroke="#161616" stroke-width="0.6"/>
<line x1="360.15" y1="557.1" x2="360.15" y2="559.7" stroke="#161616" stroke-width="0.9"/>
<line x1="366.43" y1="557.1" x2="366.43" y2="558.5" stroke="#161616" stroke-width="0.6"/>
<line x1="370.1" y1="557.1" x2="370.1" y2="558.5" stroke="#161616" stroke-width="0.6"/>
<line x1="372.7" y1="557.1" x2="372.7" y2="558.5" stroke="#161616" stroke-width="0.6"/>
<line x1="374.72" y1="557.1" x2="374.72" y2="558.5" stroke="#161616" stroke-width="0.6"/>
<line x1="376.37" y1="557.1" x2="376.37" y2="558.5" stroke="#161616" stroke-width="0.6"/>
<line x1="377.77" y1="557.1" x2="377.77" y2="558.5" stroke="#161616" stroke-width="0.6"/>
<line x1="378.98" y1="557.1" x2="378.98" y2="558.5" stroke="#161616" stroke-width="0.6"/>
<line x1="380.05" y1="557.1" x2="380.05" y2="558.5" stroke="#161616" stroke-width="0.6"/>
<line x1="381" y1="557.1" x2="381" y2="559.7" stroke="#161616" stroke-width="0.9"/>
<line x1="297.6" y1="557.1" x2="295" y2="557.1" stroke="#161616" stroke-width="0.9"/>
<line x1="297.6" y1="550.78" x2="296.2" y2="550.78" stroke="#161616" stroke-width="0.6"/>
<line x1="297.6" y1="547.08" x2="296.2" y2="547.08" stroke="#161616" stroke-width="0.6"/>
<line x1="297.6" y1="544.46" x2="296.2" y2="544.46" stroke="#161616" stroke-width="0.6"/>
<line x1="297.6" y1="542.42" x2="296.2" y2="542.42" stroke="#161616" stroke-width="0.6"/>
<line x1="297.6" y1="540.76" x2="296.2" y2="540.76" stroke="#161616" stroke-width="0.6"/>
<line x1="297.6" y1="539.35" x2="296.2" y2="539.35" stroke="#161616" stroke-width="0.6"/>
<line x1="297.6" y1="538.14" x2="296.2" y2="538.14" stroke="#161616" stroke-width="0.6"/>
<line x1="297.6" y1="537.06" x2="296.2" y2="537.06" stroke="#161616" stroke-width="0.6"/>
<line x1="297.6" y1="536.1" x2="295" y2="536.1" stroke="#161616" stroke-width="0.9"/>
<line x1="297.6" y1="529.78" x2="296.2" y2="529.78" stroke="#161616" stroke-width="0.6"/>
<line x1="297.6" y1="526.08" x2="296.2" y2="526.08" stroke="#161616" stroke-width="0.6"/>
<line x1="297.6" y1="523.46" x2="296.2" y2="523.46" stroke="#161616" stroke-width="0.6"/>
<line x1="297.6" y1="521.42" x2="296.2" y2="521.42" stroke="#161616" stroke-width="0.6"/>
<line x1="297.6" y1="519.76" x2="296.2" y2="519.76" stroke="#161616" stroke-width="0.6"/>
<line x1="297.6" y1="518.35" x2="296.2" y2="518.35" stroke="#161616" stroke-width="0.6"/>
<line x1="297.6" y1="517.14" x2="296.2" y2="517.14" stroke="#161616" stroke-width="0.6"/>
<line x1="297.6" y1="516.06" x2="296.2" y2="516.06" stroke="#161616" stroke-width="0.6"/>
<line x1="297.6" y1="515.1" x2="295" y2="515.1" stroke="#161616" stroke-width="0.9"/>
<line x1="297.6" y1="508.78" x2="296.2" y2="508.78" stroke="#161616" stroke-width="0.6"/>
<line x1="297.6" y1="505.08" x2="296.2" y2="505.08" stroke="#161616" stroke-width="0.6"/>
<line x1="297.6" y1="502.46" x2="296.2" y2="502.46" stroke="#161616" stroke-width="0.6"/>
<line x1="297.6" y1="500.42" x2="296.2" y2="500.42" stroke="#161616" stroke-width="0.6"/>
<line x1="297.6" y1="498.76" x2="296.2" y2="498.76" stroke="#161616" stroke-width="0.6"/>
<line x1="297.6" y1="497.35" x2="296.2" y2="497.35" stroke="#161616" stroke-width="0.6"/>
<line x1="297.6" y1="496.14" x2="296.2" y2="496.14" stroke="#161616" stroke-width="0.6"/>
<line x1="297.6" y1="495.06" x2="296.2" y2="495.06" stroke="#161616" stroke-width="0.6"/>
<line x1="297.6" y1="494.1" x2="295" y2="494.1" stroke="#161616" stroke-width="0.9"/>
<line x1="297.6" y1="487.78" x2="296.2" y2="487.78" stroke="#161616" stroke-width="0.6"/>
<line x1="297.6" y1="484.08" x2="296.2" y2="484.08" stroke="#161616" stroke-width="0.6"/>
<line x1="297.6" y1="481.46" x2="296.2" y2="481.46" stroke="#161616" stroke-width="0.6"/>
<line x1="297.6" y1="479.42" x2="296.2" y2="479.42" stroke="#161616" stroke-width="0.6"/>
<line x1="297.6" y1="477.76" x2="296.2" y2="477.76" stroke="#161616" stroke-width="0.6"/>
<line x1="297.6" y1="476.35" x2="296.2" y2="476.35" stroke="#161616" stroke-width="0.6"/>
<line x1="297.6" y1="475.14" x2="296.2" y2="475.14" stroke="#161616" stroke-width="0.6"/>
<line x1="297.6" y1="474.06" x2="296.2" y2="474.06" stroke="#161616" stroke-width="0.6"/>
<line x1="297.6" y1="473.1" x2="295" y2="473.1" stroke="#161616" stroke-width="0.9"/>
<text x="335.9" y="468.4" font-size="8.7" font-weight="bold" text-anchor="middle" fill="#161616">SVR12</text>
<text x="301.6" y="484" font-size="8.0" font-weight="bold" text-anchor="start" fill="#161616">16</text>
<text x="377.2" y="484" font-size="8.0" font-weight="bold" text-anchor="end" fill="#161616">15</text>
<text x="301.6" y="553.7" font-size="8.0" font-weight="bold" text-anchor="start" fill="#161616">5</text>
<text x="377.2" y="553.7" font-size="8.0" font-weight="bold" text-anchor="end" fill="#161616">64</text>
<text x="297.9" y="569.6" font-size="6.6" text-anchor="middle" fill="#161616" textLength="8.9" lengthAdjust="spacingAndGlyphs">10<tspan font-size="4.36" dy="-2.6">0</tspan></text>
<text x="292.3" y="559.4" font-size="6.6" text-anchor="end" fill="#161616" textLength="8.9" lengthAdjust="spacingAndGlyphs">10<tspan font-size="4.36" dy="-2.6">0</tspan></text>
<text x="318.75" y="569.6" font-size="6.6" text-anchor="middle" fill="#161616" textLength="8.9" lengthAdjust="spacingAndGlyphs">10<tspan font-size="4.36" dy="-2.6">1</tspan></text>
<text x="292.3" y="538.4" font-size="6.6" text-anchor="end" fill="#161616" textLength="8.9" lengthAdjust="spacingAndGlyphs">10<tspan font-size="4.36" dy="-2.6">1</tspan></text>
<text x="339.6" y="569.6" font-size="6.6" text-anchor="middle" fill="#161616" textLength="8.9" lengthAdjust="spacingAndGlyphs">10<tspan font-size="4.36" dy="-2.6">2</tspan></text>
<text x="292.3" y="517.4" font-size="6.6" text-anchor="end" fill="#161616" textLength="8.9" lengthAdjust="spacingAndGlyphs">10<tspan font-size="4.36" dy="-2.6">2</tspan></text>
<text x="360.45" y="569.6" font-size="6.6" text-anchor="middle" fill="#161616" textLength="8.9" lengthAdjust="spacingAndGlyphs">10<tspan font-size="4.36" dy="-2.6">3</tspan></text>
<text x="292.3" y="496.4" font-size="6.6" text-anchor="end" fill="#161616" textLength="8.9" lengthAdjust="spacingAndGlyphs">10<tspan font-size="4.36" dy="-2.6">3</tspan></text>
<text x="381.3" y="569.6" font-size="6.6" text-anchor="middle" fill="#161616" textLength="8.9" lengthAdjust="spacingAndGlyphs">10<tspan font-size="4.36" dy="-2.6">4</tspan></text>
<text x="292.3" y="475.4" font-size="6.6" text-anchor="end" fill="#161616" textLength="8.9" lengthAdjust="spacingAndGlyphs">10<tspan font-size="4.36" dy="-2.6">4</tspan></text>
<text x="339.9" y="582.3" font-size="8.6" text-anchor="middle" fill="#161616" textLength="25.4" lengthAdjust="spacingAndGlyphs">V<tspan font-size="5.9" dy="1.6">H</tspan><tspan dy="-1.6">1-69</tspan></text>
<text x="276.5" y="515.1" font-size="9.2" text-anchor="middle" transform="rotate(-90 276.5 515.1)" fill="#161616" textLength="18.4" lengthAdjust="spacingAndGlyphs">CD21</text>
<path d="M462.6 488.1h1.0v1.0h-1.0zM450.9 498.2h1.0v1.0h-1.0zM457.3 497.0h1.0v1.0h-1.0zM462.2 498.3h1.0v1.0h-1.0zM453.0 497.1h1.0v1.0h-1.0zM456.1 498.5h1.0v1.0h-1.0zM461.3 493.5h1.0v1.0h-1.0zM453.2 497.6h1.0v1.0h-1.0zM456.8 490.8h1.0v1.0h-1.0zM451.5 504.2h1.0v1.0h-1.0zM448.1 508.3h1.0v1.0h-1.0zM463.2 488.8h1.0v1.0h-1.0zM460.8 490.4h1.0v1.0h-1.0zM458.2 496.0h1.0v1.0h-1.0zM445.0 507.4h1.0v1.0h-1.0zM444.1 509.2h1.0v1.0h-1.0zM461.8 488.1h1.0v1.0h-1.0zM463.6 490.8h1.0v1.0h-1.0zM448.2 510.4h1.0v1.0h-1.0zM460.2 496.7h1.0v1.0h-1.0zM443.6 511.1h1.0v1.0h-1.0zM451.2 502.7h1.0v1.0h-1.0zM460.0 495.3h1.0v1.0h-1.0zM451.7 504.6h1.0v1.0h-1.0zM463.8 489.8h1.0v1.0h-1.0zM464.8 489.1h1.0v1.0h-1.0zM449.9 508.2h1.0v1.0h-1.0zM461.7 497.1h1.0v1.0h-1.0zM450.9 504.0h1.0v1.0h-1.0zM445.3 507.1h1.0v1.0h-1.0zM452.6 505.7h1.0v1.0h-1.0zM454.8 503.0h1.0v1.0h-1.0zM462.9 490.2h1.0v1.0h-1.0zM456.4 489.6h1.0v1.0h-1.0zM437.8 511.3h1.0v1.0h-1.0zM444.4 506.8h1.0v1.0h-1.0zM467.4 487.2h1.0v1.0h-1.0zM457.3 498.7h1.0v1.0h-1.0zM453.3 500.1h1.0v1.0h-1.0zM453.1 504.5h1.0v1.0h-1.0zM460.3 487.4h1.0v1.0h-1.0zM456.2 497.1h1.0v1.0h-1.0zM457.1 495.2h1.0v1.0h-1.0zM446.1 503.9h1.0v1.0h-1.0zM458.9 492.4h1.0v1.0h-1.0zM442.0 507.1h1.0v1.0h-1.0zM443.1 508.2h1.0v1.0h-1.0zM451.7 495.2h1.0v1.0h-1.0zM462.8 489.8h1.0v1.0h-1.0zM449.2 503.3h1.0v1.0h-1.0zM451.6 503.9h1.0v1.0h-1.0zM446.6 510.1h1.0v1.0h-1.0zM454.7 497.4h1.0v1.0h-1.0zM461.1 494.9h1.0v1.0h-1.0zM444.2 506.3h1.0v1.0h-1.0zM456.3 503.8h1.0v1.0h-1.0zM455.6 498.9h1.0v1.0h-1.0zM442.3 503.2h1.0v1.0h-1.0zM454.6 499.4h1.0v1.0h-1.0zM448.7 508.0h1.0v1.0h-1.0zM446.1 507.0h1.0v1.0h-1.0zM467.5 483.9h1.0v1.0h-1.0zM448.6 510.1h1.0v1.0h-1.0zM449.3 501.7h1.0v1.0h-1.0zM455.8 496.1h1.0v1.0h-1.0zM446.1 502.7h1.0v1.0h-1.0zM442.3 503.6h1.0v1.0h-1.0zM461.4 489.9h1.0v1.0h-1.0zM442.4 507.3h1.0v1.0h-1.0zM452.6 502.8h1.0v1.0h-1.0zM465.0 488.1h1.0v1.0h-1.0zM463.1 486.5h1.0v1.0h-1.0zM462.7 487.0h1.0v1.0h-1.0zM449.4 501.2h1.0v1.0h-1.0zM461.5 496.8h1.0v1.0h-1.0zM458.3 489.2h1.0v1.0h-1.0zM446.1 507.8h1.0v1.0h-1.0zM469.8 488.2h1.0v1.0h-1.0zM444.7 513.1h1.0v1.0h-1.0zM458.8 496.8h1.0v1.0h-1.0zM447.5 507.8h1.0v1.0h-1.0zM444.3 506.6h1.0v1.0h-1.0zM445.4 512.2h1.0v1.0h-1.0zM465.3 488.1h1.0v1.0h-1.0zM442.7 508.4h1.0v1.0h-1.0zM487.7 505.1h1.0v1.0h-1.0zM489.7 499.6h1.0v1.0h-1.0zM488.8 503.0h1.0v1.0h-1.0zM496.1 514.5h1.0v1.0h-1.0zM481.8 498.0h1.0v1.0h-1.0zM490.9 497.3h1.0v1.0h-1.0zM485.4 507.0h1.0v1.0h-1.0zM490.5 496.4h1.0v1.0h-1.0zM495.9 505.0h1.0v1.0h-1.0zM489.7 506.3h1.0v1.0h-1.0zM492.9 499.9h1.0v1.0h-1.0zM488.8 504.3h1.0v1.0h-1.0zM500.4 485.5h1.0v1.0h-1.0zM496.1 509.8h1.0v1.0h-1.0zM497.0 495.3h1.0v1.0h-1.0zM486.8 493.7h1.0v1.0h-1.0zM487.7 512.4h1.0v1.0h-1.0zM496.8 510.9h1.0v1.0h-1.0zM491.5 496.4h1.0v1.0h-1.0zM491.3 503.0h1.0v1.0h-1.0zM493.7 497.6h1.0v1.0h-1.0zM487.1 492.8h1.0v1.0h-1.0zM495.6 502.3h1.0v1.0h-1.0zM492.4 506.7h1.0v1.0h-1.0zM494.3 517.2h1.0v1.0h-1.0zM489.5 498.7h1.0v1.0h-1.0zM494.5 505.8h1.0v1.0h-1.0zM489.4 498.0h1.0v1.0h-1.0zM496.3 498.5h1.0v1.0h-1.0zM497.0 508.7h1.0v1.0h-1.0zM496.1 489.1h1.0v1.0h-1.0zM494.5 493.2h1.0v1.0h-1.0zM495.0 494.6h1.0v1.0h-1.0zM481.0 507.4h1.0v1.0h-1.0zM495.8 502.5h1.0v1.0h-1.0zM491.2 503.4h1.0v1.0h-1.0zM492.7 502.6h1.0v1.0h-1.0zM491.1 507.1h1.0v1.0h-1.0zM486.5 497.2h1.0v1.0h-1.0zM490.1 498.5h1.0v1.0h-1.0zM495.1 497.7h1.0v1.0h-1.0zM498.2 503.2h1.0v1.0h-1.0zM489.7 491.8h1.0v1.0h-1.0zM488.6 498.8h1.0v1.0h-1.0zM498.4 517.2h1.0v1.0h-1.0zM488.6 504.0h1.0v1.0h-1.0zM501.0 500.3h1.0v1.0h-1.0zM492.5 493.9h1.0v1.0h-1.0zM488.6 501.9h1.0v1.0h-1.0zM496.4 501.6h1.0v1.0h-1.0zM499.4 504.2h1.0v1.0h-1.0zM486.3 495.8h1.0v1.0h-1.0zM498.8 502.8h1.0v1.0h-1.0zM491.2 503.8h1.0v1.0h-1.0zM498.5 504.7h1.0v1.0h-1.0zM490.7 496.5h1.0v1.0h-1.0zM485.7 503.3h1.0v1.0h-1.0zM494.4 510.5h1.0v1.0h-1.0zM496.2 496.1h1.0v1.0h-1.0zM501.1 504.4h1.0v1.0h-1.0zM499.5 497.7h1.0v1.0h-1.0zM495.2 497.6h1.0v1.0h-1.0zM491.3 492.4h1.0v1.0h-1.0zM490.2 493.4h1.0v1.0h-1.0zM491.1 503.6h1.0v1.0h-1.0zM488.9 501.0h1.0v1.0h-1.0zM491.2 508.1h1.0v1.0h-1.0zM481.7 489.4h1.0v1.0h-1.0zM493.1 497.2h1.0v1.0h-1.0zM492.2 491.2h1.0v1.0h-1.0zM503.0 502.0h1.0v1.0h-1.0zM495.5 512.9h1.0v1.0h-1.0zM490.3 490.3h1.0v1.0h-1.0zM494.7 499.4h1.0v1.0h-1.0zM487.2 499.1h1.0v1.0h-1.0zM489.8 499.6h1.0v1.0h-1.0zM484.5 495.9h1.0v1.0h-1.0zM498.3 496.6h1.0v1.0h-1.0zM494.8 510.0h1.0v1.0h-1.0zM487.4 493.1h1.0v1.0h-1.0zM492.1 503.3h1.0v1.0h-1.0zM496.3 502.9h1.0v1.0h-1.0zM494.4 489.1h1.0v1.0h-1.0zM493.9 494.2h1.0v1.0h-1.0zM488.7 502.1h1.0v1.0h-1.0zM489.7 511.7h1.0v1.0h-1.0zM492.7 499.0h1.0v1.0h-1.0zM496.2 496.6h1.0v1.0h-1.0zM488.9 500.5h1.0v1.0h-1.0zM487.6 507.8h1.0v1.0h-1.0zM497.1 505.0h1.0v1.0h-1.0zM488.4 507.9h1.0v1.0h-1.0zM496.8 498.6h1.0v1.0h-1.0zM493.3 494.8h1.0v1.0h-1.0zM496.0 493.5h1.0v1.0h-1.0zM499.6 504.6h1.0v1.0h-1.0zM495.2 498.5h1.0v1.0h-1.0zM495.6 496.5h1.0v1.0h-1.0zM488.5 503.2h1.0v1.0h-1.0zM489.4 500.9h1.0v1.0h-1.0zM495.0 486.6h1.0v1.0h-1.0zM498.7 498.7h1.0v1.0h-1.0zM498.1 494.4h1.0v1.0h-1.0zM502.0 502.7h1.0v1.0h-1.0zM493.6 499.7h1.0v1.0h-1.0zM493.2 510.8h1.0v1.0h-1.0zM496.5 500.1h1.0v1.0h-1.0zM492.4 492.5h1.0v1.0h-1.0zM492.1 486.8h1.0v1.0h-1.0zM488.0 492.4h1.0v1.0h-1.0zM496.5 495.7h1.0v1.0h-1.0zM487.9 499.6h1.0v1.0h-1.0zM494.5 503.8h1.0v1.0h-1.0zM486.4 501.0h1.0v1.0h-1.0zM496.9 496.1h1.0v1.0h-1.0zM488.0 504.9h1.0v1.0h-1.0zM495.9 494.1h1.0v1.0h-1.0zM485.7 506.2h1.0v1.0h-1.0zM490.5 511.2h1.0v1.0h-1.0zM497.3 506.4h1.0v1.0h-1.0zM485.0 493.7h1.0v1.0h-1.0zM485.8 492.5h1.0v1.0h-1.0zM492.0 496.7h1.0v1.0h-1.0zM488.7 494.6h1.0v1.0h-1.0zM489.7 497.1h1.0v1.0h-1.0zM492.1 490.0h1.0v1.0h-1.0zM492.4 493.9h1.0v1.0h-1.0zM487.9 491.3h1.0v1.0h-1.0zM492.5 495.2h1.0v1.0h-1.0zM490.2 494.6h1.0v1.0h-1.0zM489.2 489.0h1.0v1.0h-1.0zM490.3 496.1h1.0v1.0h-1.0zM485.6 498.7h1.0v1.0h-1.0zM487.2 491.8h1.0v1.0h-1.0zM488.9 496.6h1.0v1.0h-1.0zM490.7 494.4h1.0v1.0h-1.0zM488.3 490.2h1.0v1.0h-1.0zM488.9 495.6h1.0v1.0h-1.0zM491.6 490.3h1.0v1.0h-1.0zM492.7 495.2h1.0v1.0h-1.0zM491.1 488.4h1.0v1.0h-1.0zM492.4 488.9h1.0v1.0h-1.0zM488.2 494.5h1.0v1.0h-1.0zM488.4 493.7h1.0v1.0h-1.0zM490.0 495.7h1.0v1.0h-1.0zM488.4 492.4h1.0v1.0h-1.0zM487.9 489.4h1.0v1.0h-1.0zM493.3 497.6h1.0v1.0h-1.0zM488.7 490.2h1.0v1.0h-1.0zM486.8 497.2h1.0v1.0h-1.0zM490.4 495.8h1.0v1.0h-1.0zM493.8 498.7h1.0v1.0h-1.0zM489.4 486.4h1.0v1.0h-1.0zM492.3 492.9h1.0v1.0h-1.0zM488.1 492.3h1.0v1.0h-1.0zM488.0 495.2h1.0v1.0h-1.0zM487.5 489.7h1.0v1.0h-1.0zM488.8 499.7h1.0v1.0h-1.0zM493.8 493.0h1.0v1.0h-1.0zM486.3 486.1h1.0v1.0h-1.0zM493.3 494.3h1.0v1.0h-1.0zM486.7 493.0h1.0v1.0h-1.0zM488.6 490.9h1.0v1.0h-1.0zM491.3 495.6h1.0v1.0h-1.0zM490.8 493.0h1.0v1.0h-1.0zM489.9 490.0h1.0v1.0h-1.0zM485.1 492.4h1.0v1.0h-1.0zM490.1 491.9h1.0v1.0h-1.0zM486.6 494.2h1.0v1.0h-1.0zM495.6 492.1h1.0v1.0h-1.0zM489.8 535.3h1.0v1.0h-1.0zM494.2 538.5h1.0v1.0h-1.0zM491.9 517.5h1.0v1.0h-1.0zM488.9 548.2h1.0v1.0h-1.0zM482.0 525.6h1.0v1.0h-1.0zM491.9 522.5h1.0v1.0h-1.0zM492.0 533.8h1.0v1.0h-1.0zM486.7 530.8h1.0v1.0h-1.0zM483.4 539.9h1.0v1.0h-1.0zM486.0 539.7h1.0v1.0h-1.0zM492.5 546.8h1.0v1.0h-1.0zM486.3 516.4h1.0v1.0h-1.0zM488.2 547.7h1.0v1.0h-1.0zM490.3 543.8h1.0v1.0h-1.0zM493.5 522.8h1.0v1.0h-1.0zM489.6 532.4h1.0v1.0h-1.0zM489.3 530.4h1.0v1.0h-1.0zM487.9 538.2h1.0v1.0h-1.0zM494.7 542.9h1.0v1.0h-1.0zM493.0 520.2h1.0v1.0h-1.0zM489.3 544.3h1.0v1.0h-1.0zM485.2 538.1h1.0v1.0h-1.0zM487.1 521.9h1.0v1.0h-1.0zM491.4 538.1h1.0v1.0h-1.0zM487.4 514.7h1.0v1.0h-1.0zM492.4 542.4h1.0v1.0h-1.0zM490.7 529.9h1.0v1.0h-1.0zM490.5 529.5h1.0v1.0h-1.0zM491.7 530.8h1.0v1.0h-1.0zM491.2 521.1h1.0v1.0h-1.0zM486.9 547.1h1.0v1.0h-1.0zM488.6 529.2h1.0v1.0h-1.0zM496.9 520.5h1.0v1.0h-1.0zM485.8 546.9h1.0v1.0h-1.0zM488.1 529.2h1.0v1.0h-1.0zM493.0 533.0h1.0v1.0h-1.0zM489.1 534.3h1.0v1.0h-1.0zM487.1 529.5h1.0v1.0h-1.0zM485.5 526.4h1.0v1.0h-1.0zM491.3 523.6h1.0v1.0h-1.0zM492.8 516.6h1.0v1.0h-1.0zM494.0 525.3h1.0v1.0h-1.0zM489.8 513.0h1.0v1.0h-1.0zM492.9 525.0h1.0v1.0h-1.0zM486.4 539.1h1.0v1.0h-1.0zM490.1 543.4h1.0v1.0h-1.0zM487.5 546.2h1.0v1.0h-1.0zM490.2 539.1h1.0v1.0h-1.0zM492.0 544.4h1.0v1.0h-1.0zM493.0 524.3h1.0v1.0h-1.0zM486.5 524.1h1.0v1.0h-1.0zM493.6 526.8h1.0v1.0h-1.0zM488.1 535.0h1.0v1.0h-1.0zM486.4 532.1h1.0v1.0h-1.0zM489.1 539.4h1.0v1.0h-1.0zM487.7 554.3h1.0v1.0h-1.0zM470.7 550.6h1.0v1.0h-1.0zM476.4 545.3h1.0v1.0h-1.0zM481.2 550.6h1.0v1.0h-1.0zM473.8 554.6h1.0v1.0h-1.0zM486.5 545.4h1.0v1.0h-1.0zM479.4 550.2h1.0v1.0h-1.0zM477.4 540.8h1.0v1.0h-1.0z" fill="#1a1a1a" fill-opacity="0.88"/>
<line x1="470.4" y1="473.1" x2="470.4" y2="557.1" stroke="#808080" stroke-width="0.9"/>
<line x1="422.4" y1="513.7" x2="505.9" y2="513.7" stroke="#808080" stroke-width="0.9"/>
<rect x="422.4" y="473.1" width="83.5" height="84" fill="none" stroke="#222" stroke-width="1.1"/>
<line x1="422.4" y1="557.1" x2="422.4" y2="559.7" stroke="#161616" stroke-width="0.9"/>
<line x1="428.68" y1="557.1" x2="428.68" y2="558.5" stroke="#161616" stroke-width="0.6"/>
<line x1="432.36" y1="557.1" x2="432.36" y2="558.5" stroke="#161616" stroke-width="0.6"/>
<line x1="434.97" y1="557.1" x2="434.97" y2="558.5" stroke="#161616" stroke-width="0.6"/>
<line x1="436.99" y1="557.1" x2="436.99" y2="558.5" stroke="#161616" stroke-width="0.6"/>
<line x1="438.64" y1="557.1" x2="438.64" y2="558.5" stroke="#161616" stroke-width="0.6"/>
<line x1="440.04" y1="557.1" x2="440.04" y2="558.5" stroke="#161616" stroke-width="0.6"/>
<line x1="441.25" y1="557.1" x2="441.25" y2="558.5" stroke="#161616" stroke-width="0.6"/>
<line x1="442.32" y1="557.1" x2="442.32" y2="558.5" stroke="#161616" stroke-width="0.6"/>
<line x1="443.27" y1="557.1" x2="443.27" y2="559.7" stroke="#161616" stroke-width="0.9"/>
<line x1="449.56" y1="557.1" x2="449.56" y2="558.5" stroke="#161616" stroke-width="0.6"/>
<line x1="453.23" y1="557.1" x2="453.23" y2="558.5" stroke="#161616" stroke-width="0.6"/>
<line x1="455.84" y1="557.1" x2="455.84" y2="558.5" stroke="#161616" stroke-width="0.6"/>
<line x1="457.87" y1="557.1" x2="457.87" y2="558.5" stroke="#161616" stroke-width="0.6"/>
<line x1="459.52" y1="557.1" x2="459.52" y2="558.5" stroke="#161616" stroke-width="0.6"/>
<line x1="460.92" y1="557.1" x2="460.92" y2="558.5" stroke="#161616" stroke-width="0.6"/>
<line x1="462.13" y1="557.1" x2="462.13" y2="558.5" stroke="#161616" stroke-width="0.6"/>
<line x1="463.19" y1="557.1" x2="463.19" y2="558.5" stroke="#161616" stroke-width="0.6"/>
<line x1="464.15" y1="557.1" x2="464.15" y2="559.7" stroke="#161616" stroke-width="0.9"/>
<line x1="470.43" y1="557.1" x2="470.43" y2="558.5" stroke="#161616" stroke-width="0.6"/>
<line x1="474.11" y1="557.1" x2="474.11" y2="558.5" stroke="#161616" stroke-width="0.6"/>
<line x1="476.72" y1="557.1" x2="476.72" y2="558.5" stroke="#161616" stroke-width="0.6"/>
<line x1="478.74" y1="557.1" x2="478.74" y2="558.5" stroke="#161616" stroke-width="0.6"/>
<line x1="480.39" y1="557.1" x2="480.39" y2="558.5" stroke="#161616" stroke-width="0.6"/>
<line x1="481.79" y1="557.1" x2="481.79" y2="558.5" stroke="#161616" stroke-width="0.6"/>
<line x1="483" y1="557.1" x2="483" y2="558.5" stroke="#161616" stroke-width="0.6"/>
<line x1="484.07" y1="557.1" x2="484.07" y2="558.5" stroke="#161616" stroke-width="0.6"/>
<line x1="485.02" y1="557.1" x2="485.02" y2="559.7" stroke="#161616" stroke-width="0.9"/>
<line x1="491.31" y1="557.1" x2="491.31" y2="558.5" stroke="#161616" stroke-width="0.6"/>
<line x1="494.98" y1="557.1" x2="494.98" y2="558.5" stroke="#161616" stroke-width="0.6"/>
<line x1="497.59" y1="557.1" x2="497.59" y2="558.5" stroke="#161616" stroke-width="0.6"/>
<line x1="499.62" y1="557.1" x2="499.62" y2="558.5" stroke="#161616" stroke-width="0.6"/>
<line x1="501.27" y1="557.1" x2="501.27" y2="558.5" stroke="#161616" stroke-width="0.6"/>
<line x1="502.67" y1="557.1" x2="502.67" y2="558.5" stroke="#161616" stroke-width="0.6"/>
<line x1="503.88" y1="557.1" x2="503.88" y2="558.5" stroke="#161616" stroke-width="0.6"/>
<line x1="504.94" y1="557.1" x2="504.94" y2="558.5" stroke="#161616" stroke-width="0.6"/>
<line x1="505.9" y1="557.1" x2="505.9" y2="559.7" stroke="#161616" stroke-width="0.9"/>
<line x1="422.4" y1="557.1" x2="419.8" y2="557.1" stroke="#161616" stroke-width="0.9"/>
<line x1="422.4" y1="550.78" x2="421" y2="550.78" stroke="#161616" stroke-width="0.6"/>
<line x1="422.4" y1="547.08" x2="421" y2="547.08" stroke="#161616" stroke-width="0.6"/>
<line x1="422.4" y1="544.46" x2="421" y2="544.46" stroke="#161616" stroke-width="0.6"/>
<line x1="422.4" y1="542.42" x2="421" y2="542.42" stroke="#161616" stroke-width="0.6"/>
<line x1="422.4" y1="540.76" x2="421" y2="540.76" stroke="#161616" stroke-width="0.6"/>
<line x1="422.4" y1="539.35" x2="421" y2="539.35" stroke="#161616" stroke-width="0.6"/>
<line x1="422.4" y1="538.14" x2="421" y2="538.14" stroke="#161616" stroke-width="0.6"/>
<line x1="422.4" y1="537.06" x2="421" y2="537.06" stroke="#161616" stroke-width="0.6"/>
<line x1="422.4" y1="536.1" x2="419.8" y2="536.1" stroke="#161616" stroke-width="0.9"/>
<line x1="422.4" y1="529.78" x2="421" y2="529.78" stroke="#161616" stroke-width="0.6"/>
<line x1="422.4" y1="526.08" x2="421" y2="526.08" stroke="#161616" stroke-width="0.6"/>
<line x1="422.4" y1="523.46" x2="421" y2="523.46" stroke="#161616" stroke-width="0.6"/>
<line x1="422.4" y1="521.42" x2="421" y2="521.42" stroke="#161616" stroke-width="0.6"/>
<line x1="422.4" y1="519.76" x2="421" y2="519.76" stroke="#161616" stroke-width="0.6"/>
<line x1="422.4" y1="518.35" x2="421" y2="518.35" stroke="#161616" stroke-width="0.6"/>
<line x1="422.4" y1="517.14" x2="421" y2="517.14" stroke="#161616" stroke-width="0.6"/>
<line x1="422.4" y1="516.06" x2="421" y2="516.06" stroke="#161616" stroke-width="0.6"/>
<line x1="422.4" y1="515.1" x2="419.8" y2="515.1" stroke="#161616" stroke-width="0.9"/>
<line x1="422.4" y1="508.78" x2="421" y2="508.78" stroke="#161616" stroke-width="0.6"/>
<line x1="422.4" y1="505.08" x2="421" y2="505.08" stroke="#161616" stroke-width="0.6"/>
<line x1="422.4" y1="502.46" x2="421" y2="502.46" stroke="#161616" stroke-width="0.6"/>
<line x1="422.4" y1="500.42" x2="421" y2="500.42" stroke="#161616" stroke-width="0.6"/>
<line x1="422.4" y1="498.76" x2="421" y2="498.76" stroke="#161616" stroke-width="0.6"/>
<line x1="422.4" y1="497.35" x2="421" y2="497.35" stroke="#161616" stroke-width="0.6"/>
<line x1="422.4" y1="496.14" x2="421" y2="496.14" stroke="#161616" stroke-width="0.6"/>
<line x1="422.4" y1="495.06" x2="421" y2="495.06" stroke="#161616" stroke-width="0.6"/>
<line x1="422.4" y1="494.1" x2="419.8" y2="494.1" stroke="#161616" stroke-width="0.9"/>
<line x1="422.4" y1="487.78" x2="421" y2="487.78" stroke="#161616" stroke-width="0.6"/>
<line x1="422.4" y1="484.08" x2="421" y2="484.08" stroke="#161616" stroke-width="0.6"/>
<line x1="422.4" y1="481.46" x2="421" y2="481.46" stroke="#161616" stroke-width="0.6"/>
<line x1="422.4" y1="479.42" x2="421" y2="479.42" stroke="#161616" stroke-width="0.6"/>
<line x1="422.4" y1="477.76" x2="421" y2="477.76" stroke="#161616" stroke-width="0.6"/>
<line x1="422.4" y1="476.35" x2="421" y2="476.35" stroke="#161616" stroke-width="0.6"/>
<line x1="422.4" y1="475.14" x2="421" y2="475.14" stroke="#161616" stroke-width="0.6"/>
<line x1="422.4" y1="474.06" x2="421" y2="474.06" stroke="#161616" stroke-width="0.6"/>
<line x1="422.4" y1="473.1" x2="419.8" y2="473.1" stroke="#161616" stroke-width="0.9"/>
<text x="462.1" y="468.4" font-size="8.7" font-weight="bold" text-anchor="middle" fill="#161616">SVR24</text>
<text x="426.4" y="484" font-size="8.0" font-weight="bold" text-anchor="start" fill="#161616">23</text>
<text x="502.1" y="484" font-size="8.0" font-weight="bold" text-anchor="end" fill="#161616">46</text>
<text x="426.4" y="553.7" font-size="8.0" font-weight="bold" text-anchor="start" fill="#161616">0.5</text>
<text x="502.1" y="553.7" font-size="8.0" font-weight="bold" text-anchor="end" fill="#161616">31</text>
<text x="422.7" y="569.6" font-size="6.6" text-anchor="middle" fill="#161616" textLength="8.9" lengthAdjust="spacingAndGlyphs">10<tspan font-size="4.36" dy="-2.6">0</tspan></text>
<text x="417.1" y="559.4" font-size="6.6" text-anchor="end" fill="#161616" textLength="8.9" lengthAdjust="spacingAndGlyphs">10<tspan font-size="4.36" dy="-2.6">0</tspan></text>
<text x="443.57" y="569.6" font-size="6.6" text-anchor="middle" fill="#161616" textLength="8.9" lengthAdjust="spacingAndGlyphs">10<tspan font-size="4.36" dy="-2.6">1</tspan></text>
<text x="417.1" y="538.4" font-size="6.6" text-anchor="end" fill="#161616" textLength="8.9" lengthAdjust="spacingAndGlyphs">10<tspan font-size="4.36" dy="-2.6">1</tspan></text>
<text x="464.45" y="569.6" font-size="6.6" text-anchor="middle" fill="#161616" textLength="8.9" lengthAdjust="spacingAndGlyphs">10<tspan font-size="4.36" dy="-2.6">2</tspan></text>
<text x="417.1" y="517.4" font-size="6.6" text-anchor="end" fill="#161616" textLength="8.9" lengthAdjust="spacingAndGlyphs">10<tspan font-size="4.36" dy="-2.6">2</tspan></text>
<text x="485.32" y="569.6" font-size="6.6" text-anchor="middle" fill="#161616" textLength="8.9" lengthAdjust="spacingAndGlyphs">10<tspan font-size="4.36" dy="-2.6">3</tspan></text>
<text x="417.1" y="496.4" font-size="6.6" text-anchor="end" fill="#161616" textLength="8.9" lengthAdjust="spacingAndGlyphs">10<tspan font-size="4.36" dy="-2.6">3</tspan></text>
<text x="506.2" y="569.6" font-size="6.6" text-anchor="middle" fill="#161616" textLength="8.9" lengthAdjust="spacingAndGlyphs">10<tspan font-size="4.36" dy="-2.6">4</tspan></text>
<text x="417.1" y="475.4" font-size="6.6" text-anchor="end" fill="#161616" textLength="8.9" lengthAdjust="spacingAndGlyphs">10<tspan font-size="4.36" dy="-2.6">4</tspan></text>
<text x="464.75" y="582.3" font-size="8.6" text-anchor="middle" fill="#161616" textLength="25.4" lengthAdjust="spacingAndGlyphs">V<tspan font-size="5.9" dy="1.6">H</tspan><tspan dy="-1.6">1-69</tspan></text>
<text x="401.5" y="515.1" font-size="9.2" text-anchor="middle" transform="rotate(-90 401.5 515.1)" fill="#161616" textLength="18.4" lengthAdjust="spacingAndGlyphs">CD21</text>
<text x="8.2" y="611" font-size="13.5" font-weight="bold" text-anchor="start" fill="#000">J</text>
<text x="35.3" y="611" font-size="11" font-weight="bold" text-anchor="start" fill="#000">i</text>
<text x="167.5" y="610.9" font-size="10.6" font-weight="bold" text-anchor="start" fill="#000">ii</text>
<text x="320.7" y="610.8" font-size="10.6" font-weight="bold" text-anchor="start" fill="#000">iii</text>
<path d="M91.5 621.5h0.5v.5h-0.5zM67.5 622h0.5v.5h-0.5zM66 622.5h0.5v.5h-0.5zM73 622.5h0.5v.5h-0.5zM80.5 622.5h0.5v.5h-0.5zM89 622.5h0.5v.5h-0.5zM100 622.5h0.5v.5h-0.5zM108 622.5h1v.5h-1zM113.5 622.5h1v.5h-1zM116.5 622.5h0.5v.5h-0.5zM118 622.5h0.5v.5h-0.5zM123 622.5h0.5v.5h-0.5zM125 622.5h0.5v.5h-0.5zM128.5 622.5h0.5v.5h-0.5zM144.5 622.5h0.5v.5h-0.5zM84.5 623h0.5v.5h-0.5zM88 623h0.5v.5h-0.5zM102 623h0.5v.5h-0.5zM103.5 623h0.5v.5h-0.5zM111.5 623h0.5v.5h-0.5zM115 623h0.5v.5h-0.5zM116 623h0.5v.5h-0.5zM117 623h1.5v.5h-1.5zM122 623h0.5v.5h-0.5zM124 623h0.5v.5h-0.5zM126 623h0.5v.5h-0.5zM74 623.5h0.5v.5h-0.5zM77.5 623.5h0.5v.5h-0.5zM81 623.5h0.5v.5h-0.5zM84 623.5h0.5v.5h-0.5zM99.5 623.5h0.5v.5h-0.5zM102.5 623.5h0.5v.5h-0.5zM108 623.5h0.5v.5h-0.5zM109.5 623.5h0.5v.5h-0.5zM118.5 623.5h0.5v.5h-0.5zM119.5 623.5h0.5v.5h-0.5zM122 623.5h0.5v.5h-0.5zM126 623.5h0.5v.5h-0.5zM128 623.5h0.5v.5h-0.5zM130 623.5h0.5v.5h-0.5zM73.5 624h0.5v.5h-0.5zM76.5 624h0.5v.5h-0.5zM79.5 624h1v.5h-1zM93 624h0.5v.5h-0.5zM106.5 624h0.5v.5h-0.5zM112 624h0.5v.5h-0.5zM113.5 624h0.5v.5h-0.5zM115 624h1.5v.5h-1.5zM118 624h0.5v.5h-0.5zM119.5 624h0.5v.5h-0.5zM121 624h0.5v.5h-0.5zM124.5 624h0.5v.5h-0.5zM73.5 624.5h0.5v.5h-0.5zM80 624.5h1v.5h-1zM83.5 624.5h0.5v.5h-0.5zM89 624.5h0.5v.5h-0.5zM90.5 624.5h0.5v.5h-0.5zM97 624.5h0.5v.5h-0.5zM98.5 624.5h0.5v.5h-0.5zM103 624.5h0.5v.5h-0.5zM123.5 624.5h0.5v.5h-0.5zM125.5 624.5h0.5v.5h-0.5zM127 624.5h0.5v.5h-0.5zM130.5 624.5h0.5v.5h-0.5zM74.5 625h1v.5h-1zM78 625h0.5v.5h-0.5zM84 625h0.5v.5h-0.5zM85.5 625h0.5v.5h-0.5zM95 625h1v.5h-1zM103 625h0.5v.5h-0.5zM108.5 625h0.5v.5h-0.5zM109.5 625h0.5v.5h-0.5zM110.5 625h0.5v.5h-0.5zM113 625h0.5v.5h-0.5zM116 625h0.5v.5h-0.5zM119 625h0.5v.5h-0.5zM120 625h0.5v.5h-0.5zM121.5 625h0.5v.5h-0.5zM125 625h0.5v.5h-0.5zM126.5 625h1v.5h-1zM131 625h0.5v.5h-0.5zM132 625h0.5v.5h-0.5zM68.5 625.5h0.5v.5h-0.5zM69.5 625.5h0.5v.5h-0.5zM75.5 625.5h0.5v.5h-0.5zM77.5 625.5h0.5v.5h-0.5zM85.5 625.5h0.5v.5h-0.5zM87 625.5h0.5v.5h-0.5zM89 625.5h0.5v.5h-0.5zM91 625.5h1v.5h-1zM96 625.5h0.5v.5h-0.5zM106 625.5h0.5v.5h-0.5zM111 625.5h0.5v.5h-0.5zM112 625.5h0.5v.5h-0.5zM114.5 625.5h0.5v.5h-0.5zM118.5 625.5h0.5v.5h-0.5zM123.5 625.5h0.5v.5h-0.5zM126.5 625.5h0.5v.5h-0.5zM128 625.5h0.5v.5h-0.5zM131 625.5h0.5v.5h-0.5zM136 625.5h0.5v.5h-0.5zM68 626h0.5v.5h-0.5zM72.5 626h0.5v.5h-0.5zM78 626h0.5v.5h-0.5zM79 626h0.5v.5h-0.5zM80.5 626h0.5v.5h-0.5zM90.5 626h1v.5h-1zM94 626h0.5v.5h-0.5zM95.5 626h0.5v.5h-0.5zM98 626h0.5v.5h-0.5zM99 626h0.5v.5h-0.5zM103.5 626h1v.5h-1zM110.5 626h1v.5h-1zM112 626h0.5v.5h-0.5zM113.5 626h0.5v.5h-0.5zM115 626h0.5v.5h-0.5zM119.5 626h0.5v.5h-0.5zM122 626h0.5v.5h-0.5zM123.5 626h1.5v.5h-1.5zM125.5 626h0.5v.5h-0.5zM126.5 626h0.5v.5h-0.5zM128.5 626h0.5v.5h-0.5zM129.5 626h0.5v.5h-0.5zM69.5 626.5h0.5v.5h-0.5zM78 626.5h0.5v.5h-0.5zM79 626.5h0.5v.5h-0.5zM80 626.5h0.5v.5h-0.5zM85.5 626.5h1v.5h-1zM90.5 626.5h0.5v.5h-0.5zM92.5 626.5h0.5v.5h-0.5zM95 626.5h0.5v.5h-0.5zM98.5 626.5h0.5v.5h-0.5zM104 626.5h1v.5h-1zM106.5 626.5h0.5v.5h-0.5zM108 626.5h0.5v.5h-0.5zM109.5 626.5h1v.5h-1zM115.5 626.5h1v.5h-1zM117 626.5h1v.5h-1zM120.5 626.5h0.5v.5h-0.5zM122 626.5h0.5v.5h-0.5zM123 626.5h0.5v.5h-0.5zM124.5 626.5h1.5v.5h-1.5zM130 626.5h0.5v.5h-0.5zM131.5 626.5h0.5v.5h-0.5zM132.5 626.5h0.5v.5h-0.5zM67 627h0.5v.5h-0.5zM68 627h0.5v.5h-0.5zM70.5 627h0.5v.5h-0.5zM72.5 627h2v.5h-2zM76 627h0.5v.5h-0.5zM80 627h0.5v.5h-0.5zM83 627h0.5v.5h-0.5zM85 627h0.5v.5h-0.5zM86 627h1v.5h-1zM88 627h0.5v.5h-0.5zM90.5 627h0.5v.5h-0.5zM95.5 627h0.5v.5h-0.5zM98.5 627h0.5v.5h-0.5zM100 627h0.5v.5h-0.5zM101.5 627h0.5v.5h-0.5zM102.5 627h0.5v.5h-0.5zM104.5 627h1v.5h-1zM106.5 627h1v.5h-1zM109 627h1v.5h-1zM110.5 627h0.5v.5h-0.5zM112.5 627h0.5v.5h-0.5zM113.5 627h0.5v.5h-0.5zM114.5 627h2v.5h-2zM118.5 627h0.5v.5h-0.5zM120 627h1v.5h-1zM123 627h1v.5h-1zM125 627h1v.5h-1zM127 627h0.5v.5h-0.5zM129.5 627h0.5v.5h-0.5zM131.5 627h0.5v.5h-0.5zM70 627.5h0.5v.5h-0.5zM71 627.5h0.5v.5h-0.5zM73 627.5h0.5v.5h-0.5zM74 627.5h0.5v.5h-0.5zM78.5 627.5h1v.5h-1zM83.5 627.5h1v.5h-1zM89 627.5h0.5v.5h-0.5zM90.5 627.5h0.5v.5h-0.5zM93 627.5h0.5v.5h-0.5zM95.5 627.5h0.5v.5h-0.5zM97 627.5h0.5v.5h-0.5zM104 627.5h0.5v.5h-0.5zM108 627.5h0.5v.5h-0.5zM110 627.5h0.5v.5h-0.5zM114 627.5h0.5v.5h-0.5zM115.5 627.5h0.5v.5h-0.5zM116.5 627.5h0.5v.5h-0.5zM117.5 627.5h0.5v.5h-0.5zM118.5 627.5h2v.5h-2zM121.5 627.5h0.5v.5h-0.5zM122.5 627.5h0.5v.5h-0.5zM128.5 627.5h0.5v.5h-0.5zM130.5 627.5h0.5v.5h-0.5zM69 628h0.5v.5h-0.5zM74 628h0.5v.5h-0.5zM75.5 628h0.5v.5h-0.5zM76.5 628h1v.5h-1zM78.5 628h0.5v.5h-0.5zM80 628h0.5v.5h-0.5zM85 628h1v.5h-1zM86.5 628h0.5v.5h-0.5zM88.5 628h1v.5h-1zM93.5 628h0.5v.5h-0.5zM94.5 628h1v.5h-1zM96.5 628h0.5v.5h-0.5zM98 628h0.5v.5h-0.5zM100 628h0.5v.5h-0.5zM102.5 628h1v.5h-1zM104 628h0.5v.5h-0.5zM106 628h0.5v.5h-0.5zM107.5 628h1.5v.5h-1.5zM110.5 628h0.5v.5h-0.5zM112.5 628h2.5v.5h-2.5zM115.5 628h1v.5h-1zM119 628h0.5v.5h-0.5zM120 628h1v.5h-1zM122 628h0.5v.5h-0.5zM123 628h0.5v.5h-0.5zM126.5 628h0.5v.5h-0.5zM133 628h0.5v.5h-0.5zM73 628.5h0.5v.5h-0.5zM75 628.5h0.5v.5h-0.5zM77 628.5h0.5v.5h-0.5zM79.5 628.5h0.5v.5h-0.5zM82 628.5h0.5v.5h-0.5zM83 628.5h1.5v.5h-1.5zM88.5 628.5h0.5v.5h-0.5zM89.5 628.5h0.5v.5h-0.5zM90.5 628.5h0.5v.5h-0.5zM91.5 628.5h1v.5h-1zM94 628.5h0.5v.5h-0.5zM95 628.5h0.5v.5h-0.5zM96 628.5h0.5v.5h-0.5zM98 628.5h0.5v.5h-0.5zM99 628.5h0.5v.5h-0.5zM101.5 628.5h0.5v.5h-0.5zM102.5 628.5h1v.5h-1zM104.5 628.5h1v.5h-1zM106.5 628.5h1v.5h-1zM108 628.5h1.5v.5h-1.5zM110 628.5h1v.5h-1zM112 628.5h0.5v.5h-0.5zM113.5 628.5h0.5v.5h-0.5zM114.5 628.5h0.5v.5h-0.5zM116 628.5h1.5v.5h-1.5zM118 628.5h1.5v.5h-1.5zM120.5 628.5h2v.5h-2zM123 628.5h0.5v.5h-0.5zM124 628.5h1.5v.5h-1.5zM127 628.5h1v.5h-1zM128.5 628.5h0.5v.5h-0.5zM130 628.5h0.5v.5h-0.5zM132.5 628.5h0.5v.5h-0.5zM69.5 629h0.5v.5h-0.5zM70.5 629h1v.5h-1zM75 629h1v.5h-1zM76.5 629h0.5v.5h-0.5zM78 629h0.5v.5h-0.5zM83 629h0.5v.5h-0.5zM85.5 629h1v.5h-1zM88 629h0.5v.5h-0.5zM89.5 629h0.5v.5h-0.5zM91 629h0.5v.5h-0.5zM92 629h0.5v.5h-0.5zM93 629h0.5v.5h-0.5zM94 629h0.5v.5h-0.5zM97.5 629h0.5v.5h-0.5zM104.5 629h1v.5h-1zM107.5 629h1v.5h-1zM110.5 629h0.5v.5h-0.5zM111.5 629h1v.5h-1zM114.5 629h6.5v.5h-6.5zM122 629h1v.5h-1zM124 629h3.5v.5h-3.5zM128 629h1v.5h-1zM130 629h0.5v.5h-0.5zM132 629h1v.5h-1zM66.5 629.5h0.5v.5h-0.5zM67.5 629.5h0.5v.5h-0.5zM69.5 629.5h1v.5h-1zM71 629.5h0.5v.5h-0.5zM73 629.5h1v.5h-1zM76 629.5h0.5v.5h-0.5zM77 629.5h0.5v.5h-0.5zM80 629.5h0.5v.5h-0.5zM83.5 629.5h0.5v.5h-0.5zM88 629.5h0.5v.5h-0.5zM89 629.5h0.5v.5h-0.5zM90.5 629.5h1v.5h-1zM92.5 629.5h0.5v.5h-0.5zM93.5 629.5h0.5v.5h-0.5zM95.5 629.5h0.5v.5h-0.5zM98 629.5h0.5v.5h-0.5zM102.5 629.5h1.5v.5h-1.5zM105 629.5h0.5v.5h-0.5zM107 629.5h0.5v.5h-0.5zM109 629.5h1v.5h-1zM111 629.5h0.5v.5h-0.5zM112 629.5h3.5v.5h-3.5zM116.5 629.5h3v.5h-3zM120 629.5h0.5v.5h-0.5zM121 629.5h2.5v.5h-2.5zM125 629.5h1v.5h-1zM127 629.5h2v.5h-2zM131 629.5h1v.5h-1zM70 630h1v.5h-1zM72.5 630h0.5v.5h-0.5zM73.5 630h0.5v.5h-0.5zM75.5 630h0.5v.5h-0.5zM77 630h0.5v.5h-0.5zM79.5 630h0.5v.5h-0.5zM83.5 630h0.5v.5h-0.5zM85 630h0.5v.5h-0.5zM87.5 630h0.5v.5h-0.5zM90 630h1v.5h-1zM96 630h1v.5h-1zM98 630h1v.5h-1zM100 630h0.5v.5h-0.5zM101 630h1v.5h-1zM102.5 630h0.5v.5h-0.5zM103.5 630h0.5v.5h-0.5zM106 630h0.5v.5h-0.5zM107.5 630h0.5v.5h-0.5zM109.5 630h1v.5h-1zM111.5 630h1.5v.5h-1.5zM113.5 630h2v.5h-2zM116 630h1v.5h-1zM117.5 630h0.5v.5h-0.5zM118.5 630h4v.5h-4zM123 630h1v.5h-1zM124.5 630h0.5v.5h-0.5zM125.5 630h0.5v.5h-0.5zM126.5 630h0.5v.5h-0.5zM127.5 630h1.5v.5h-1.5zM129.5 630h2v.5h-2zM133 630h1v.5h-1zM68.5 630.5h0.5v.5h-0.5zM74.5 630.5h0.5v.5h-0.5zM79.5 630.5h0.5v.5h-0.5zM81 630.5h1v.5h-1zM83 630.5h0.5v.5h-0.5zM84.5 630.5h1v.5h-1zM86 630.5h0.5v.5h-0.5zM89 630.5h0.5v.5h-0.5zM91 630.5h1v.5h-1zM93 630.5h0.5v.5h-0.5zM94 630.5h0.5v.5h-0.5zM95.5 630.5h0.5v.5h-0.5zM97 630.5h0.5v.5h-0.5zM98 630.5h0.5v.5h-0.5zM100 630.5h0.5v.5h-0.5zM101 630.5h0.5v.5h-0.5zM103.5 630.5h0.5v.5h-0.5zM105.5 630.5h1.5v.5h-1.5zM108 630.5h0.5v.5h-0.5zM109 630.5h1v.5h-1zM110.5 630.5h10v.5h-10zM121 630.5h2v.5h-2zM123.5 630.5h3v.5h-3zM127.5 630.5h0.5v.5h-0.5zM129 630.5h2v.5h-2zM131.5 630.5h1v.5h-1zM133 630.5h1v.5h-1zM66.5 631h0.5v.5h-0.5zM67.5 631h0.5v.5h-0.5zM70 631h0.5v.5h-0.5zM71.5 631h1v.5h-1zM73 631h0.5v.5h-0.5zM74 631h0.5v.5h-0.5zM76 631h0.5v.5h-0.5zM78 631h1.5v.5h-1.5zM81 631h1v.5h-1zM82.5 631h0.5v.5h-0.5zM85 631h1v.5h-1zM91 631h0.5v.5h-0.5zM92 631h1.5v.5h-1.5zM95 631h0.5v.5h-0.5zM97 631h1.5v.5h-1.5zM101 631h0.5v.5h-0.5zM103.5 631h1.5v.5h-1.5zM105.5 631h1.5v.5h-1.5zM108.5 631h1v.5h-1zM110 631h3.5v.5h-3.5zM114 631h3v.5h-3zM117.5 631h1.5v.5h-1.5zM119.5 631h1.5v.5h-1.5zM122 631h3v.5h-3zM125.5 631h0.5v.5h-0.5zM126.5 631h0.5v.5h-0.5zM127.5 631h0.5v.5h-0.5zM130 631h0.5v.5h-0.5zM131 631h0.5v.5h-0.5zM132 631h1v.5h-1zM133.5 631h0.5v.5h-0.5zM66.5 631.5h0.5v.5h-0.5zM72 631.5h0.5v.5h-0.5zM73 631.5h0.5v.5h-0.5zM75.5 631.5h1v.5h-1zM77 631.5h1.5v.5h-1.5zM80 631.5h1v.5h-1zM82 631.5h0.5v.5h-0.5zM84.5 631.5h0.5v.5h-0.5zM85.5 631.5h0.5v.5h-0.5zM88.5 631.5h0.5v.5h-0.5zM90 631.5h0.5v.5h-0.5zM91 631.5h0.5v.5h-0.5zM92 631.5h1v.5h-1zM95 631.5h0.5v.5h-0.5zM96.5 631.5h2v.5h-2zM101 631.5h2.5v.5h-2.5zM104 631.5h1v.5h-1zM106 631.5h0.5v.5h-0.5zM107 631.5h1.5v.5h-1.5zM109 631.5h2v.5h-2zM112.5 631.5h1.5v.5h-1.5zM114.5 631.5h9v.5h-9zM124 631.5h1v.5h-1zM126 631.5h1v.5h-1zM129.5 631.5h0.5v.5h-0.5zM131 631.5h0.5v.5h-0.5zM133.5 631.5h0.5v.5h-0.5zM66.5 632h1v.5h-1zM69.5 632h0.5v.5h-0.5zM70.5 632h1v.5h-1zM72.5 632h1v.5h-1zM75.5 632h0.5v.5h-0.5zM77.5 632h0.5v.5h-0.5zM79.5 632h0.5v.5h-0.5zM81.5 632h0.5v.5h-0.5zM82.5 632h1v.5h-1zM84.5 632h0.5v.5h-0.5zM85.5 632h0.5v.5h-0.5zM86.5 632h0.5v.5h-0.5zM88 632h1v.5h-1zM90 632h0.5v.5h-0.5zM91 632h0.5v.5h-0.5zM94 632h0.5v.5h-0.5zM95.5 632h0.5v.5h-0.5zM96.5 632h0.5v.5h-0.5zM98.5 632h2v.5h-2zM102 632h0.5v.5h-0.5zM103.5 632h3v.5h-3zM107.5 632h0.5v.5h-0.5zM108.5 632h0.5v.5h-0.5zM109.5 632h2.5v.5h-2.5zM112.5 632h10.5v.5h-10.5zM123.5 632h3v.5h-3zM127 632h1.5v.5h-1.5zM130.5 632h4v.5h-4zM137.5 632h0.5v.5h-0.5zM66.5 632.5h0.5v.5h-0.5zM67.5 632.5h0.5v.5h-0.5zM68.5 632.5h0.5v.5h-0.5zM72.5 632.5h1v.5h-1zM74.5 632.5h0.5v.5h-0.5zM75.5 632.5h0.5v.5h-0.5zM79 632.5h0.5v.5h-0.5zM85 632.5h0.5v.5h-0.5zM87.5 632.5h0.5v.5h-0.5zM89.5 632.5h0.5v.5h-0.5zM91 632.5h0.5v.5h-0.5zM92 632.5h0.5v.5h-0.5zM93 632.5h1.5v.5h-1.5zM96.5 632.5h1.5v.5h-1.5zM99.5 632.5h1.5v.5h-1.5zM101.5 632.5h1v.5h-1zM105.5 632.5h0.5v.5h-0.5zM106.5 632.5h1v.5h-1zM108 632.5h0.5v.5h-0.5zM110.5 632.5h11.5v.5h-11.5zM122.5 632.5h3.5v.5h-3.5zM126.5 632.5h2.5v.5h-2.5zM129.5 632.5h0.5v.5h-0.5zM130.5 632.5h2v.5h-2zM133 632.5h0.5v.5h-0.5zM134 632.5h0.5v.5h-0.5zM66.5 633h1v.5h-1zM71 633h0.5v.5h-0.5zM72.5 633h0.5v.5h-0.5zM73.5 633h1v.5h-1zM77.5 633h1v.5h-1zM79.5 633h0.5v.5h-0.5zM83 633h0.5v.5h-0.5zM85 633h0.5v.5h-0.5zM88 633h0.5v.5h-0.5zM90 633h0.5v.5h-0.5zM92.5 633h1v.5h-1zM94 633h1v.5h-1zM96 633h1v.5h-1zM97.5 633h0.5v.5h-0.5zM98.5 633h0.5v.5h-0.5zM99.5 633h1v.5h-1zM102 633h0.5v.5h-0.5zM104.5 633h0.5v.5h-0.5zM105.5 633h0.5v.5h-0.5zM107 633h1v.5h-1zM109 633h1.5v.5h-1.5zM111 633h11.5v.5h-11.5zM123 633h2v.5h-2zM125.5 633h1v.5h-1zM127.5 633h0.5v.5h-0.5zM129.5 633h0.5v.5h-0.5zM130.5 633h1.5v.5h-1.5zM132.5 633h2v.5h-2zM71.5 633.5h0.5v.5h-0.5zM74 633.5h0.5v.5h-0.5zM77 633.5h1v.5h-1zM80.5 633.5h1v.5h-1zM85.5 633.5h0.5v.5h-0.5zM86.5 633.5h0.5v.5h-0.5zM88 633.5h0.5v.5h-0.5zM90.5 633.5h1v.5h-1zM92.5 633.5h0.5v.5h-0.5zM93.5 633.5h0.5v.5h-0.5zM99 633.5h1v.5h-1zM101.5 633.5h0.5v.5h-0.5zM103.5 633.5h1v.5h-1zM106 633.5h0.5v.5h-0.5zM107 633.5h1v.5h-1zM109 633.5h0.5v.5h-0.5zM110 633.5h11.5v.5h-11.5zM122 633.5h1v.5h-1zM124 633.5h3.5v.5h-3.5zM128 633.5h1.5v.5h-1.5zM130 633.5h0.5v.5h-0.5zM131 633.5h0.5v.5h-0.5zM132 633.5h0.5v.5h-0.5zM67 634h0.5v.5h-0.5zM68 634h0.5v.5h-0.5zM72.5 634h0.5v.5h-0.5zM73.5 634h0.5v.5h-0.5zM78.5 634h0.5v.5h-0.5zM81 634h0.5v.5h-0.5zM82 634h0.5v.5h-0.5zM84 634h0.5v.5h-0.5zM85 634h0.5v.5h-0.5zM87 634h1.5v.5h-1.5zM89 634h1v.5h-1zM90.5 634h1.5v.5h-1.5zM95.5 634h0.5v.5h-0.5zM97 634h0.5v.5h-0.5zM101.5 634h1v.5h-1zM103 634h0.5v.5h-0.5zM104 634h0.5v.5h-0.5zM105 634h3v.5h-3zM108.5 634h0.5v.5h-0.5zM109.5 634h1v.5h-1zM111 634h11v.5h-11zM122.5 634h0.5v.5h-0.5zM123.5 634h1v.5h-1zM125.5 634h1v.5h-1zM127.5 634h1v.5h-1zM129 634h1v.5h-1zM132 634h1v.5h-1zM134 634h0.5v.5h-0.5zM66.5 634.5h0.5v.5h-0.5zM78 634.5h0.5v.5h-0.5zM79.5 634.5h0.5v.5h-0.5zM82 634.5h0.5v.5h-0.5zM83.5 634.5h0.5v.5h-0.5zM87.5 634.5h0.5v.5h-0.5zM88.5 634.5h0.5v.5h-0.5zM89.5 634.5h0.5v.5h-0.5zM91 634.5h0.5v.5h-0.5zM93.5 634.5h0.5v.5h-0.5zM95.5 634.5h0.5v.5h-0.5zM96.5 634.5h1v.5h-1zM100.5 634.5h0.5v.5h-0.5zM101.5 634.5h0.5v.5h-0.5zM102.5 634.5h0.5v.5h-0.5zM103.5 634.5h0.5v.5h-0.5zM104.5 634.5h1v.5h-1zM107 634.5h0.5v.5h-0.5zM108 634.5h2v.5h-2zM110.5 634.5h0.5v.5h-0.5zM111.5 634.5h0.5v.5h-0.5zM113 634.5h12v.5h-12zM125.5 634.5h0.5v.5h-0.5zM127 634.5h1.5v.5h-1.5zM129 634.5h2.5v.5h-2.5zM132 634.5h0.5v.5h-0.5zM133 634.5h1v.5h-1zM67.5 635h0.5v.5h-0.5zM81 635h0.5v.5h-0.5zM82 635h0.5v.5h-0.5zM84.5 635h1v.5h-1zM86 635h1v.5h-1zM89.5 635h0.5v.5h-0.5zM92.5 635h0.5v.5h-0.5zM94 635h0.5v.5h-0.5zM95.5 635h0.5v.5h-0.5zM97.5 635h1v.5h-1zM99.5 635h0.5v.5h-0.5zM102 635h0.5v.5h-0.5zM103 635h1v.5h-1zM105 635h1v.5h-1zM107 635h2v.5h-2zM110 635h1.5v.5h-1.5zM112.5 635h11v.5h-11zM124 635h2v.5h-2zM126.5 635h0.5v.5h-0.5zM128 635h0.5v.5h-0.5zM131 635h0.5v.5h-0.5zM132 635h0.5v.5h-0.5zM133.5 635h0.5v.5h-0.5zM71 635.5h0.5v.5h-0.5zM78.5 635.5h0.5v.5h-0.5zM80.5 635.5h0.5v.5h-0.5zM82.5 635.5h0.5v.5h-0.5zM86 635.5h1v.5h-1zM88.5 635.5h0.5v.5h-0.5zM92 635.5h1v.5h-1zM100.5 635.5h1.5v.5h-1.5zM102.5 635.5h0.5v.5h-0.5zM104 635.5h1v.5h-1zM105.5 635.5h0.5v.5h-0.5zM108.5 635.5h0.5v.5h-0.5zM109.5 635.5h0.5v.5h-0.5zM111 635.5h0.5v.5h-0.5zM112 635.5h12.5v.5h-12.5zM125 635.5h0.5v.5h-0.5zM126.5 635.5h0.5v.5h-0.5zM131 635.5h0.5v.5h-0.5zM132.5 635.5h0.5v.5h-0.5zM67.5 636h0.5v.5h-0.5zM70 636h0.5v.5h-0.5zM73.5 636h0.5v.5h-0.5zM80.5 636h0.5v.5h-0.5zM86.5 636h0.5v.5h-0.5zM87.5 636h0.5v.5h-0.5zM90 636h0.5v.5h-0.5zM91.5 636h0.5v.5h-0.5zM96 636h0.5v.5h-0.5zM97 636h1v.5h-1zM98.5 636h0.5v.5h-0.5zM99.5 636h0.5v.5h-0.5zM102.5 636h1v.5h-1zM104 636h0.5v.5h-0.5zM107.5 636h1v.5h-1zM109.5 636h0.5v.5h-0.5zM110.5 636h0.5v.5h-0.5zM112.5 636h9v.5h-9zM124.5 636h2.5v.5h-2.5zM129 636h0.5v.5h-0.5zM131 636h0.5v.5h-0.5zM132 636h0.5v.5h-0.5zM68 636.5h0.5v.5h-0.5zM72.5 636.5h0.5v.5h-0.5zM73.5 636.5h0.5v.5h-0.5zM78.5 636.5h0.5v.5h-0.5zM85 636.5h0.5v.5h-0.5zM87 636.5h0.5v.5h-0.5zM92 636.5h0.5v.5h-0.5zM95 636.5h0.5v.5h-0.5zM99 636.5h0.5v.5h-0.5zM101 636.5h0.5v.5h-0.5zM103 636.5h0.5v.5h-0.5zM105.5 636.5h1v.5h-1zM107 636.5h0.5v.5h-0.5zM110.5 636.5h1.5v.5h-1.5zM113.5 636.5h0.5v.5h-0.5zM114.5 636.5h1.5v.5h-1.5zM116.5 636.5h3v.5h-3zM120 636.5h1v.5h-1zM121.5 636.5h1v.5h-1zM124 636.5h1.5v.5h-1.5zM126 636.5h0.5v.5h-0.5zM128 636.5h0.5v.5h-0.5zM129 636.5h1.5v.5h-1.5zM131 636.5h1v.5h-1zM132.5 636.5h0.5v.5h-0.5zM67.5 637h0.5v.5h-0.5zM71.5 637h0.5v.5h-0.5zM74.5 637h0.5v.5h-0.5zM75.5 637h0.5v.5h-0.5zM77 637h0.5v.5h-0.5zM78 637h0.5v.5h-0.5zM79.5 637h0.5v.5h-0.5zM88.5 637h1v.5h-1zM90 637h0.5v.5h-0.5zM91.5 637h0.5v.5h-0.5zM95 637h0.5v.5h-0.5zM97 637h0.5v.5h-0.5zM98 637h0.5v.5h-0.5zM101 637h0.5v.5h-0.5zM103.5 637h0.5v.5h-0.5zM107 637h0.5v.5h-0.5zM108.5 637h0.5v.5h-0.5zM110.5 637h0.5v.5h-0.5zM112 637h0.5v.5h-0.5zM113 637h3.5v.5h-3.5zM117 637h0.5v.5h-0.5zM118 637h1v.5h-1zM119.5 637h1.5v.5h-1.5zM122 637h1.5v.5h-1.5zM125 637h0.5v.5h-0.5zM126 637h1v.5h-1zM127.5 637h0.5v.5h-0.5zM128.5 637h1v.5h-1zM133 637h0.5v.5h-0.5zM70.5 637.5h0.5v.5h-0.5zM76 637.5h0.5v.5h-0.5zM78.5 637.5h0.5v.5h-0.5zM79.5 637.5h0.5v.5h-0.5zM80.5 637.5h0.5v.5h-0.5zM81.5 637.5h0.5v.5h-0.5zM82.5 637.5h0.5v.5h-0.5zM86 637.5h0.5v.5h-0.5zM88 637.5h0.5v.5h-0.5zM91 637.5h1v.5h-1zM96 637.5h1v.5h-1zM104 637.5h0.5v.5h-0.5zM105 637.5h0.5v.5h-0.5zM109 637.5h1v.5h-1zM111 637.5h0.5v.5h-0.5zM112 637.5h0.5v.5h-0.5zM113.5 637.5h0.5v.5h-0.5zM116 637.5h1.5v.5h-1.5zM118 637.5h2.5v.5h-2.5zM121 637.5h2v.5h-2zM123.5 637.5h0.5v.5h-0.5zM124.5 637.5h0.5v.5h-0.5zM126 637.5h0.5v.5h-0.5zM127.5 637.5h0.5v.5h-0.5zM130 637.5h1v.5h-1zM133 637.5h0.5v.5h-0.5zM73.5 638h0.5v.5h-0.5zM74.5 638h0.5v.5h-0.5zM77.5 638h0.5v.5h-0.5zM81.5 638h0.5v.5h-0.5zM85.5 638h0.5v.5h-0.5zM88 638h0.5v.5h-0.5zM92.5 638h0.5v.5h-0.5zM97 638h1v.5h-1zM99 638h0.5v.5h-0.5zM100 638h0.5v.5h-0.5zM106 638h0.5v.5h-0.5zM108.5 638h2v.5h-2zM111 638h0.5v.5h-0.5zM112 638h0.5v.5h-0.5zM113 638h1v.5h-1zM114.5 638h0.5v.5h-0.5zM116 638h3v.5h-3zM119.5 638h2v.5h-2zM122 638h1.5v.5h-1.5zM125 638h0.5v.5h-0.5zM126 638h1.5v.5h-1.5zM129.5 638h0.5v.5h-0.5zM130.5 638h0.5v.5h-0.5zM133.5 638h0.5v.5h-0.5zM74.5 638.5h1v.5h-1zM78 638.5h1v.5h-1zM80.5 638.5h0.5v.5h-0.5zM85.5 638.5h0.5v.5h-0.5zM87 638.5h0.5v.5h-0.5zM89 638.5h0.5v.5h-0.5zM91.5 638.5h0.5v.5h-0.5zM95.5 638.5h0.5v.5h-0.5zM100.5 638.5h0.5v.5h-0.5zM103 638.5h1.5v.5h-1.5zM106.5 638.5h1v.5h-1zM109.5 638.5h0.5v.5h-0.5zM111.5 638.5h1.5v.5h-1.5zM113.5 638.5h1.5v.5h-1.5zM115.5 638.5h0.5v.5h-0.5zM117 638.5h0.5v.5h-0.5zM118 638.5h0.5v.5h-0.5zM119 638.5h2.5v.5h-2.5zM122.5 638.5h1v.5h-1zM124 638.5h0.5v.5h-0.5zM125 638.5h1v.5h-1zM126.5 638.5h0.5v.5h-0.5zM128 638.5h0.5v.5h-0.5zM130 638.5h0.5v.5h-0.5zM132 638.5h0.5v.5h-0.5zM133.5 638.5h0.5v.5h-0.5zM74.5 639h0.5v.5h-0.5zM86 639h0.5v.5h-0.5zM87 639h0.5v.5h-0.5zM92.5 639h0.5v.5h-0.5zM93.5 639h0.5v.5h-0.5zM105 639h0.5v.5h-0.5zM107 639h0.5v.5h-0.5zM108.5 639h1v.5h-1zM111 639h0.5v.5h-0.5zM113 639h1v.5h-1zM115 639h4.5v.5h-4.5zM120 639h0.5v.5h-0.5zM122 639h0.5v.5h-0.5zM124 639h1v.5h-1zM125.5 639h0.5v.5h-0.5zM126.5 639h0.5v.5h-0.5zM69 639.5h0.5v.5h-0.5zM74 639.5h0.5v.5h-0.5zM77.5 639.5h0.5v.5h-0.5zM87 639.5h0.5v.5h-0.5zM96 639.5h0.5v.5h-0.5zM100 639.5h0.5v.5h-0.5zM101 639.5h0.5v.5h-0.5zM102.5 639.5h0.5v.5h-0.5zM104.5 639.5h0.5v.5h-0.5zM110.5 639.5h0.5v.5h-0.5zM112.5 639.5h0.5v.5h-0.5zM114 639.5h1.5v.5h-1.5zM117 639.5h3.5v.5h-3.5zM121.5 639.5h0.5v.5h-0.5zM122.5 639.5h1v.5h-1zM128.5 639.5h1v.5h-1zM81.5 640h0.5v.5h-0.5zM83.5 640h0.5v.5h-0.5zM90.5 640h0.5v.5h-0.5zM95 640h0.5v.5h-0.5zM97 640h0.5v.5h-0.5zM98 640h0.5v.5h-0.5zM100 640h0.5v.5h-0.5zM102 640h0.5v.5h-0.5zM103 640h0.5v.5h-0.5zM105.5 640h0.5v.5h-0.5zM109.5 640h0.5v.5h-0.5zM111 640h1v.5h-1zM113 640h0.5v.5h-0.5zM114 640h0.5v.5h-0.5zM115 640h0.5v.5h-0.5zM117 640h1.5v.5h-1.5zM119 640h0.5v.5h-0.5zM120 640h2.5v.5h-2.5zM123.5 640h1v.5h-1zM125.5 640h0.5v.5h-0.5zM132 640h0.5v.5h-0.5zM135 640h0.5v.5h-0.5zM71.5 640.5h0.5v.5h-0.5zM79.5 640.5h0.5v.5h-0.5zM81.5 640.5h0.5v.5h-0.5zM84.5 640.5h0.5v.5h-0.5zM92 640.5h1.5v.5h-1.5zM102 640.5h0.5v.5h-0.5zM113 640.5h1v.5h-1zM114.5 640.5h1v.5h-1zM116.5 640.5h0.5v.5h-0.5zM118 640.5h0.5v.5h-0.5zM119 640.5h0.5v.5h-0.5zM124.5 640.5h1v.5h-1zM129 640.5h0.5v.5h-0.5zM74 641h0.5v.5h-0.5zM82.5 641h0.5v.5h-0.5zM87.5 641h1v.5h-1zM89 641h0.5v.5h-0.5zM93.5 641h0.5v.5h-0.5zM95.5 641h0.5v.5h-0.5zM105 641h0.5v.5h-0.5zM107.5 641h1v.5h-1zM115 641h1v.5h-1zM116.5 641h0.5v.5h-0.5zM117.5 641h0.5v.5h-0.5zM123 641h2v.5h-2zM127 641h0.5v.5h-0.5zM132 641h0.5v.5h-0.5zM73 641.5h0.5v.5h-0.5zM74 641.5h0.5v.5h-0.5zM79 641.5h0.5v.5h-0.5zM80.5 641.5h0.5v.5h-0.5zM83 641.5h0.5v.5h-0.5zM84.5 641.5h0.5v.5h-0.5zM102 641.5h0.5v.5h-0.5zM105.5 641.5h0.5v.5h-0.5zM107.5 641.5h1v.5h-1zM109 641.5h1.5v.5h-1.5zM111.5 641.5h0.5v.5h-0.5zM115.5 641.5h0.5v.5h-0.5zM116.5 641.5h0.5v.5h-0.5zM119.5 641.5h2v.5h-2zM125 641.5h0.5v.5h-0.5zM131.5 641.5h0.5v.5h-0.5zM71 642h0.5v.5h-0.5zM73 642h0.5v.5h-0.5zM76 642h0.5v.5h-0.5zM81 642h0.5v.5h-0.5zM94 642h0.5v.5h-0.5zM99.5 642h0.5v.5h-0.5zM102 642h0.5v.5h-0.5zM106 642h0.5v.5h-0.5zM107.5 642h0.5v.5h-0.5zM109.5 642h1v.5h-1zM111.5 642h0.5v.5h-0.5zM114 642h0.5v.5h-0.5zM115 642h1v.5h-1zM119 642h0.5v.5h-0.5zM120 642h1v.5h-1zM122.5 642h0.5v.5h-0.5zM124.5 642h0.5v.5h-0.5zM127 642h0.5v.5h-0.5zM128 642h0.5v.5h-0.5zM129 642h0.5v.5h-0.5zM130 642h1v.5h-1zM83 642.5h1v.5h-1zM91.5 642.5h0.5v.5h-0.5zM102.5 642.5h1v.5h-1zM104 642.5h0.5v.5h-0.5zM105.5 642.5h0.5v.5h-0.5zM108.5 642.5h0.5v.5h-0.5zM112.5 642.5h1v.5h-1zM114 642.5h0.5v.5h-0.5zM115.5 642.5h0.5v.5h-0.5zM117 642.5h0.5v.5h-0.5zM119 642.5h1v.5h-1zM121 642.5h0.5v.5h-0.5zM123 642.5h1v.5h-1zM124.5 642.5h0.5v.5h-0.5zM128.5 642.5h1v.5h-1zM131 642.5h0.5v.5h-0.5zM132 642.5h1v.5h-1zM76 643h0.5v.5h-0.5zM82.5 643h0.5v.5h-0.5zM92.5 643h0.5v.5h-0.5zM93.5 643h0.5v.5h-0.5zM100 643h0.5v.5h-0.5zM106.5 643h0.5v.5h-0.5zM114.5 643h1v.5h-1zM117 643h1v.5h-1zM120 643h1v.5h-1zM121.5 643h0.5v.5h-0.5zM123 643h0.5v.5h-0.5zM126 643h0.5v.5h-0.5zM129 643h0.5v.5h-0.5zM75 643.5h0.5v.5h-0.5zM79 643.5h0.5v.5h-0.5zM85 643.5h0.5v.5h-0.5zM86 643.5h0.5v.5h-0.5zM90.5 643.5h0.5v.5h-0.5zM94.5 643.5h0.5v.5h-0.5zM99.5 643.5h0.5v.5h-0.5zM100.5 643.5h0.5v.5h-0.5zM103 643.5h0.5v.5h-0.5zM105.5 643.5h1v.5h-1zM110.5 643.5h0.5v.5h-0.5zM112.5 643.5h0.5v.5h-0.5zM113.5 643.5h1v.5h-1zM116 643.5h1v.5h-1zM118 643.5h0.5v.5h-0.5zM121 643.5h0.5v.5h-0.5zM122 643.5h0.5v.5h-0.5zM124.5 643.5h0.5v.5h-0.5zM125.5 643.5h0.5v.5h-0.5zM126.5 643.5h0.5v.5h-0.5zM75.5 644h0.5v.5h-0.5zM76.5 644h0.5v.5h-0.5zM83.5 644h1v.5h-1zM86.5 644h0.5v.5h-0.5zM106 644h1v.5h-1zM113 644h1.5v.5h-1.5zM116.5 644h0.5v.5h-0.5zM118.5 644h0.5v.5h-0.5zM119.5 644h0.5v.5h-0.5zM131 644h0.5v.5h-0.5zM77 644.5h1v.5h-1zM79 644.5h0.5v.5h-0.5zM86 644.5h0.5v.5h-0.5zM91.5 644.5h0.5v.5h-0.5zM94.5 644.5h0.5v.5h-0.5zM99 644.5h1v.5h-1zM109 644.5h1v.5h-1zM114 644.5h1v.5h-1zM116.5 644.5h0.5v.5h-0.5zM118 644.5h0.5v.5h-0.5zM119.5 644.5h0.5v.5h-0.5zM122 644.5h0.5v.5h-0.5zM125 644.5h0.5v.5h-0.5zM126 644.5h0.5v.5h-0.5zM130 644.5h0.5v.5h-0.5zM131.5 644.5h0.5v.5h-0.5zM79.5 645h0.5v.5h-0.5zM83.5 645h0.5v.5h-0.5zM99.5 645h0.5v.5h-0.5zM104.5 645h1.5v.5h-1.5zM107.5 645h2v.5h-2zM112 645h1v.5h-1zM114 645h0.5v.5h-0.5zM117.5 645h0.5v.5h-0.5zM118.5 645h0.5v.5h-0.5zM123 645h1v.5h-1zM128 645h0.5v.5h-0.5zM81 645.5h0.5v.5h-0.5zM83 645.5h0.5v.5h-0.5zM90.5 645.5h0.5v.5h-0.5zM95.5 645.5h0.5v.5h-0.5zM98 645.5h0.5v.5h-0.5zM110.5 645.5h0.5v.5h-0.5zM114 645.5h0.5v.5h-0.5zM115 645.5h0.5v.5h-0.5zM116.5 645.5h0.5v.5h-0.5zM118 645.5h0.5v.5h-0.5zM120 645.5h2v.5h-2zM123.5 645.5h0.5v.5h-0.5zM68.5 646h0.5v.5h-0.5zM95 646h0.5v.5h-0.5zM98.5 646h0.5v.5h-0.5zM101.5 646h0.5v.5h-0.5zM110 646h2v.5h-2zM117 646h0.5v.5h-0.5zM119 646h0.5v.5h-0.5zM120.5 646h0.5v.5h-0.5zM121.5 646h0.5v.5h-0.5zM123.5 646h1v.5h-1zM125.5 646h0.5v.5h-0.5zM127 646h0.5v.5h-0.5zM130.5 646h0.5v.5h-0.5zM77 646.5h0.5v.5h-0.5zM80.5 646.5h1v.5h-1zM85.5 646.5h0.5v.5h-0.5zM95.5 646.5h0.5v.5h-0.5zM109 646.5h0.5v.5h-0.5zM113.5 646.5h0.5v.5h-0.5zM114.5 646.5h0.5v.5h-0.5zM121.5 646.5h0.5v.5h-0.5zM123 646.5h0.5v.5h-0.5zM125.5 646.5h0.5v.5h-0.5zM127 646.5h1v.5h-1zM130 646.5h0.5v.5h-0.5zM135 646.5h0.5v.5h-0.5zM81 647h0.5v.5h-0.5zM84 647h0.5v.5h-0.5zM85 647h0.5v.5h-0.5zM86 647h0.5v.5h-0.5zM92 647h1v.5h-1zM95 647h0.5v.5h-0.5zM98 647h0.5v.5h-0.5zM102.5 647h0.5v.5h-0.5zM108 647h0.5v.5h-0.5zM110.5 647h0.5v.5h-0.5zM115 647h0.5v.5h-0.5zM119.5 647h0.5v.5h-0.5zM122.5 647h0.5v.5h-0.5zM125 647h0.5v.5h-0.5zM126 647h0.5v.5h-0.5zM127.5 647h0.5v.5h-0.5zM86 647.5h0.5v.5h-0.5zM93.5 647.5h0.5v.5h-0.5zM97 647.5h0.5v.5h-0.5zM98 647.5h1v.5h-1zM99.5 647.5h0.5v.5h-0.5zM104.5 647.5h0.5v.5h-0.5zM109.5 647.5h0.5v.5h-0.5zM114.5 647.5h0.5v.5h-0.5zM115.5 647.5h0.5v.5h-0.5zM117 647.5h0.5v.5h-0.5zM123.5 647.5h0.5v.5h-0.5zM88.5 648h0.5v.5h-0.5zM97.5 648h0.5v.5h-0.5zM103.5 648h1v.5h-1zM109.5 648h0.5v.5h-0.5zM112 648h0.5v.5h-0.5zM115.5 648h1v.5h-1zM119 648h0.5v.5h-0.5zM120.5 648h0.5v.5h-0.5zM123 648h0.5v.5h-0.5zM124.5 648h0.5v.5h-0.5zM130.5 648h0.5v.5h-0.5zM134 648h0.5v.5h-0.5zM137 648h0.5v.5h-0.5zM84.5 648.5h0.5v.5h-0.5zM92.5 648.5h0.5v.5h-0.5zM104.5 648.5h0.5v.5h-0.5zM105.5 648.5h0.5v.5h-0.5zM113.5 648.5h0.5v.5h-0.5zM121 648.5h0.5v.5h-0.5zM123.5 648.5h0.5v.5h-0.5zM125.5 648.5h0.5v.5h-0.5zM127.5 648.5h0.5v.5h-0.5zM144.5 648.5h0.5v.5h-0.5zM73.5 649h0.5v.5h-0.5zM86 649h0.5v.5h-0.5zM97.5 649h0.5v.5h-0.5zM112.5 649h0.5v.5h-0.5zM114 649h0.5v.5h-0.5zM118 649h1v.5h-1zM122 649h0.5v.5h-0.5zM126 649h0.5v.5h-0.5zM131.5 649h0.5v.5h-0.5zM88 649.5h0.5v.5h-0.5zM92 649.5h0.5v.5h-0.5zM98.5 649.5h0.5v.5h-0.5zM106.5 649.5h0.5v.5h-0.5zM111.5 649.5h1.5v.5h-1.5zM114.5 649.5h0.5v.5h-0.5zM116.5 649.5h0.5v.5h-0.5zM119.5 649.5h0.5v.5h-0.5zM134 649.5h0.5v.5h-0.5zM69.5 650h0.5v.5h-0.5zM88.5 650h0.5v.5h-0.5zM92 650h0.5v.5h-0.5zM97 650h0.5v.5h-0.5zM102.5 650h0.5v.5h-0.5zM111 650h0.5v.5h-0.5zM114.5 650h0.5v.5h-0.5zM116.5 650h0.5v.5h-0.5zM118.5 650h0.5v.5h-0.5zM120 650h0.5v.5h-0.5zM97.5 650.5h0.5v.5h-0.5zM100 650.5h0.5v.5h-0.5zM102 650.5h0.5v.5h-0.5zM114.5 650.5h0.5v.5h-0.5zM116.5 650.5h0.5v.5h-0.5zM117.5 650.5h0.5v.5h-0.5zM119.5 650.5h0.5v.5h-0.5zM124 650.5h0.5v.5h-0.5zM145.5 650.5h0.5v.5h-0.5zM77 651h0.5v.5h-0.5zM95.5 651h0.5v.5h-0.5zM98.5 651h1v.5h-1zM104 651h0.5v.5h-0.5zM112.5 651h0.5v.5h-0.5zM116 651h0.5v.5h-0.5zM117 651h1v.5h-1zM119.5 651h0.5v.5h-0.5zM137 651h0.5v.5h-0.5zM77 651.5h0.5v.5h-0.5zM96.5 651.5h0.5v.5h-0.5zM101.5 651.5h0.5v.5h-0.5zM109.5 651.5h0.5v.5h-0.5zM112 651.5h0.5v.5h-0.5zM116.5 651.5h0.5v.5h-0.5zM118 651.5h0.5v.5h-0.5zM126 651.5h0.5v.5h-0.5zM132 651.5h0.5v.5h-0.5zM88 652h0.5v.5h-0.5zM96.5 652h0.5v.5h-0.5zM98 652h0.5v.5h-0.5zM100 652h0.5v.5h-0.5zM101.5 652h0.5v.5h-0.5zM103.5 652h0.5v.5h-0.5zM104.5 652h1.5v.5h-1.5zM117 652h0.5v.5h-0.5zM119.5 652h0.5v.5h-0.5zM125.5 652h0.5v.5h-0.5zM72 652.5h0.5v.5h-0.5zM76 652.5h0.5v.5h-0.5zM80 652.5h0.5v.5h-0.5zM106.5 652.5h0.5v.5h-0.5zM117.5 652.5h0.5v.5h-0.5zM124 652.5h0.5v.5h-0.5zM126 652.5h0.5v.5h-0.5zM71.5 653h0.5v.5h-0.5zM75 653h0.5v.5h-0.5zM81 653h0.5v.5h-0.5zM86 653h0.5v.5h-0.5zM98 653h0.5v.5h-0.5zM107 653h0.5v.5h-0.5zM110.5 653h0.5v.5h-0.5zM131.5 653h0.5v.5h-0.5zM97.5 653.5h0.5v.5h-0.5zM137.5 653.5h0.5v.5h-0.5zM67 654h0.5v.5h-0.5zM79.5 654h0.5v.5h-0.5zM80.5 654h0.5v.5h-0.5zM95 654h0.5v.5h-0.5zM113.5 654h0.5v.5h-0.5zM123 654h0.5v.5h-0.5zM125.5 654h0.5v.5h-0.5zM84.5 654.5h0.5v.5h-0.5zM91 654.5h0.5v.5h-0.5zM96.5 654.5h0.5v.5h-0.5zM99 654.5h0.5v.5h-0.5zM114 654.5h0.5v.5h-0.5zM65.5 655h0.5v.5h-0.5zM70 655h0.5v.5h-0.5zM85.5 655h0.5v.5h-0.5zM89 655h0.5v.5h-0.5zM95.5 655h0.5v.5h-0.5zM104.5 655h0.5v.5h-0.5zM120 655h0.5v.5h-0.5zM123 655h0.5v.5h-0.5zM86.5 655.5h0.5v.5h-0.5zM91.5 655.5h0.5v.5h-0.5zM116 655.5h0.5v.5h-0.5zM118.5 655.5h0.5v.5h-0.5zM128 655.5h0.5v.5h-0.5zM129 655.5h0.5v.5h-0.5zM134.5 655.5h0.5v.5h-0.5zM67 656h1v.5h-1zM76.5 656h0.5v.5h-0.5zM86 656h0.5v.5h-0.5zM108.5 656h0.5v.5h-0.5zM77.5 656.5h0.5v.5h-0.5zM106.5 656.5h0.5v.5h-0.5zM110.5 656.5h0.5v.5h-0.5zM129 656.5h0.5v.5h-0.5zM133 656.5h1v.5h-1zM78.5 657h0.5v.5h-0.5zM110.5 657h0.5v.5h-0.5zM116 657h0.5v.5h-0.5zM128.5 657h0.5v.5h-0.5zM130.5 657h0.5v.5h-0.5zM144.5 657h0.5v.5h-0.5zM65.5 657.5h0.5v.5h-0.5zM67 657.5h0.5v.5h-0.5zM71 657.5h0.5v.5h-0.5zM76.5 657.5h0.5v.5h-0.5zM83.5 657.5h0.5v.5h-0.5zM88 657.5h1v.5h-1zM97.5 657.5h0.5v.5h-0.5zM100 657.5h0.5v.5h-0.5zM107.5 657.5h0.5v.5h-0.5zM111.5 657.5h1v.5h-1zM66.5 658h0.5v.5h-0.5zM74.5 658h0.5v.5h-0.5zM82.5 658h0.5v.5h-0.5zM96.5 658h1v.5h-1zM99 658h1.5v.5h-1.5zM109 658h0.5v.5h-0.5zM115.5 658h0.5v.5h-0.5zM130 658h0.5v.5h-0.5zM72.5 658.5h0.5v.5h-0.5zM82.5 658.5h0.5v.5h-0.5zM94.5 658.5h0.5v.5h-0.5zM106.5 658.5h0.5v.5h-0.5zM73.5 659h0.5v.5h-0.5zM76.5 659h0.5v.5h-0.5zM89 659h0.5v.5h-0.5zM92.5 659h0.5v.5h-0.5zM99 659h0.5v.5h-0.5zM103 659h0.5v.5h-0.5zM105.5 659h0.5v.5h-0.5zM122 659h0.5v.5h-0.5zM125 659h0.5v.5h-0.5zM82 659.5h0.5v.5h-0.5zM87 659.5h0.5v.5h-0.5zM90 659.5h0.5v.5h-0.5zM97 659.5h1v.5h-1zM116.5 659.5h0.5v.5h-0.5zM133 659.5h0.5v.5h-0.5zM86.5 660h0.5v.5h-0.5zM92.5 660h0.5v.5h-0.5zM113 660h0.5v.5h-0.5zM124.5 660h0.5v.5h-0.5zM128 660h0.5v.5h-0.5zM131 660h0.5v.5h-0.5zM141 660h0.5v.5h-0.5zM72 660.5h0.5v.5h-0.5zM73.5 660.5h0.5v.5h-0.5zM76 660.5h0.5v.5h-0.5zM96.5 660.5h0.5v.5h-0.5zM101 660.5h0.5v.5h-0.5zM112 660.5h0.5v.5h-0.5zM123 660.5h0.5v.5h-0.5zM124 660.5h0.5v.5h-0.5zM128 660.5h0.5v.5h-0.5zM66.5 661h0.5v.5h-0.5zM80.5 661h0.5v.5h-0.5zM88.5 661h0.5v.5h-0.5zM103.5 661h0.5v.5h-0.5zM111 661h0.5v.5h-0.5zM113 661h0.5v.5h-0.5zM116.5 661h0.5v.5h-0.5zM117.5 661h0.5v.5h-0.5zM118.5 661h0.5v.5h-0.5zM121.5 661h0.5v.5h-0.5zM133.5 661h0.5v.5h-0.5zM70.5 661.5h0.5v.5h-0.5zM75.5 661.5h0.5v.5h-0.5zM92.5 661.5h0.5v.5h-0.5zM110.5 661.5h0.5v.5h-0.5zM112.5 661.5h0.5v.5h-0.5zM117 661.5h0.5v.5h-0.5zM144 661.5h0.5v.5h-0.5zM85.5 662h0.5v.5h-0.5zM106 662h0.5v.5h-0.5zM109 662h0.5v.5h-0.5zM140 662h0.5v.5h-0.5zM74.5 662.5h0.5v.5h-0.5zM77 662.5h0.5v.5h-0.5zM84.5 662.5h0.5v.5h-0.5zM85.5 662.5h0.5v.5h-0.5zM86.5 662.5h0.5v.5h-0.5zM87.5 662.5h1v.5h-1zM95 662.5h1v.5h-1zM96.5 662.5h1v.5h-1zM99 662.5h0.5v.5h-0.5zM101 662.5h0.5v.5h-0.5zM103 662.5h1v.5h-1zM106 662.5h0.5v.5h-0.5zM108 662.5h0.5v.5h-0.5zM114.5 662.5h0.5v.5h-0.5zM117 662.5h0.5v.5h-0.5zM118 662.5h0.5v.5h-0.5zM121.5 662.5h0.5v.5h-0.5zM123 662.5h0.5v.5h-0.5zM124.5 662.5h1.5v.5h-1.5zM127.5 662.5h0.5v.5h-0.5zM129 662.5h0.5v.5h-0.5zM130 662.5h0.5v.5h-0.5zM142.5 662.5h0.5v.5h-0.5zM79.5 663h0.5v.5h-0.5zM81 663h1v.5h-1zM86 663h0.5v.5h-0.5zM87 663h0.5v.5h-0.5zM91.5 663h0.5v.5h-0.5zM93.5 663h0.5v.5h-0.5zM94.5 663h0.5v.5h-0.5zM96 663h0.5v.5h-0.5zM98 663h0.5v.5h-0.5zM100.5 663h0.5v.5h-0.5zM104.5 663h0.5v.5h-0.5zM106 663h0.5v.5h-0.5zM108.5 663h0.5v.5h-0.5zM111 663h0.5v.5h-0.5zM112 663h0.5v.5h-0.5zM113 663h0.5v.5h-0.5zM114.5 663h0.5v.5h-0.5zM115.5 663h0.5v.5h-0.5zM120 663h0.5v.5h-0.5zM121 663h0.5v.5h-0.5zM123.5 663h0.5v.5h-0.5zM126 663h1v.5h-1zM128 663h0.5v.5h-0.5zM129.5 663h0.5v.5h-0.5zM76 663.5h0.5v.5h-0.5zM79 663.5h0.5v.5h-0.5zM80 663.5h1v.5h-1zM81.5 663.5h0.5v.5h-0.5zM85.5 663.5h0.5v.5h-0.5zM88 663.5h0.5v.5h-0.5zM90 663.5h1v.5h-1zM94.5 663.5h0.5v.5h-0.5zM96.5 663.5h0.5v.5h-0.5zM98.5 663.5h0.5v.5h-0.5zM102.5 663.5h0.5v.5h-0.5zM106.5 663.5h0.5v.5h-0.5zM108 663.5h0.5v.5h-0.5zM109 663.5h0.5v.5h-0.5zM110 663.5h0.5v.5h-0.5zM111 663.5h0.5v.5h-0.5zM115 663.5h0.5v.5h-0.5zM119 663.5h0.5v.5h-0.5zM120 663.5h0.5v.5h-0.5zM121.5 663.5h0.5v.5h-0.5zM122.5 663.5h1.5v.5h-1.5zM125 663.5h0.5v.5h-0.5zM73.5 664h0.5v.5h-0.5zM74.5 664h0.5v.5h-0.5zM76.5 664h0.5v.5h-0.5zM78 664h1v.5h-1zM81.5 664h0.5v.5h-0.5zM86 664h0.5v.5h-0.5zM87 664h0.5v.5h-0.5zM90 664h0.5v.5h-0.5zM91 664h1v.5h-1zM98 664h1v.5h-1zM101 664h0.5v.5h-0.5zM102.5 664h0.5v.5h-0.5zM104.5 664h1v.5h-1zM111.5 664h0.5v.5h-0.5zM116.5 664h0.5v.5h-0.5zM118 664h0.5v.5h-0.5zM121 664h0.5v.5h-0.5zM122 664h0.5v.5h-0.5zM125 664h0.5v.5h-0.5zM126.5 664h0.5v.5h-0.5zM128.5 664h0.5v.5h-0.5zM130.5 664h0.5v.5h-0.5zM83.5 664.5h0.5v.5h-0.5zM85 664.5h0.5v.5h-0.5zM86.5 664.5h1v.5h-1zM88 664.5h0.5v.5h-0.5zM89 664.5h0.5v.5h-0.5zM95.5 664.5h0.5v.5h-0.5zM99 664.5h0.5v.5h-0.5zM101.5 664.5h0.5v.5h-0.5zM103.5 664.5h0.5v.5h-0.5zM105 664.5h0.5v.5h-0.5zM107.5 664.5h1v.5h-1zM110.5 664.5h1v.5h-1zM112 664.5h1.5v.5h-1.5zM115.5 664.5h0.5v.5h-0.5zM116.5 664.5h0.5v.5h-0.5zM117.5 664.5h0.5v.5h-0.5zM118.5 664.5h1v.5h-1zM121 664.5h0.5v.5h-0.5zM122.5 664.5h0.5v.5h-0.5zM123.5 664.5h0.5v.5h-0.5zM128.5 664.5h0.5v.5h-0.5zM131.5 664.5h0.5v.5h-0.5zM71 665h0.5v.5h-0.5zM72 665h1v.5h-1zM82.5 665h1v.5h-1zM85 665h1v.5h-1zM87 665h0.5v.5h-0.5zM88 665h0.5v.5h-0.5zM89.5 665h0.5v.5h-0.5zM92.5 665h0.5v.5h-0.5zM93.5 665h0.5v.5h-0.5zM95 665h1v.5h-1zM101.5 665h0.5v.5h-0.5zM102.5 665h0.5v.5h-0.5zM104.5 665h0.5v.5h-0.5zM105.5 665h0.5v.5h-0.5zM109 665h1v.5h-1zM110.5 665h1v.5h-1zM114 665h0.5v.5h-0.5zM119.5 665h1v.5h-1zM121 665h0.5v.5h-0.5zM122.5 665h1v.5h-1zM124.5 665h0.5v.5h-0.5zM125.5 665h1v.5h-1zM127 665h0.5v.5h-0.5zM130 665h0.5v.5h-0.5zM131.5 665h0.5v.5h-0.5zM70.5 665.5h0.5v.5h-0.5zM72 665.5h0.5v.5h-0.5zM73 665.5h0.5v.5h-0.5zM74 665.5h1v.5h-1zM78.5 665.5h0.5v.5h-0.5zM80 665.5h0.5v.5h-0.5zM85 665.5h1v.5h-1zM87 665.5h0.5v.5h-0.5zM90 665.5h0.5v.5h-0.5zM92 665.5h0.5v.5h-0.5zM95 665.5h0.5v.5h-0.5zM96 665.5h0.5v.5h-0.5zM98 665.5h0.5v.5h-0.5zM99 665.5h0.5v.5h-0.5zM101 665.5h1.5v.5h-1.5zM106.5 665.5h0.5v.5h-0.5zM108 665.5h0.5v.5h-0.5zM109 665.5h0.5v.5h-0.5zM110 665.5h1.5v.5h-1.5zM112.5 665.5h0.5v.5h-0.5zM114.5 665.5h2v.5h-2zM118.5 665.5h0.5v.5h-0.5zM121 665.5h0.5v.5h-0.5zM125.5 665.5h0.5v.5h-0.5zM126.5 665.5h0.5v.5h-0.5zM129.5 665.5h0.5v.5h-0.5zM131 665.5h0.5v.5h-0.5zM72.5 666h0.5v.5h-0.5zM74.5 666h0.5v.5h-0.5zM75.5 666h1v.5h-1zM78 666h2v.5h-2zM81 666h0.5v.5h-0.5zM82 666h1v.5h-1zM85 666h1v.5h-1zM86.5 666h0.5v.5h-0.5zM88 666h1v.5h-1zM93.5 666h0.5v.5h-0.5zM94.5 666h0.5v.5h-0.5zM95.5 666h0.5v.5h-0.5zM96.5 666h0.5v.5h-0.5zM97.5 666h1.5v.5h-1.5zM100 666h0.5v.5h-0.5zM104.5 666h0.5v.5h-0.5zM108 666h0.5v.5h-0.5zM110 666h0.5v.5h-0.5zM111 666h0.5v.5h-0.5zM112 666h0.5v.5h-0.5zM116.5 666h0.5v.5h-0.5zM117.5 666h0.5v.5h-0.5zM118.5 666h0.5v.5h-0.5zM120 666h0.5v.5h-0.5zM121.5 666h1v.5h-1zM123.5 666h1.5v.5h-1.5zM126 666h0.5v.5h-0.5zM127 666h1v.5h-1zM129 666h0.5v.5h-0.5zM130 666h0.5v.5h-0.5zM131 666h1.5v.5h-1.5zM70 666.5h1.5v.5h-1.5zM73 666.5h0.5v.5h-0.5zM74.5 666.5h0.5v.5h-0.5zM77.5 666.5h0.5v.5h-0.5zM79.5 666.5h1v.5h-1zM82.5 666.5h1v.5h-1zM84.5 666.5h0.5v.5h-0.5zM87 666.5h0.5v.5h-0.5zM89 666.5h0.5v.5h-0.5zM90.5 666.5h0.5v.5h-0.5zM92 666.5h0.5v.5h-0.5zM94.5 666.5h0.5v.5h-0.5zM96 666.5h0.5v.5h-0.5zM99 666.5h0.5v.5h-0.5zM100.5 666.5h0.5v.5h-0.5zM103.5 666.5h1v.5h-1zM105.5 666.5h0.5v.5h-0.5zM107 666.5h0.5v.5h-0.5zM108.5 666.5h0.5v.5h-0.5zM111.5 666.5h0.5v.5h-0.5zM116 666.5h0.5v.5h-0.5zM117.5 666.5h0.5v.5h-0.5zM119.5 666.5h0.5v.5h-0.5zM121 666.5h2.5v.5h-2.5zM126 666.5h1v.5h-1zM128 666.5h0.5v.5h-0.5zM129.5 666.5h0.5v.5h-0.5zM132 666.5h0.5v.5h-0.5zM133.5 666.5h0.5v.5h-0.5zM69.5 667h1.5v.5h-1.5zM71.5 667h0.5v.5h-0.5zM74 667h1v.5h-1zM75.5 667h1v.5h-1zM77.5 667h0.5v.5h-0.5zM80 667h0.5v.5h-0.5zM81.5 667h1v.5h-1zM83 667h1.5v.5h-1.5zM88 667h1.5v.5h-1.5zM90.5 667h0.5v.5h-0.5zM91.5 667h0.5v.5h-0.5zM93 667h0.5v.5h-0.5zM95 667h0.5v.5h-0.5zM96 667h1v.5h-1zM98 667h0.5v.5h-0.5zM99.5 667h1v.5h-1zM101 667h1.5v.5h-1.5zM103 667h0.5v.5h-0.5zM104.5 667h1v.5h-1zM107.5 667h0.5v.5h-0.5zM112 667h0.5v.5h-0.5zM113.5 667h1v.5h-1zM115 667h0.5v.5h-0.5zM116.5 667h1v.5h-1zM120 667h0.5v.5h-0.5zM121 667h0.5v.5h-0.5zM122 667h0.5v.5h-0.5zM123 667h0.5v.5h-0.5zM124 667h0.5v.5h-0.5zM125 667h0.5v.5h-0.5zM126.5 667h1v.5h-1zM128.5 667h0.5v.5h-0.5zM130 667h1.5v.5h-1.5zM132 667h0.5v.5h-0.5zM133 667h0.5v.5h-0.5zM68 667.5h0.5v.5h-0.5zM69 667.5h1v.5h-1zM72 667.5h0.5v.5h-0.5zM73 667.5h0.5v.5h-0.5zM75 667.5h0.5v.5h-0.5zM77 667.5h1v.5h-1zM79 667.5h1.5v.5h-1.5zM81 667.5h0.5v.5h-0.5zM82 667.5h1.5v.5h-1.5zM85 667.5h1v.5h-1zM86.5 667.5h0.5v.5h-0.5zM88.5 667.5h0.5v.5h-0.5zM90 667.5h1v.5h-1zM93 667.5h1v.5h-1zM96.5 667.5h1v.5h-1zM98.5 667.5h0.5v.5h-0.5zM99.5 667.5h1.5v.5h-1.5zM104 667.5h0.5v.5h-0.5zM105 667.5h2v.5h-2zM107.5 667.5h0.5v.5h-0.5zM108.5 667.5h0.5v.5h-0.5zM109.5 667.5h1v.5h-1zM111.5 667.5h1.5v.5h-1.5zM113.5 667.5h1.5v.5h-1.5zM115.5 667.5h1v.5h-1zM117.5 667.5h1v.5h-1zM119 667.5h2v.5h-2zM122 667.5h0.5v.5h-0.5zM123 667.5h0.5v.5h-0.5zM124.5 667.5h0.5v.5h-0.5zM125.5 667.5h0.5v.5h-0.5zM126.5 667.5h0.5v.5h-0.5zM128.5 667.5h1v.5h-1zM130.5 667.5h0.5v.5h-0.5zM131.5 667.5h0.5v.5h-0.5zM132.5 667.5h0.5v.5h-0.5zM68 668h0.5v.5h-0.5zM69 668h0.5v.5h-0.5zM70.5 668h1v.5h-1zM72 668h0.5v.5h-0.5zM75 668h0.5v.5h-0.5zM76.5 668h0.5v.5h-0.5zM78 668h1v.5h-1zM79.5 668h2v.5h-2zM82.5 668h0.5v.5h-0.5zM84.5 668h0.5v.5h-0.5zM86.5 668h0.5v.5h-0.5zM88 668h4v.5h-4zM93 668h0.5v.5h-0.5zM94 668h0.5v.5h-0.5zM95 668h0.5v.5h-0.5zM96 668h1v.5h-1zM97.5 668h1.5v.5h-1.5zM99.5 668h0.5v.5h-0.5zM101 668h1v.5h-1zM102.5 668h0.5v.5h-0.5zM103.5 668h0.5v.5h-0.5zM105 668h1.5v.5h-1.5zM107.5 668h0.5v.5h-0.5zM108.5 668h3v.5h-3zM113 668h1v.5h-1zM114.5 668h1v.5h-1zM116 668h0.5v.5h-0.5zM117.5 668h0.5v.5h-0.5zM119.5 668h0.5v.5h-0.5zM121.5 668h1v.5h-1zM123.5 668h0.5v.5h-0.5zM124.5 668h1.5v.5h-1.5zM127 668h0.5v.5h-0.5zM129.5 668h1v.5h-1zM132.5 668h0.5v.5h-0.5zM133.5 668h0.5v.5h-0.5zM143 668h0.5v.5h-0.5zM67 668.5h0.5v.5h-0.5zM68 668.5h0.5v.5h-0.5zM69 668.5h1v.5h-1zM71.5 668.5h1v.5h-1zM74 668.5h0.5v.5h-0.5zM75 668.5h3.5v.5h-3.5zM79 668.5h0.5v.5h-0.5zM82 668.5h0.5v.5h-0.5zM83 668.5h0.5v.5h-0.5zM84 668.5h1v.5h-1zM86 668.5h0.5v.5h-0.5zM87 668.5h0.5v.5h-0.5zM88 668.5h2v.5h-2zM91.5 668.5h1v.5h-1zM94.5 668.5h0.5v.5h-0.5zM97 668.5h1v.5h-1zM99 668.5h0.5v.5h-0.5zM100 668.5h2.5v.5h-2.5zM103 668.5h2.5v.5h-2.5zM106.5 668.5h1v.5h-1zM108 668.5h0.5v.5h-0.5zM109 668.5h0.5v.5h-0.5zM113 668.5h1v.5h-1zM114.5 668.5h1v.5h-1zM116 668.5h0.5v.5h-0.5zM118.5 668.5h0.5v.5h-0.5zM120 668.5h0.5v.5h-0.5zM121 668.5h0.5v.5h-0.5zM122 668.5h2v.5h-2zM126 668.5h0.5v.5h-0.5zM128 668.5h0.5v.5h-0.5zM130.5 668.5h1v.5h-1zM132 668.5h1v.5h-1zM66.5 669h0.5v.5h-0.5zM68 669h0.5v.5h-0.5zM69 669h0.5v.5h-0.5zM70 669h1.5v.5h-1.5zM74 669h2v.5h-2zM77 669h0.5v.5h-0.5zM78.5 669h0.5v.5h-0.5zM80 669h0.5v.5h-0.5zM81 669h2v.5h-2zM84 669h0.5v.5h-0.5zM85 669h0.5v.5h-0.5zM86 669h0.5v.5h-0.5zM87 669h0.5v.5h-0.5zM88.5 669h1v.5h-1zM90.5 669h0.5v.5h-0.5zM92.5 669h0.5v.5h-0.5zM94 669h0.5v.5h-0.5zM95.5 669h0.5v.5h-0.5zM96.5 669h0.5v.5h-0.5zM97.5 669h2.5v.5h-2.5zM101 669h0.5v.5h-0.5zM102 669h0.5v.5h-0.5zM105 669h1v.5h-1zM107 669h1.5v.5h-1.5zM109.5 669h1v.5h-1zM111 669h0.5v.5h-0.5zM112.5 669h0.5v.5h-0.5zM113.5 669h1.5v.5h-1.5zM116.5 669h0.5v.5h-0.5zM118 669h0.5v.5h-0.5zM119.5 669h2v.5h-2zM122.5 669h1v.5h-1zM124 669h1.5v.5h-1.5zM126 669h2v.5h-2zM128.5 669h0.5v.5h-0.5zM129.5 669h1v.5h-1zM131.5 669h2.5v.5h-2.5zM140.5 669h0.5v.5h-0.5zM66.5 669.5h0.5v.5h-0.5zM69.5 669.5h3v.5h-3zM73 669.5h1.5v.5h-1.5zM76 669.5h1v.5h-1zM77.5 669.5h0.5v.5h-0.5zM79 669.5h0.5v.5h-0.5zM80 669.5h4.5v.5h-4.5zM85 669.5h1v.5h-1zM88 669.5h1v.5h-1zM89.5 669.5h1.5v.5h-1.5zM91.5 669.5h0.5v.5h-0.5zM92.5 669.5h1.5v.5h-1.5zM94.5 669.5h1v.5h-1zM97.5 669.5h5v.5h-5zM103 669.5h1v.5h-1zM105 669.5h0.5v.5h-0.5zM106.5 669.5h0.5v.5h-0.5zM107.5 669.5h0.5v.5h-0.5zM108.5 669.5h1v.5h-1zM110 669.5h0.5v.5h-0.5zM111 669.5h0.5v.5h-0.5zM112 669.5h1v.5h-1zM114 669.5h1.5v.5h-1.5zM117.5 669.5h0.5v.5h-0.5zM118.5 669.5h1v.5h-1zM120.5 669.5h0.5v.5h-0.5zM121.5 669.5h0.5v.5h-0.5zM123 669.5h4.5v.5h-4.5zM128 669.5h2.5v.5h-2.5zM133.5 669.5h1v.5h-1zM65.5 670h0.5v.5h-0.5zM66.5 670h1.5v.5h-1.5zM69 670h0.5v.5h-0.5zM70 670h1v.5h-1zM71.5 670h1v.5h-1zM73 670h0.5v.5h-0.5zM74.5 670h1v.5h-1zM76 670h0.5v.5h-0.5zM77.5 670h0.5v.5h-0.5zM80 670h2.5v.5h-2.5zM83 670h3v.5h-3zM88.5 670h1.5v.5h-1.5zM90.5 670h0.5v.5h-0.5zM92 670h1.5v.5h-1.5zM94 670h0.5v.5h-0.5zM95 670h0.5v.5h-0.5zM96 670h0.5v.5h-0.5zM97 670h0.5v.5h-0.5zM99.5 670h1v.5h-1zM101 670h2v.5h-2zM103.5 670h0.5v.5h-0.5zM104.5 670h0.5v.5h-0.5zM107 670h0.5v.5h-0.5zM108 670h7v.5h-7zM115.5 670h0.5v.5h-0.5zM116.5 670h0.5v.5h-0.5zM117.5 670h8.5v.5h-8.5zM126.5 670h4.5v.5h-4.5zM131.5 670h1v.5h-1zM133 670h1.5v.5h-1.5zM65.5 670.5h0.5v.5h-0.5zM66.5 670.5h1v.5h-1zM68 670.5h1v.5h-1zM70 670.5h0.5v.5h-0.5zM71 670.5h2v.5h-2zM73.5 670.5h0.5v.5h-0.5zM74.5 670.5h1v.5h-1zM76 670.5h0.5v.5h-0.5zM77 670.5h3v.5h-3zM81 670.5h2v.5h-2zM83.5 670.5h3.5v.5h-3.5zM88 670.5h2v.5h-2zM90.5 670.5h0.5v.5h-0.5zM91.5 670.5h1v.5h-1zM93 670.5h0.5v.5h-0.5zM94 670.5h0.5v.5h-0.5zM95 670.5h2.5v.5h-2.5zM98.5 670.5h1.5v.5h-1.5zM100.5 670.5h0.5v.5h-0.5zM101.5 670.5h4.5v.5h-4.5zM106.5 670.5h5.5v.5h-5.5zM112.5 670.5h2v.5h-2zM115 670.5h1v.5h-1zM116.5 670.5h2.5v.5h-2.5zM119.5 670.5h6v.5h-6zM126 670.5h1.5v.5h-1.5zM128 670.5h5.5v.5h-5.5zM134 670.5h0.5v.5h-0.5zM65.5 671h1v.5h-1zM67 671h2v.5h-2zM69.5 671h1.5v.5h-1.5zM71.5 671h4.5v.5h-4.5zM76.5 671h4v.5h-4zM81 671h1v.5h-1zM83.5 671h3v.5h-3zM87 671h3.5v.5h-3.5zM91 671h0.5v.5h-0.5zM92 671h0.5v.5h-0.5zM93 671h2v.5h-2zM96.5 671h1v.5h-1zM99.5 671h5.5v.5h-5.5zM105.5 671h0.5v.5h-0.5zM107 671h1v.5h-1zM109.5 671h0.5v.5h-0.5zM111 671h1v.5h-1zM112.5 671h3v.5h-3zM116.5 671h10.5v.5h-10.5zM127.5 671h2.5v.5h-2.5zM130.5 671h3v.5h-3zM65 671.5h1v.5h-1zM67 671.5h1v.5h-1zM68.5 671.5h5.5v.5h-5.5zM74.5 671.5h1.5v.5h-1.5zM76.5 671.5h1.5v.5h-1.5zM78.5 671.5h2v.5h-2zM81 671.5h3.5v.5h-3.5zM85 671.5h1.5v.5h-1.5zM87 671.5h1v.5h-1zM88.5 671.5h1.5v.5h-1.5zM90.5 671.5h4.5v.5h-4.5zM95.5 671.5h3v.5h-3zM99 671.5h1.5v.5h-1.5zM101 671.5h1.5v.5h-1.5zM103 671.5h1.5v.5h-1.5zM105 671.5h3v.5h-3zM108.5 671.5h0.5v.5h-0.5zM109.5 671.5h0.5v.5h-0.5zM110.5 671.5h1v.5h-1zM112 671.5h6v.5h-6zM118.5 671.5h10v.5h-10zM129 671.5h3.5v.5h-3.5zM133 671.5h1.5v.5h-1.5zM65 672h1v.5h-1zM66.5 672h1v.5h-1zM68.5 672h0.5v.5h-0.5zM69.5 672h3v.5h-3zM73 672h0.5v.5h-0.5zM74 672h0.5v.5h-0.5zM76.5 672h1v.5h-1zM78 672h3.5v.5h-3.5zM82 672h1v.5h-1zM83.5 672h1v.5h-1zM85 672h6v.5h-6zM91.5 672h3.5v.5h-3.5zM95.5 672h3.5v.5h-3.5zM100 672h0.5v.5h-0.5zM102 672h4v.5h-4zM107 672h3.5v.5h-3.5zM111 672h23.5v.5h-23.5zM65 672.5h2v.5h-2zM67.5 672.5h3.5v.5h-3.5zM71.5 672.5h1.5v.5h-1.5zM74 672.5h6.5v.5h-6.5zM81 672.5h2v.5h-2zM83.5 672.5h1.5v.5h-1.5zM85.5 672.5h0.5v.5h-0.5zM86.5 672.5h0.5v.5h-0.5zM88 672.5h2v.5h-2zM90.5 672.5h3v.5h-3zM94 672.5h3.5v.5h-3.5zM98 672.5h1.5v.5h-1.5zM100 672.5h0.5v.5h-0.5zM101 672.5h1.5v.5h-1.5zM103 672.5h1.5v.5h-1.5zM105 672.5h1.5v.5h-1.5zM107 672.5h0.5v.5h-0.5zM108.5 672.5h4.5v.5h-4.5zM113.5 672.5h17v.5h-17zM131 672.5h3v.5h-3zM65 673h1.5v.5h-1.5zM67 673h2v.5h-2zM70 673h1.5v.5h-1.5zM72 673h3.5v.5h-3.5zM76 673h4.5v.5h-4.5zM81 673h1v.5h-1zM82.5 673h9.5v.5h-9.5zM92.5 673h0.5v.5h-0.5zM93.5 673h0.5v.5h-0.5zM95 673h5v.5h-5zM101 673h3v.5h-3zM105 673h5.5v.5h-5.5zM111 673h24v.5h-24zM65 673.5h10v.5h-10zM75.5 673.5h3v.5h-3zM79 673.5h0.5v.5h-0.5zM80 673.5h1v.5h-1zM81.5 673.5h9v.5h-9zM91 673.5h9.5v.5h-9.5zM101 673.5h4.5v.5h-4.5zM106 673.5h1v.5h-1zM107.5 673.5h2v.5h-2zM110 673.5h1.5v.5h-1.5zM112 673.5h21.5v.5h-21.5zM134 673.5h0.5v.5h-0.5zM65 674h0.5v.5h-0.5zM66 674h7.5v.5h-7.5zM74 674h4.5v.5h-4.5zM79 674h2v.5h-2zM81.5 674h6v.5h-6zM88 674h3v.5h-3zM91.5 674h1.5v.5h-1.5zM94 674h4v.5h-4zM98.5 674h1.5v.5h-1.5zM100.5 674h5v.5h-5zM106.5 674h1v.5h-1zM108 674h0.5v.5h-0.5zM109 674h3v.5h-3zM112.5 674h22v.5h-22zM65 674.5h3.5v.5h-3.5zM69 674.5h2v.5h-2zM71.5 674.5h0.5v.5h-0.5zM72.5 674.5h1v.5h-1zM74 674.5h3v.5h-3zM77.5 674.5h3v.5h-3zM81 674.5h4.5v.5h-4.5zM86 674.5h0.5v.5h-0.5zM87 674.5h3v.5h-3zM91 674.5h3v.5h-3zM95 674.5h1.5v.5h-1.5zM97 674.5h4v.5h-4zM102 674.5h3.5v.5h-3.5zM106 674.5h2.5v.5h-2.5zM109 674.5h1.5v.5h-1.5zM111 674.5h0.5v.5h-0.5zM112 674.5h22.5v.5h-22.5zM65 675h2v.5h-2zM67.5 675h1v.5h-1zM69 675h2.5v.5h-2.5zM72 675h3.5v.5h-3.5zM76 675h5.5v.5h-5.5zM82.5 675h1.5v.5h-1.5zM84.5 675h0.5v.5h-0.5zM86.5 675h1.5v.5h-1.5zM88.5 675h2v.5h-2zM91.5 675h4v.5h-4zM96 675h9v.5h-9zM107 675h2.5v.5h-2.5zM110 675h24.5v.5h-24.5zM143.5 675h0.5v.5h-0.5zM65.5 675.5h0.5v.5h-0.5zM66.5 675.5h7.5v.5h-7.5zM75 675.5h3v.5h-3zM79.5 675.5h1.5v.5h-1.5zM81.5 675.5h1v.5h-1zM83 675.5h0.5v.5h-0.5zM84 675.5h2v.5h-2zM86.5 675.5h5.5v.5h-5.5zM93.5 675.5h3.5v.5h-3.5zM97.5 675.5h1.5v.5h-1.5zM99.5 675.5h1v.5h-1zM101 675.5h1.5v.5h-1.5zM103 675.5h1v.5h-1zM104.5 675.5h4v.5h-4zM109 675.5h24v.5h-24zM133.5 675.5h1v.5h-1zM65 676h2v.5h-2zM67.5 676h2.5v.5h-2.5zM70.5 676h3.5v.5h-3.5zM75.5 676h3v.5h-3zM79 676h7.5v.5h-7.5zM87.5 676h0.5v.5h-0.5zM88.5 676h1v.5h-1zM91 676h7v.5h-7zM98.5 676h8v.5h-8zM107 676h25.5v.5h-25.5zM133 676h1.5v.5h-1.5zM65.5 676.5h1.5v.5h-1.5zM67.5 676.5h0.5v.5h-0.5zM69 676.5h6v.5h-6zM76 676.5h2.5v.5h-2.5zM79 676.5h2.5v.5h-2.5zM82 676.5h4.5v.5h-4.5zM87.5 676.5h1v.5h-1zM89 676.5h0.5v.5h-0.5zM90 676.5h4.5v.5h-4.5zM95 676.5h2v.5h-2zM97.5 676.5h0.5v.5h-0.5zM98.5 676.5h1.5v.5h-1.5zM103 676.5h1v.5h-1zM104.5 676.5h2.5v.5h-2.5zM107.5 676.5h0.5v.5h-0.5zM108.5 676.5h1.5v.5h-1.5zM110.5 676.5h0.5v.5h-0.5zM111.5 676.5h1v.5h-1zM113 676.5h2v.5h-2zM115.5 676.5h11v.5h-11zM127 676.5h3v.5h-3zM130.5 676.5h4v.5h-4zM65 677h2v.5h-2zM67.5 677h1.5v.5h-1.5zM70 677h1v.5h-1zM71.5 677h3v.5h-3zM75 677h7v.5h-7zM83.5 677h1v.5h-1zM85 677h1v.5h-1zM86.5 677h2.5v.5h-2.5zM90 677h0.5v.5h-0.5zM91.5 677h0.5v.5h-0.5zM92.5 677h0.5v.5h-0.5zM93.5 677h3v.5h-3zM97 677h1v.5h-1zM98.5 677h1v.5h-1zM100 677h1.5v.5h-1.5zM102.5 677h1v.5h-1zM104.5 677h0.5v.5h-0.5zM106 677h0.5v.5h-0.5zM107 677h3.5v.5h-3.5zM111 677h2.5v.5h-2.5zM114 677h2v.5h-2zM116.5 677h1v.5h-1zM118 677h10v.5h-10zM128.5 677h0.5v.5h-0.5zM129.5 677h3v.5h-3zM134 677h0.5v.5h-0.5zM65 677.5h0.5v.5h-0.5zM66 677.5h5v.5h-5zM72 677.5h0.5v.5h-0.5zM73 677.5h2v.5h-2zM75.5 677.5h4.5v.5h-4.5zM80.5 677.5h1.5v.5h-1.5zM82.5 677.5h2.5v.5h-2.5zM85.5 677.5h1v.5h-1zM87 677.5h0.5v.5h-0.5zM88 677.5h2v.5h-2zM91.5 677.5h4.5v.5h-4.5zM96.5 677.5h0.5v.5h-0.5zM97.5 677.5h1v.5h-1zM99 677.5h0.5v.5h-0.5zM100 677.5h0.5v.5h-0.5zM101 677.5h1.5v.5h-1.5zM104 677.5h1v.5h-1zM106 677.5h1.5v.5h-1.5zM109.5 677.5h0.5v.5h-0.5zM111 677.5h1v.5h-1zM113 677.5h0.5v.5h-0.5zM114 677.5h0.5v.5h-0.5zM115 677.5h9.5v.5h-9.5zM125 677.5h1.5v.5h-1.5zM127 677.5h6.5v.5h-6.5zM134 677.5h0.5v.5h-0.5zM139.5 677.5h0.5v.5h-0.5zM142 677.5h0.5v.5h-0.5zM65 678h3.5v.5h-3.5zM69 678h6.5v.5h-6.5zM76 678h3.5v.5h-3.5zM80 678h0.5v.5h-0.5zM81 678h0.5v.5h-0.5zM82.5 678h2v.5h-2zM85.5 678h2.5v.5h-2.5zM88.5 678h1v.5h-1zM90 678h3v.5h-3zM93.5 678h0.5v.5h-0.5zM94.5 678h1v.5h-1zM96 678h0.5v.5h-0.5zM97 678h3.5v.5h-3.5zM101 678h1v.5h-1zM102.5 678h1v.5h-1zM104.5 678h1v.5h-1zM106 678h1.5v.5h-1.5zM108.5 678h1v.5h-1zM111 678h1v.5h-1zM112.5 678h1v.5h-1zM114 678h6v.5h-6zM120.5 678h0.5v.5h-0.5zM121.5 678h1.5v.5h-1.5zM123.5 678h5v.5h-5zM129.5 678h0.5v.5h-0.5zM131 678h1.5v.5h-1.5zM133 678h1.5v.5h-1.5zM65 678.5h2v.5h-2zM67.5 678.5h7.5v.5h-7.5zM75.5 678.5h7v.5h-7zM83 678.5h1v.5h-1zM85.5 678.5h1.5v.5h-1.5zM87.5 678.5h1v.5h-1zM89 678.5h0.5v.5h-0.5zM91 678.5h0.5v.5h-0.5zM92 678.5h1.5v.5h-1.5zM94 678.5h1.5v.5h-1.5zM96 678.5h0.5v.5h-0.5zM97 678.5h0.5v.5h-0.5zM98 678.5h0.5v.5h-0.5zM99 678.5h2.5v.5h-2.5zM102 678.5h1v.5h-1zM103.5 678.5h0.5v.5h-0.5zM104.5 678.5h0.5v.5h-0.5zM105.5 678.5h0.5v.5h-0.5zM106.5 678.5h3v.5h-3zM111 678.5h1v.5h-1zM112.5 678.5h2v.5h-2zM115 678.5h0.5v.5h-0.5zM116 678.5h0.5v.5h-0.5zM117 678.5h2.5v.5h-2.5zM120.5 678.5h1v.5h-1zM122 678.5h3.5v.5h-3.5zM126 678.5h0.5v.5h-0.5zM127 678.5h3.5v.5h-3.5zM131 678.5h0.5v.5h-0.5zM132 678.5h2v.5h-2zM65 679h0.5v.5h-0.5zM66 679h7v.5h-7zM73.5 679h1v.5h-1zM75 679h2v.5h-2zM78 679h1v.5h-1zM79.5 679h0.5v.5h-0.5zM80.5 679h1v.5h-1zM82 679h1v.5h-1zM84 679h0.5v.5h-0.5zM85 679h1v.5h-1zM87 679h0.5v.5h-0.5zM88 679h1v.5h-1zM90.5 679h2v.5h-2zM93 679h1.5v.5h-1.5zM96 679h1v.5h-1zM97.5 679h0.5v.5h-0.5zM99 679h1v.5h-1zM101.5 679h2v.5h-2zM104 679h2v.5h-2zM107 679h1v.5h-1zM113 679h0.5v.5h-0.5zM114 679h2v.5h-2zM116.5 679h1.5v.5h-1.5zM118.5 679h3v.5h-3zM122.5 679h1.5v.5h-1.5zM124.5 679h2v.5h-2zM127 679h0.5v.5h-0.5zM130 679h0.5v.5h-0.5zM131 679h1v.5h-1zM133 679h1v.5h-1zM136.5 679h0.5v.5h-0.5zM65 679.5h2.5v.5h-2.5zM68.5 679.5h0.5v.5h-0.5zM69.5 679.5h3.5v.5h-3.5zM73.5 679.5h8v.5h-8zM82.5 679.5h0.5v.5h-0.5zM83.5 679.5h1v.5h-1zM86.5 679.5h2.5v.5h-2.5zM91.5 679.5h0.5v.5h-0.5zM92.5 679.5h0.5v.5h-0.5zM94.5 679.5h2v.5h-2zM97 679.5h1v.5h-1zM99 679.5h1.5v.5h-1.5zM103 679.5h1v.5h-1zM104.5 679.5h2v.5h-2zM107.5 679.5h0.5v.5h-0.5zM108.5 679.5h1.5v.5h-1.5zM110.5 679.5h1v.5h-1zM112 679.5h1v.5h-1zM113.5 679.5h0.5v.5h-0.5zM114.5 679.5h0.5v.5h-0.5zM115.5 679.5h1v.5h-1zM119 679.5h1v.5h-1zM120.5 679.5h2v.5h-2zM123 679.5h2v.5h-2zM126 679.5h2v.5h-2zM128.5 679.5h3v.5h-3zM134.5 679.5h0.5v.5h-0.5zM65 680h0.5v.5h-0.5zM66 680h2v.5h-2zM69 680h8v.5h-8zM77.5 680h0.5v.5h-0.5zM78.5 680h2.5v.5h-2.5zM82 680h1.5v.5h-1.5zM84 680h0.5v.5h-0.5zM86 680h0.5v.5h-0.5zM87.5 680h1v.5h-1zM90 680h3.5v.5h-3.5zM94 680h0.5v.5h-0.5zM95.5 680h1.5v.5h-1.5zM97.5 680h0.5v.5h-0.5zM98.5 680h0.5v.5h-0.5zM100 680h1.5v.5h-1.5zM102.5 680h0.5v.5h-0.5zM106 680h0.5v.5h-0.5zM107.5 680h0.5v.5h-0.5zM109.5 680h0.5v.5h-0.5zM111 680h1.5v.5h-1.5zM114.5 680h1v.5h-1zM116.5 680h0.5v.5h-0.5zM118 680h1.5v.5h-1.5zM120.5 680h1v.5h-1zM122 680h0.5v.5h-0.5zM124 680h3v.5h-3zM127.5 680h0.5v.5h-0.5zM129 680h0.5v.5h-0.5zM130 680h1v.5h-1zM140.5 680h0.5v.5h-0.5zM65 680.5h14.5v.5h-14.5zM80 680.5h0.5v.5h-0.5zM81 680.5h2v.5h-2zM85 680.5h0.5v.5h-0.5zM87.5 680.5h1.5v.5h-1.5zM90 680.5h0.5v.5h-0.5zM93 680.5h0.5v.5h-0.5zM94 680.5h0.5v.5h-0.5zM97 680.5h0.5v.5h-0.5zM102 680.5h1.5v.5h-1.5zM106.5 680.5h0.5v.5h-0.5zM108 680.5h0.5v.5h-0.5zM109 680.5h2v.5h-2zM111.5 680.5h0.5v.5h-0.5zM113 680.5h1.5v.5h-1.5zM116.5 680.5h0.5v.5h-0.5zM118 680.5h1v.5h-1zM120 680.5h0.5v.5h-0.5zM121.5 680.5h0.5v.5h-0.5zM123 680.5h0.5v.5h-0.5zM124 680.5h0.5v.5h-0.5zM125 680.5h0.5v.5h-0.5zM127 680.5h0.5v.5h-0.5zM128.5 680.5h0.5v.5h-0.5zM131.5 680.5h1v.5h-1zM133 680.5h1v.5h-1zM65 681h3.5v.5h-3.5zM69 681h4.5v.5h-4.5zM74 681h9v.5h-9zM84 681h0.5v.5h-0.5zM86.5 681h0.5v.5h-0.5zM89 681h1v.5h-1zM90.5 681h0.5v.5h-0.5zM93 681h1v.5h-1zM95 681h0.5v.5h-0.5zM96.5 681h0.5v.5h-0.5zM100.5 681h0.5v.5h-0.5zM103.5 681h0.5v.5h-0.5zM104.5 681h0.5v.5h-0.5zM106 681h2v.5h-2zM108.5 681h1v.5h-1zM111 681h1v.5h-1zM114.5 681h1v.5h-1zM116.5 681h1v.5h-1zM120.5 681h1.5v.5h-1.5zM122.5 681h0.5v.5h-0.5zM124.5 681h0.5v.5h-0.5zM126 681h1.5v.5h-1.5zM129 681h0.5v.5h-0.5zM130 681h0.5v.5h-0.5zM65 681.5h7.5v.5h-7.5zM73 681.5h10v.5h-10zM84 681.5h1v.5h-1zM88.5 681.5h0.5v.5h-0.5zM89.5 681.5h0.5v.5h-0.5zM90.5 681.5h0.5v.5h-0.5zM91.5 681.5h0.5v.5h-0.5zM93 681.5h0.5v.5h-0.5zM94 681.5h0.5v.5h-0.5zM96 681.5h0.5v.5h-0.5zM98 681.5h0.5v.5h-0.5zM100.5 681.5h0.5v.5h-0.5zM102 681.5h0.5v.5h-0.5zM103.5 681.5h1v.5h-1zM106 681.5h0.5v.5h-0.5zM113 681.5h0.5v.5h-0.5zM114 681.5h1.5v.5h-1.5zM117 681.5h0.5v.5h-0.5zM119 681.5h1.5v.5h-1.5zM121 681.5h0.5v.5h-0.5zM123 681.5h0.5v.5h-0.5zM124.5 681.5h0.5v.5h-0.5zM125.5 681.5h1v.5h-1zM127 681.5h0.5v.5h-0.5zM128 681.5h0.5v.5h-0.5zM129 681.5h0.5v.5h-0.5zM133 681.5h1v.5h-1zM65 682h14.5v.5h-14.5zM80 682h1.5v.5h-1.5zM83 682h1v.5h-1zM85 682h0.5v.5h-0.5zM86.5 682h0.5v.5h-0.5zM88 682h0.5v.5h-0.5zM89.5 682h0.5v.5h-0.5zM90.5 682h0.5v.5h-0.5zM91.5 682h1v.5h-1zM94.5 682h0.5v.5h-0.5zM96 682h0.5v.5h-0.5zM97.5 682h0.5v.5h-0.5zM100.5 682h0.5v.5h-0.5zM103 682h1v.5h-1zM105 682h0.5v.5h-0.5zM106.5 682h1.5v.5h-1.5zM108.5 682h0.5v.5h-0.5zM109.5 682h0.5v.5h-0.5zM111 682h1v.5h-1zM114 682h1.5v.5h-1.5zM117 682h0.5v.5h-0.5zM119 682h0.5v.5h-0.5zM120 682h0.5v.5h-0.5zM123 682h0.5v.5h-0.5zM124 682h0.5v.5h-0.5zM125 682h0.5v.5h-0.5zM126 682h1v.5h-1zM129 682h0.5v.5h-0.5zM132 682h2v.5h-2zM65 682.5h16v.5h-16zM81.5 682.5h3v.5h-3zM86.5 682.5h1.5v.5h-1.5zM89.5 682.5h1v.5h-1zM91.5 682.5h1.5v.5h-1.5zM94.5 682.5h1v.5h-1zM96 682.5h0.5v.5h-0.5zM99.5 682.5h0.5v.5h-0.5zM100.5 682.5h0.5v.5h-0.5zM101.5 682.5h0.5v.5h-0.5zM104 682.5h0.5v.5h-0.5zM105 682.5h0.5v.5h-0.5zM107 682.5h0.5v.5h-0.5zM108 682.5h1v.5h-1zM109.5 682.5h2.5v.5h-2.5zM114.5 682.5h3v.5h-3zM118.5 682.5h1v.5h-1zM120.5 682.5h0.5v.5h-0.5zM123.5 682.5h0.5v.5h-0.5zM124.5 682.5h1v.5h-1zM126 682.5h0.5v.5h-0.5zM129.5 682.5h2v.5h-2zM132.5 682.5h2v.5h-2zM65 683h16v.5h-16zM82 683h0.5v.5h-0.5zM88.5 683h0.5v.5h-0.5zM89.5 683h1v.5h-1zM91 683h0.5v.5h-0.5zM97 683h1v.5h-1zM101 683h2v.5h-2zM103.5 683h0.5v.5h-0.5zM104.5 683h1v.5h-1zM106 683h1v.5h-1zM109 683h0.5v.5h-0.5zM111 683h2.5v.5h-2.5zM114.5 683h1v.5h-1zM116.5 683h0.5v.5h-0.5zM117.5 683h0.5v.5h-0.5zM119.5 683h0.5v.5h-0.5zM120.5 683h0.5v.5h-0.5zM121.5 683h1v.5h-1zM123.5 683h1v.5h-1zM129 683h0.5v.5h-0.5zM130.5 683h0.5v.5h-0.5zM133 683h1v.5h-1zM65 683.5h17v.5h-17zM85.5 683.5h0.5v.5h-0.5zM86.5 683.5h0.5v.5h-0.5zM88 683.5h0.5v.5h-0.5zM89 683.5h0.5v.5h-0.5zM94.5 683.5h1.5v.5h-1.5zM97.5 683.5h0.5v.5h-0.5zM101 683.5h0.5v.5h-0.5zM102.5 683.5h0.5v.5h-0.5zM103.5 683.5h0.5v.5h-0.5zM104.5 683.5h0.5v.5h-0.5zM105.5 683.5h0.5v.5h-0.5zM109 683.5h2.5v.5h-2.5zM113 683.5h1v.5h-1zM115 683.5h1.5v.5h-1.5zM117.5 683.5h0.5v.5h-0.5zM118.5 683.5h1v.5h-1zM120.5 683.5h0.5v.5h-0.5zM122 683.5h0.5v.5h-0.5zM127 683.5h0.5v.5h-0.5zM128.5 683.5h0.5v.5h-0.5zM130.5 683.5h0.5v.5h-0.5zM132 683.5h1.5v.5h-1.5zM134 683.5h1v.5h-1zM65 684h18.5v.5h-18.5zM84 684h0.5v.5h-0.5zM85 684h0.5v.5h-0.5zM89.5 684h0.5v.5h-0.5zM91 684h0.5v.5h-0.5zM93 684h1.5v.5h-1.5zM95.5 684h0.5v.5h-0.5zM97.5 684h0.5v.5h-0.5zM99.5 684h1v.5h-1zM104 684h0.5v.5h-0.5zM105.5 684h0.5v.5h-0.5zM107 684h1v.5h-1zM110 684h0.5v.5h-0.5zM111 684h0.5v.5h-0.5zM112 684h0.5v.5h-0.5zM114 684h0.5v.5h-0.5zM115 684h1v.5h-1zM116.5 684h0.5v.5h-0.5zM118 684h0.5v.5h-0.5zM119 684h1v.5h-1zM120.5 684h0.5v.5h-0.5zM122 684h0.5v.5h-0.5zM124 684h1v.5h-1zM125.5 684h1v.5h-1zM128 684h0.5v.5h-0.5zM130.5 684h0.5v.5h-0.5zM131.5 684h1v.5h-1zM137.5 684h0.5v.5h-0.5zM65 684.5h15v.5h-15zM80.5 684.5h0.5v.5h-0.5zM89 684.5h0.5v.5h-0.5zM91.5 684.5h0.5v.5h-0.5zM95.5 684.5h0.5v.5h-0.5zM96.5 684.5h0.5v.5h-0.5zM100 684.5h1v.5h-1zM102.5 684.5h1.5v.5h-1.5zM106 684.5h0.5v.5h-0.5zM108.5 684.5h1v.5h-1zM113 684.5h0.5v.5h-0.5zM114.5 684.5h0.5v.5h-0.5zM115.5 684.5h0.5v.5h-0.5zM116.5 684.5h1v.5h-1zM118.5 684.5h1.5v.5h-1.5zM121 684.5h0.5v.5h-0.5zM123.5 684.5h0.5v.5h-0.5zM127.5 684.5h0.5v.5h-0.5zM130 684.5h0.5v.5h-0.5zM133 684.5h0.5v.5h-0.5zM134.5 684.5h0.5v.5h-0.5zM65 685h2v.5h-2zM67.5 685h11.5v.5h-11.5zM79.5 685h1v.5h-1zM81 685h0.5v.5h-0.5zM85 685h0.5v.5h-0.5zM86.5 685h0.5v.5h-0.5zM89.5 685h0.5v.5h-0.5zM95 685h1v.5h-1zM99 685h0.5v.5h-0.5zM100.5 685h0.5v.5h-0.5zM101.5 685h0.5v.5h-0.5zM103 685h0.5v.5h-0.5zM105.5 685h1v.5h-1zM107 685h3v.5h-3zM111 685h1v.5h-1zM113 685h1.5v.5h-1.5zM117.5 685h0.5v.5h-0.5zM119 685h0.5v.5h-0.5zM120.5 685h0.5v.5h-0.5zM121.5 685h2v.5h-2zM124 685h0.5v.5h-0.5zM128.5 685h1v.5h-1zM131 685h1v.5h-1zM132.5 685h1.5v.5h-1.5zM140 685h0.5v.5h-0.5zM65 685.5h15.5v.5h-15.5zM85.5 685.5h0.5v.5h-0.5zM95 685.5h1v.5h-1zM97.5 685.5h0.5v.5h-0.5zM100 685.5h0.5v.5h-0.5zM104 685.5h0.5v.5h-0.5zM106.5 685.5h0.5v.5h-0.5zM108 685.5h0.5v.5h-0.5zM109.5 685.5h1v.5h-1zM114 685.5h2v.5h-2zM117.5 685.5h0.5v.5h-0.5zM118.5 685.5h0.5v.5h-0.5zM119.5 685.5h0.5v.5h-0.5zM120.5 685.5h1.5v.5h-1.5zM122.5 685.5h1.5v.5h-1.5zM126.5 685.5h0.5v.5h-0.5zM127.5 685.5h0.5v.5h-0.5zM128.5 685.5h0.5v.5h-0.5zM129.5 685.5h0.5v.5h-0.5zM130.5 685.5h0.5v.5h-0.5zM132.5 685.5h0.5v.5h-0.5zM133.5 685.5h0.5v.5h-0.5zM134.5 685.5h0.5v.5h-0.5zM142.5 685.5h0.5v.5h-0.5zM65 686h15.5v.5h-15.5zM83 686h0.5v.5h-0.5zM94.5 686h0.5v.5h-0.5zM96 686h1.5v.5h-1.5zM100 686h0.5v.5h-0.5zM101 686h0.5v.5h-0.5zM103 686h0.5v.5h-0.5zM105 686h0.5v.5h-0.5zM107 686h0.5v.5h-0.5zM110 686h1v.5h-1zM112.5 686h1.5v.5h-1.5zM114.5 686h0.5v.5h-0.5zM116.5 686h0.5v.5h-0.5zM118.5 686h1v.5h-1zM120.5 686h0.5v.5h-0.5zM122 686h0.5v.5h-0.5zM124.5 686h0.5v.5h-0.5zM133.5 686h0.5v.5h-0.5zM65 686.5h15.5v.5h-15.5zM89.5 686.5h0.5v.5h-0.5zM94.5 686.5h0.5v.5h-0.5zM97.5 686.5h1.5v.5h-1.5zM100.5 686.5h0.5v.5h-0.5zM102 686.5h0.5v.5h-0.5zM103 686.5h0.5v.5h-0.5zM104.5 686.5h1v.5h-1zM106.5 686.5h1v.5h-1zM108.5 686.5h2v.5h-2zM111.5 686.5h0.5v.5h-0.5zM112.5 686.5h0.5v.5h-0.5zM114.5 686.5h1v.5h-1zM118 686.5h0.5v.5h-0.5zM120.5 686.5h0.5v.5h-0.5zM122.5 686.5h1v.5h-1zM126.5 686.5h1v.5h-1zM128 686.5h0.5v.5h-0.5zM129.5 686.5h0.5v.5h-0.5zM131 686.5h0.5v.5h-0.5zM132 686.5h1v.5h-1zM133.5 686.5h0.5v.5h-0.5zM65 687h15.5v.5h-15.5zM81 687h0.5v.5h-0.5zM91.5 687h0.5v.5h-0.5zM96.5 687h0.5v.5h-0.5zM98.5 687h0.5v.5h-0.5zM100 687h1v.5h-1zM101.5 687h0.5v.5h-0.5zM103.5 687h1v.5h-1zM106 687h0.5v.5h-0.5zM108.5 687h0.5v.5h-0.5zM110 687h0.5v.5h-0.5zM111 687h0.5v.5h-0.5zM112.5 687h1v.5h-1zM114.5 687h0.5v.5h-0.5zM116.5 687h0.5v.5h-0.5zM117.5 687h0.5v.5h-0.5zM118.5 687h1v.5h-1zM120 687h0.5v.5h-0.5zM121.5 687h2.5v.5h-2.5zM125.5 687h0.5v.5h-0.5zM128 687h0.5v.5h-0.5zM129.5 687h0.5v.5h-0.5zM131.5 687h1.5v.5h-1.5zM133.5 687h1v.5h-1zM65 687.5h13.5v.5h-13.5zM79 687.5h1.5v.5h-1.5zM86 687.5h1v.5h-1zM88 687.5h0.5v.5h-0.5zM98 687.5h0.5v.5h-0.5zM101 687.5h2.5v.5h-2.5zM104 687.5h1v.5h-1zM105.5 687.5h0.5v.5h-0.5zM107 687.5h0.5v.5h-0.5zM109.5 687.5h0.5v.5h-0.5zM112 687.5h0.5v.5h-0.5zM113.5 687.5h0.5v.5h-0.5zM115 687.5h0.5v.5h-0.5zM117.5 687.5h0.5v.5h-0.5zM119 687.5h1v.5h-1zM122 687.5h0.5v.5h-0.5zM123.5 687.5h1v.5h-1zM126.5 687.5h1.5v.5h-1.5zM128.5 687.5h0.5v.5h-0.5zM131 687.5h0.5v.5h-0.5zM133 687.5h0.5v.5h-0.5zM134 687.5h0.5v.5h-0.5zM140.5 687.5h0.5v.5h-0.5zM65 688h15.5v.5h-15.5zM100.5 688h0.5v.5h-0.5zM101.5 688h0.5v.5h-0.5zM102.5 688h0.5v.5h-0.5zM103.5 688h0.5v.5h-0.5zM104.5 688h0.5v.5h-0.5zM105.5 688h0.5v.5h-0.5zM106.5 688h0.5v.5h-0.5zM119 688h0.5v.5h-0.5zM120.5 688h0.5v.5h-0.5zM125.5 688h0.5v.5h-0.5zM129.5 688h0.5v.5h-0.5zM132 688h2v.5h-2zM134.5 688h0.5v.5h-0.5zM65 688.5h15.5v.5h-15.5zM81.5 688.5h0.5v.5h-0.5zM83.5 688.5h0.5v.5h-0.5zM90.5 688.5h1v.5h-1zM103 688.5h0.5v.5h-0.5zM106 688.5h1v.5h-1zM108 688.5h0.5v.5h-0.5zM109 688.5h0.5v.5h-0.5zM111 688.5h1.5v.5h-1.5zM114 688.5h0.5v.5h-0.5zM116 688.5h0.5v.5h-0.5zM118.5 688.5h0.5v.5h-0.5zM120 688.5h2v.5h-2zM123 688.5h0.5v.5h-0.5zM125 688.5h0.5v.5h-0.5zM126 688.5h0.5v.5h-0.5zM128.5 688.5h0.5v.5h-0.5zM131.5 688.5h0.5v.5h-0.5zM133.5 688.5h0.5v.5h-0.5zM134.5 688.5h0.5v.5h-0.5zM65 689h13.5v.5h-13.5zM79 689h1.5v.5h-1.5zM83 689h0.5v.5h-0.5zM99.5 689h0.5v.5h-0.5zM100.5 689h0.5v.5h-0.5zM102 689h1v.5h-1zM103.5 689h0.5v.5h-0.5zM104.5 689h1v.5h-1zM106.5 689h0.5v.5h-0.5zM107.5 689h0.5v.5h-0.5zM109.5 689h0.5v.5h-0.5zM111 689h0.5v.5h-0.5zM112 689h0.5v.5h-0.5zM113 689h1v.5h-1zM118 689h1v.5h-1zM122 689h1.5v.5h-1.5zM124.5 689h0.5v.5h-0.5zM128 689h0.5v.5h-0.5zM130 689h0.5v.5h-0.5zM131.5 689h0.5v.5h-0.5zM132.5 689h1v.5h-1zM134 689h0.5v.5h-0.5zM65 689.5h15.5v.5h-15.5zM92.5 689.5h0.5v.5h-0.5zM93.5 689.5h0.5v.5h-0.5zM98 689.5h0.5v.5h-0.5zM100 689.5h0.5v.5h-0.5zM105.5 689.5h0.5v.5h-0.5zM107 689.5h0.5v.5h-0.5zM108 689.5h0.5v.5h-0.5zM110.5 689.5h1.5v.5h-1.5zM114 689.5h1.5v.5h-1.5zM117 689.5h0.5v.5h-0.5zM119 689.5h1.5v.5h-1.5zM121.5 689.5h1.5v.5h-1.5zM125.5 689.5h0.5v.5h-0.5zM129 689.5h1v.5h-1zM132 689.5h0.5v.5h-0.5zM65 690h15.5v.5h-15.5zM83 690h0.5v.5h-0.5zM88.5 690h0.5v.5h-0.5zM96 690h0.5v.5h-0.5zM102 690h0.5v.5h-0.5zM103 690h0.5v.5h-0.5zM104 690h0.5v.5h-0.5zM105.5 690h0.5v.5h-0.5zM107 690h1v.5h-1zM109 690h1v.5h-1zM110.5 690h1v.5h-1zM115 690h0.5v.5h-0.5zM116 690h0.5v.5h-0.5zM117.5 690h1.5v.5h-1.5zM120.5 690h1.5v.5h-1.5zM123 690h2.5v.5h-2.5zM127.5 690h1.5v.5h-1.5zM130.5 690h0.5v.5h-0.5zM131.5 690h1v.5h-1zM133.5 690h1v.5h-1zM65 690.5h15.5v.5h-15.5zM83.5 690.5h0.5v.5h-0.5zM85 690.5h0.5v.5h-0.5zM87 690.5h0.5v.5h-0.5zM88 690.5h0.5v.5h-0.5zM99 690.5h0.5v.5h-0.5zM101.5 690.5h1v.5h-1zM103.5 690.5h1v.5h-1zM110 690.5h0.5v.5h-0.5zM111.5 690.5h1v.5h-1zM113 690.5h0.5v.5h-0.5zM114 690.5h0.5v.5h-0.5zM117 690.5h0.5v.5h-0.5zM118 690.5h0.5v.5h-0.5zM120 690.5h1v.5h-1zM124.5 690.5h1v.5h-1zM126 690.5h0.5v.5h-0.5zM128 690.5h0.5v.5h-0.5zM131 690.5h0.5v.5h-0.5zM132 690.5h0.5v.5h-0.5zM133.5 690.5h1v.5h-1zM65 691h15.5v.5h-15.5zM84 691h1.5v.5h-1.5zM90.5 691h0.5v.5h-0.5zM102.5 691h1v.5h-1zM104.5 691h0.5v.5h-0.5zM105.5 691h0.5v.5h-0.5zM107.5 691h0.5v.5h-0.5zM109 691h0.5v.5h-0.5zM111.5 691h1v.5h-1zM116 691h0.5v.5h-0.5zM118 691h0.5v.5h-0.5zM120 691h0.5v.5h-0.5zM121.5 691h0.5v.5h-0.5zM124 691h0.5v.5h-0.5zM128 691h1.5v.5h-1.5zM130 691h0.5v.5h-0.5zM132 691h0.5v.5h-0.5zM65 691.5h10v.5h-10zM75.5 691.5h4.5v.5h-4.5zM84.5 691.5h0.5v.5h-0.5zM87.5 691.5h0.5v.5h-0.5zM88.5 691.5h0.5v.5h-0.5zM91.5 691.5h0.5v.5h-0.5zM97.5 691.5h0.5v.5h-0.5zM103 691.5h1v.5h-1zM107.5 691.5h0.5v.5h-0.5zM110.5 691.5h0.5v.5h-0.5zM111.5 691.5h0.5v.5h-0.5zM113 691.5h0.5v.5h-0.5zM115.5 691.5h1.5v.5h-1.5zM117.5 691.5h1v.5h-1zM120 691.5h0.5v.5h-0.5zM121.5 691.5h0.5v.5h-0.5zM123 691.5h0.5v.5h-0.5zM126.5 691.5h0.5v.5h-0.5zM129 691.5h1v.5h-1zM131 691.5h2v.5h-2zM134 691.5h0.5v.5h-0.5zM65 692h15.5v.5h-15.5zM81.5 692h0.5v.5h-0.5zM83.5 692h0.5v.5h-0.5zM85.5 692h0.5v.5h-0.5zM90 692h0.5v.5h-0.5zM96 692h1.5v.5h-1.5zM104 692h0.5v.5h-0.5zM105.5 692h1v.5h-1zM107.5 692h0.5v.5h-0.5zM109.5 692h0.5v.5h-0.5zM111 692h1v.5h-1zM112.5 692h1v.5h-1zM114 692h0.5v.5h-0.5zM115 692h0.5v.5h-0.5zM116 692h1v.5h-1zM117.5 692h0.5v.5h-0.5zM119 692h1v.5h-1zM121.5 692h1v.5h-1zM123.5 692h0.5v.5h-0.5zM125.5 692h1.5v.5h-1.5zM128 692h1v.5h-1zM129.5 692h0.5v.5h-0.5zM132 692h1v.5h-1zM134 692h0.5v.5h-0.5zM65 692.5h15v.5h-15zM85 692.5h0.5v.5h-0.5zM86.5 692.5h0.5v.5h-0.5zM90.5 692.5h0.5v.5h-0.5zM94.5 692.5h0.5v.5h-0.5zM98.5 692.5h1.5v.5h-1.5zM106.5 692.5h1.5v.5h-1.5zM108.5 692.5h1v.5h-1zM111.5 692.5h0.5v.5h-0.5zM114 692.5h1v.5h-1zM115.5 692.5h0.5v.5h-0.5zM116.5 692.5h1.5v.5h-1.5zM119 692.5h0.5v.5h-0.5zM121 692.5h2v.5h-2zM124 692.5h0.5v.5h-0.5zM127 692.5h0.5v.5h-0.5zM130.5 692.5h0.5v.5h-0.5zM132.5 692.5h0.5v.5h-0.5zM134 692.5h0.5v.5h-0.5zM65 693h15.5v.5h-15.5zM81 693h0.5v.5h-0.5zM83.5 693h0.5v.5h-0.5zM84.5 693h0.5v.5h-0.5zM86.5 693h0.5v.5h-0.5zM93 693h0.5v.5h-0.5zM94.5 693h0.5v.5h-0.5zM103.5 693h1.5v.5h-1.5zM107 693h1v.5h-1zM108.5 693h0.5v.5h-0.5zM110.5 693h0.5v.5h-0.5zM111.5 693h1.5v.5h-1.5zM114.5 693h1v.5h-1zM116 693h0.5v.5h-0.5zM118.5 693h1.5v.5h-1.5zM120.5 693h0.5v.5h-0.5zM121.5 693h0.5v.5h-0.5zM122.5 693h1v.5h-1zM127.5 693h0.5v.5h-0.5zM130 693h1.5v.5h-1.5zM133 693h0.5v.5h-0.5zM134 693h1v.5h-1zM65 693.5h14v.5h-14zM79.5 693.5h1v.5h-1zM81 693.5h0.5v.5h-0.5zM84 693.5h0.5v.5h-0.5zM86.5 693.5h1v.5h-1zM90.5 693.5h0.5v.5h-0.5zM92.5 693.5h0.5v.5h-0.5zM106.5 693.5h0.5v.5h-0.5zM108.5 693.5h0.5v.5h-0.5zM111 693.5h0.5v.5h-0.5zM112.5 693.5h0.5v.5h-0.5zM117 693.5h0.5v.5h-0.5zM118.5 693.5h0.5v.5h-0.5zM119.5 693.5h1v.5h-1zM124 693.5h0.5v.5h-0.5zM125 693.5h0.5v.5h-0.5zM127 693.5h0.5v.5h-0.5zM128.5 693.5h0.5v.5h-0.5zM129.5 693.5h0.5v.5h-0.5zM130.5 693.5h1v.5h-1zM132 693.5h0.5v.5h-0.5zM133 693.5h1v.5h-1zM65 694h15.5v.5h-15.5zM81 694h0.5v.5h-0.5zM84.5 694h1.5v.5h-1.5zM96.5 694h1v.5h-1zM99 694h0.5v.5h-0.5zM102 694h1v.5h-1zM105 694h0.5v.5h-0.5zM107.5 694h0.5v.5h-0.5zM109.5 694h1v.5h-1zM111 694h0.5v.5h-0.5zM113 694h0.5v.5h-0.5zM114.5 694h1v.5h-1zM117.5 694h0.5v.5h-0.5zM118.5 694h0.5v.5h-0.5zM120 694h0.5v.5h-0.5zM121 694h0.5v.5h-0.5zM123 694h0.5v.5h-0.5zM124 694h0.5v.5h-0.5zM125 694h1.5v.5h-1.5zM127.5 694h1.5v.5h-1.5zM131 694h0.5v.5h-0.5zM132.5 694h0.5v.5h-0.5zM134.5 694h0.5v.5h-0.5zM65 694.5h15.5v.5h-15.5zM93.5 694.5h0.5v.5h-0.5zM96.5 694.5h1v.5h-1zM102.5 694.5h0.5v.5h-0.5zM107.5 694.5h0.5v.5h-0.5zM113 694.5h0.5v.5h-0.5zM114 694.5h0.5v.5h-0.5zM115.5 694.5h0.5v.5h-0.5zM117 694.5h1v.5h-1zM118.5 694.5h0.5v.5h-0.5zM120.5 694.5h1v.5h-1zM124.5 694.5h1v.5h-1zM127 694.5h0.5v.5h-0.5zM128 694.5h0.5v.5h-0.5zM129.5 694.5h1.5v.5h-1.5zM131.5 694.5h0.5v.5h-0.5zM132.5 694.5h1v.5h-1zM65 695h10v.5h-10zM75.5 695h4.5v.5h-4.5zM82 695h0.5v.5h-0.5zM86.5 695h0.5v.5h-0.5zM92 695h0.5v.5h-0.5zM103.5 695h0.5v.5h-0.5zM105.5 695h0.5v.5h-0.5zM109.5 695h1.5v.5h-1.5zM114 695h0.5v.5h-0.5zM116 695h0.5v.5h-0.5zM119 695h0.5v.5h-0.5zM120 695h0.5v.5h-0.5zM121.5 695h0.5v.5h-0.5zM124.5 695h0.5v.5h-0.5zM125.5 695h0.5v.5h-0.5zM128 695h1v.5h-1zM131 695h0.5v.5h-0.5zM132 695h1v.5h-1zM65 695.5h15.5v.5h-15.5zM95 695.5h0.5v.5h-0.5zM98 695.5h0.5v.5h-0.5zM99.5 695.5h0.5v.5h-0.5zM106 695.5h0.5v.5h-0.5zM107 695.5h0.5v.5h-0.5zM109 695.5h0.5v.5h-0.5zM113.5 695.5h1v.5h-1zM118 695.5h0.5v.5h-0.5zM120 695.5h0.5v.5h-0.5zM121 695.5h0.5v.5h-0.5zM122 695.5h0.5v.5h-0.5zM126.5 695.5h0.5v.5h-0.5zM128.5 695.5h1v.5h-1zM130.5 695.5h1v.5h-1zM132.5 695.5h0.5v.5h-0.5zM133.5 695.5h1v.5h-1zM65 696h15v.5h-15zM97 696h0.5v.5h-0.5zM101 696h0.5v.5h-0.5zM107.5 696h0.5v.5h-0.5zM108.5 696h0.5v.5h-0.5zM110 696h0.5v.5h-0.5zM111.5 696h1.5v.5h-1.5zM113.5 696h0.5v.5h-0.5zM114.5 696h0.5v.5h-0.5zM115.5 696h1v.5h-1zM117 696h0.5v.5h-0.5zM120 696h0.5v.5h-0.5zM124 696h2v.5h-2zM127.5 696h0.5v.5h-0.5zM128.5 696h0.5v.5h-0.5zM130.5 696h0.5v.5h-0.5zM132 696h0.5v.5h-0.5zM136 696h0.5v.5h-0.5zM65 696.5h16v.5h-16zM83 696.5h0.5v.5h-0.5zM84 696.5h0.5v.5h-0.5zM85 696.5h0.5v.5h-0.5zM86 696.5h0.5v.5h-0.5zM88.5 696.5h0.5v.5h-0.5zM92 696.5h0.5v.5h-0.5zM95 696.5h0.5v.5h-0.5zM100 696.5h1v.5h-1zM106 696.5h0.5v.5h-0.5zM107 696.5h1v.5h-1zM110 696.5h0.5v.5h-0.5zM111 696.5h0.5v.5h-0.5zM112.5 696.5h0.5v.5h-0.5zM113.5 696.5h1v.5h-1zM117.5 696.5h1v.5h-1zM119.5 696.5h0.5v.5h-0.5zM121 696.5h0.5v.5h-0.5zM122.5 696.5h1.5v.5h-1.5zM126.5 696.5h0.5v.5h-0.5zM128.5 696.5h0.5v.5h-0.5zM132 696.5h0.5v.5h-0.5zM133.5 696.5h1.5v.5h-1.5zM137 696.5h0.5v.5h-0.5zM65 697h15.5v.5h-15.5zM84.5 697h0.5v.5h-0.5zM89.5 697h0.5v.5h-0.5zM92.5 697h0.5v.5h-0.5zM109.5 697h1v.5h-1zM111 697h0.5v.5h-0.5zM112 697h1v.5h-1zM115.5 697h1v.5h-1zM117.5 697h0.5v.5h-0.5zM118.5 697h0.5v.5h-0.5zM121 697h1v.5h-1zM123 697h1v.5h-1zM124.5 697h0.5v.5h-0.5zM126 697h0.5v.5h-0.5zM130 697h2v.5h-2zM133.5 697h1v.5h-1zM135 697h0.5v.5h-0.5zM65 697.5h15.5v.5h-15.5zM88.5 697.5h0.5v.5h-0.5zM93.5 697.5h0.5v.5h-0.5zM96.5 697.5h0.5v.5h-0.5zM99 697.5h1.5v.5h-1.5zM106 697.5h0.5v.5h-0.5zM108 697.5h1.5v.5h-1.5zM110.5 697.5h1v.5h-1zM112 697.5h0.5v.5h-0.5zM113.5 697.5h1v.5h-1zM115 697.5h0.5v.5h-0.5zM116.5 697.5h1v.5h-1zM118.5 697.5h1v.5h-1zM120 697.5h1v.5h-1zM121.5 697.5h0.5v.5h-0.5zM122.5 697.5h1v.5h-1zM124 697.5h1v.5h-1zM125.5 697.5h1.5v.5h-1.5zM128 697.5h1.5v.5h-1.5zM130.5 697.5h0.5v.5h-0.5zM132 697.5h0.5v.5h-0.5zM134 697.5h0.5v.5h-0.5zM135 697.5h0.5v.5h-0.5zM140 697.5h0.5v.5h-0.5z" fill="#111"/>
<path d="M66.9 624.5 L72.1 622.3 L128.4 622.3 L132.7 625.4 L134.4 632.3 L133.6 643.6 L129.2 648.7 L117.1 652.2 L96.3 652.7 L86 649.6 L74.7 644.4 L67.8 639.2 L66.1 632.3 Z" fill="none" stroke="#000" stroke-width="1" stroke-linejoin="round"/>
<path d="M66.6 697.5 L66.9 670 L67.8 668 L72.1 664.5 L79 662.8 L130.1 662.3 L134.4 667.1 L135.3 696.5" fill="none" stroke="#000" stroke-width="1" stroke-linejoin="round"/>
<path d="M81.6 685.3 L89.4 684.4 L97.2 687 L103.3 691.3 L108.5 696.5" fill="none" stroke="#000" stroke-width="1"/>
<rect x="64.2" y="620.5" width="81.8" height="77.9" fill="none" stroke="#222" stroke-width="1.1"/>
<line x1="64.2" y1="698.4" x2="64.2" y2="701" stroke="#161616" stroke-width="0.9"/>
<line x1="70.36" y1="698.4" x2="70.36" y2="699.8" stroke="#161616" stroke-width="0.6"/>
<line x1="73.96" y1="698.4" x2="73.96" y2="699.8" stroke="#161616" stroke-width="0.6"/>
<line x1="76.51" y1="698.4" x2="76.51" y2="699.8" stroke="#161616" stroke-width="0.6"/>
<line x1="78.49" y1="698.4" x2="78.49" y2="699.8" stroke="#161616" stroke-width="0.6"/>
<line x1="80.11" y1="698.4" x2="80.11" y2="699.8" stroke="#161616" stroke-width="0.6"/>
<line x1="81.48" y1="698.4" x2="81.48" y2="699.8" stroke="#161616" stroke-width="0.6"/>
<line x1="82.67" y1="698.4" x2="82.67" y2="699.8" stroke="#161616" stroke-width="0.6"/>
<line x1="83.71" y1="698.4" x2="83.71" y2="699.8" stroke="#161616" stroke-width="0.6"/>
<line x1="84.65" y1="698.4" x2="84.65" y2="701" stroke="#161616" stroke-width="0.9"/>
<line x1="90.81" y1="698.4" x2="90.81" y2="699.8" stroke="#161616" stroke-width="0.6"/>
<line x1="94.41" y1="698.4" x2="94.41" y2="699.8" stroke="#161616" stroke-width="0.6"/>
<line x1="96.96" y1="698.4" x2="96.96" y2="699.8" stroke="#161616" stroke-width="0.6"/>
<line x1="98.94" y1="698.4" x2="98.94" y2="699.8" stroke="#161616" stroke-width="0.6"/>
<line x1="100.56" y1="698.4" x2="100.56" y2="699.8" stroke="#161616" stroke-width="0.6"/>
<line x1="101.93" y1="698.4" x2="101.93" y2="699.8" stroke="#161616" stroke-width="0.6"/>
<line x1="103.12" y1="698.4" x2="103.12" y2="699.8" stroke="#161616" stroke-width="0.6"/>
<line x1="104.16" y1="698.4" x2="104.16" y2="699.8" stroke="#161616" stroke-width="0.6"/>
<line x1="105.1" y1="698.4" x2="105.1" y2="701" stroke="#161616" stroke-width="0.9"/>
<line x1="111.26" y1="698.4" x2="111.26" y2="699.8" stroke="#161616" stroke-width="0.6"/>
<line x1="114.86" y1="698.4" x2="114.86" y2="699.8" stroke="#161616" stroke-width="0.6"/>
<line x1="117.41" y1="698.4" x2="117.41" y2="699.8" stroke="#161616" stroke-width="0.6"/>
<line x1="119.39" y1="698.4" x2="119.39" y2="699.8" stroke="#161616" stroke-width="0.6"/>
<line x1="121.01" y1="698.4" x2="121.01" y2="699.8" stroke="#161616" stroke-width="0.6"/>
<line x1="122.38" y1="698.4" x2="122.38" y2="699.8" stroke="#161616" stroke-width="0.6"/>
<line x1="123.57" y1="698.4" x2="123.57" y2="699.8" stroke="#161616" stroke-width="0.6"/>
<line x1="124.61" y1="698.4" x2="124.61" y2="699.8" stroke="#161616" stroke-width="0.6"/>
<line x1="125.55" y1="698.4" x2="125.55" y2="701" stroke="#161616" stroke-width="0.9"/>
<line x1="131.71" y1="698.4" x2="131.71" y2="699.8" stroke="#161616" stroke-width="0.6"/>
<line x1="135.31" y1="698.4" x2="135.31" y2="699.8" stroke="#161616" stroke-width="0.6"/>
<line x1="137.86" y1="698.4" x2="137.86" y2="699.8" stroke="#161616" stroke-width="0.6"/>
<line x1="139.84" y1="698.4" x2="139.84" y2="699.8" stroke="#161616" stroke-width="0.6"/>
<line x1="141.46" y1="698.4" x2="141.46" y2="699.8" stroke="#161616" stroke-width="0.6"/>
<line x1="142.83" y1="698.4" x2="142.83" y2="699.8" stroke="#161616" stroke-width="0.6"/>
<line x1="144.02" y1="698.4" x2="144.02" y2="699.8" stroke="#161616" stroke-width="0.6"/>
<line x1="145.06" y1="698.4" x2="145.06" y2="699.8" stroke="#161616" stroke-width="0.6"/>
<line x1="146" y1="698.4" x2="146" y2="701" stroke="#161616" stroke-width="0.9"/>
<line x1="64.2" y1="698.4" x2="61.6" y2="698.4" stroke="#161616" stroke-width="0.9"/>
<line x1="64.2" y1="692.54" x2="62.8" y2="692.54" stroke="#161616" stroke-width="0.6"/>
<line x1="64.2" y1="689.11" x2="62.8" y2="689.11" stroke="#161616" stroke-width="0.6"/>
<line x1="64.2" y1="686.67" x2="62.8" y2="686.67" stroke="#161616" stroke-width="0.6"/>
<line x1="64.2" y1="684.79" x2="62.8" y2="684.79" stroke="#161616" stroke-width="0.6"/>
<line x1="64.2" y1="683.25" x2="62.8" y2="683.25" stroke="#161616" stroke-width="0.6"/>
<line x1="64.2" y1="681.94" x2="62.8" y2="681.94" stroke="#161616" stroke-width="0.6"/>
<line x1="64.2" y1="680.81" x2="62.8" y2="680.81" stroke="#161616" stroke-width="0.6"/>
<line x1="64.2" y1="679.82" x2="62.8" y2="679.82" stroke="#161616" stroke-width="0.6"/>
<line x1="64.2" y1="678.92" x2="61.6" y2="678.92" stroke="#161616" stroke-width="0.9"/>
<line x1="64.2" y1="673.06" x2="62.8" y2="673.06" stroke="#161616" stroke-width="0.6"/>
<line x1="64.2" y1="669.63" x2="62.8" y2="669.63" stroke="#161616" stroke-width="0.6"/>
<line x1="64.2" y1="667.2" x2="62.8" y2="667.2" stroke="#161616" stroke-width="0.6"/>
<line x1="64.2" y1="665.31" x2="62.8" y2="665.31" stroke="#161616" stroke-width="0.6"/>
<line x1="64.2" y1="663.77" x2="62.8" y2="663.77" stroke="#161616" stroke-width="0.6"/>
<line x1="64.2" y1="662.47" x2="62.8" y2="662.47" stroke="#161616" stroke-width="0.6"/>
<line x1="64.2" y1="661.34" x2="62.8" y2="661.34" stroke="#161616" stroke-width="0.6"/>
<line x1="64.2" y1="660.34" x2="62.8" y2="660.34" stroke="#161616" stroke-width="0.6"/>
<line x1="64.2" y1="659.45" x2="61.6" y2="659.45" stroke="#161616" stroke-width="0.9"/>
<line x1="64.2" y1="653.59" x2="62.8" y2="653.59" stroke="#161616" stroke-width="0.6"/>
<line x1="64.2" y1="650.16" x2="62.8" y2="650.16" stroke="#161616" stroke-width="0.6"/>
<line x1="64.2" y1="647.72" x2="62.8" y2="647.72" stroke="#161616" stroke-width="0.6"/>
<line x1="64.2" y1="645.84" x2="62.8" y2="645.84" stroke="#161616" stroke-width="0.6"/>
<line x1="64.2" y1="644.3" x2="62.8" y2="644.3" stroke="#161616" stroke-width="0.6"/>
<line x1="64.2" y1="642.99" x2="62.8" y2="642.99" stroke="#161616" stroke-width="0.6"/>
<line x1="64.2" y1="641.86" x2="62.8" y2="641.86" stroke="#161616" stroke-width="0.6"/>
<line x1="64.2" y1="640.87" x2="62.8" y2="640.87" stroke="#161616" stroke-width="0.6"/>
<line x1="64.2" y1="639.98" x2="61.6" y2="639.98" stroke="#161616" stroke-width="0.9"/>
<line x1="64.2" y1="634.11" x2="62.8" y2="634.11" stroke="#161616" stroke-width="0.6"/>
<line x1="64.2" y1="630.68" x2="62.8" y2="630.68" stroke="#161616" stroke-width="0.6"/>
<line x1="64.2" y1="628.25" x2="62.8" y2="628.25" stroke="#161616" stroke-width="0.6"/>
<line x1="64.2" y1="626.36" x2="62.8" y2="626.36" stroke="#161616" stroke-width="0.6"/>
<line x1="64.2" y1="624.82" x2="62.8" y2="624.82" stroke="#161616" stroke-width="0.6"/>
<line x1="64.2" y1="623.52" x2="62.8" y2="623.52" stroke="#161616" stroke-width="0.6"/>
<line x1="64.2" y1="622.39" x2="62.8" y2="622.39" stroke="#161616" stroke-width="0.6"/>
<line x1="64.2" y1="621.39" x2="62.8" y2="621.39" stroke="#161616" stroke-width="0.6"/>
<line x1="64.2" y1="620.5" x2="61.6" y2="620.5" stroke="#161616" stroke-width="0.9"/>
<text x="64.5" y="709.6" font-size="6.6" text-anchor="middle" fill="#161616" textLength="8.9" lengthAdjust="spacingAndGlyphs">10<tspan font-size="4.36" dy="-2.6">0</tspan></text>
<text x="58.9" y="700.7" font-size="6.6" text-anchor="end" fill="#161616" textLength="8.9" lengthAdjust="spacingAndGlyphs">10<tspan font-size="4.36" dy="-2.6">0</tspan></text>
<text x="84.95" y="709.6" font-size="6.6" text-anchor="middle" fill="#161616" textLength="8.9" lengthAdjust="spacingAndGlyphs">10<tspan font-size="4.36" dy="-2.6">1</tspan></text>
<text x="58.9" y="681.22" font-size="6.6" text-anchor="end" fill="#161616" textLength="8.9" lengthAdjust="spacingAndGlyphs">10<tspan font-size="4.36" dy="-2.6">1</tspan></text>
<text x="105.4" y="709.6" font-size="6.6" text-anchor="middle" fill="#161616" textLength="8.9" lengthAdjust="spacingAndGlyphs">10<tspan font-size="4.36" dy="-2.6">2</tspan></text>
<text x="58.9" y="661.75" font-size="6.6" text-anchor="end" fill="#161616" textLength="8.9" lengthAdjust="spacingAndGlyphs">10<tspan font-size="4.36" dy="-2.6">2</tspan></text>
<text x="125.85" y="709.6" font-size="6.6" text-anchor="middle" fill="#161616" textLength="8.9" lengthAdjust="spacingAndGlyphs">10<tspan font-size="4.36" dy="-2.6">3</tspan></text>
<text x="58.9" y="642.27" font-size="6.6" text-anchor="end" fill="#161616" textLength="8.9" lengthAdjust="spacingAndGlyphs">10<tspan font-size="4.36" dy="-2.6">3</tspan></text>
<text x="146.3" y="709.6" font-size="6.6" text-anchor="middle" fill="#161616" textLength="8.9" lengthAdjust="spacingAndGlyphs">10<tspan font-size="4.36" dy="-2.6">4</tspan></text>
<text x="58.9" y="622.8" font-size="6.6" text-anchor="end" fill="#161616" textLength="8.9" lengthAdjust="spacingAndGlyphs">10<tspan font-size="4.36" dy="-2.6">4</tspan></text>
<text x="103.25" y="723.5" font-size="9" text-anchor="middle" fill="#161616" textLength="18.9" lengthAdjust="spacingAndGlyphs">CD20</text>
<text x="43.7" y="659.4" font-size="9.2" text-anchor="middle" transform="rotate(-90 43.7 659.4)" fill="#161616" textLength="26.3" lengthAdjust="spacingAndGlyphs">V<tspan font-size="6.2" dy="1.8">H</tspan><tspan dy="-1.8">1-69</tspan></text>
<text x="246.5" y="612.2" font-size="8.5" font-weight="bold" text-anchor="middle" fill="#161616" textLength="46.6" lengthAdjust="spacingAndGlyphs">V<tspan font-size="5.8" dy="2">H</tspan><tspan dy="-2">1-69 neg</tspan></text>
<rect x="197.8" y="621.3" width="100.5" height="76.1" fill="none" stroke="#444" stroke-width="0.8"/>
<line x1="197.8" y1="621.3" x2="197.8" y2="697.9" stroke="#111" stroke-width="1.2"/>
<line x1="197.3" y1="697.4" x2="298.3" y2="697.4" stroke="#111" stroke-width="1.2"/>
<line x1="197.8" y1="697.4" x2="197.8" y2="700" stroke="#161616" stroke-width="0.9"/>
<line x1="205.36" y1="697.4" x2="205.36" y2="698.8" stroke="#161616" stroke-width="0.6"/>
<line x1="209.79" y1="697.4" x2="209.79" y2="698.8" stroke="#161616" stroke-width="0.6"/>
<line x1="212.93" y1="697.4" x2="212.93" y2="698.8" stroke="#161616" stroke-width="0.6"/>
<line x1="215.36" y1="697.4" x2="215.36" y2="698.8" stroke="#161616" stroke-width="0.6"/>
<line x1="217.35" y1="697.4" x2="217.35" y2="698.8" stroke="#161616" stroke-width="0.6"/>
<line x1="219.03" y1="697.4" x2="219.03" y2="698.8" stroke="#161616" stroke-width="0.6"/>
<line x1="220.49" y1="697.4" x2="220.49" y2="698.8" stroke="#161616" stroke-width="0.6"/>
<line x1="221.78" y1="697.4" x2="221.78" y2="698.8" stroke="#161616" stroke-width="0.6"/>
<line x1="222.93" y1="697.4" x2="222.93" y2="700" stroke="#161616" stroke-width="0.9"/>
<line x1="230.49" y1="697.4" x2="230.49" y2="698.8" stroke="#161616" stroke-width="0.6"/>
<line x1="234.91" y1="697.4" x2="234.91" y2="698.8" stroke="#161616" stroke-width="0.6"/>
<line x1="238.05" y1="697.4" x2="238.05" y2="698.8" stroke="#161616" stroke-width="0.6"/>
<line x1="240.49" y1="697.4" x2="240.49" y2="698.8" stroke="#161616" stroke-width="0.6"/>
<line x1="242.48" y1="697.4" x2="242.48" y2="698.8" stroke="#161616" stroke-width="0.6"/>
<line x1="244.16" y1="697.4" x2="244.16" y2="698.8" stroke="#161616" stroke-width="0.6"/>
<line x1="245.62" y1="697.4" x2="245.62" y2="698.8" stroke="#161616" stroke-width="0.6"/>
<line x1="246.9" y1="697.4" x2="246.9" y2="698.8" stroke="#161616" stroke-width="0.6"/>
<line x1="248.05" y1="697.4" x2="248.05" y2="700" stroke="#161616" stroke-width="0.9"/>
<line x1="255.61" y1="697.4" x2="255.61" y2="698.8" stroke="#161616" stroke-width="0.6"/>
<line x1="260.04" y1="697.4" x2="260.04" y2="698.8" stroke="#161616" stroke-width="0.6"/>
<line x1="263.18" y1="697.4" x2="263.18" y2="698.8" stroke="#161616" stroke-width="0.6"/>
<line x1="265.61" y1="697.4" x2="265.61" y2="698.8" stroke="#161616" stroke-width="0.6"/>
<line x1="267.6" y1="697.4" x2="267.6" y2="698.8" stroke="#161616" stroke-width="0.6"/>
<line x1="269.28" y1="697.4" x2="269.28" y2="698.8" stroke="#161616" stroke-width="0.6"/>
<line x1="270.74" y1="697.4" x2="270.74" y2="698.8" stroke="#161616" stroke-width="0.6"/>
<line x1="272.03" y1="697.4" x2="272.03" y2="698.8" stroke="#161616" stroke-width="0.6"/>
<line x1="273.18" y1="697.4" x2="273.18" y2="700" stroke="#161616" stroke-width="0.9"/>
<line x1="280.74" y1="697.4" x2="280.74" y2="698.8" stroke="#161616" stroke-width="0.6"/>
<line x1="285.16" y1="697.4" x2="285.16" y2="698.8" stroke="#161616" stroke-width="0.6"/>
<line x1="288.3" y1="697.4" x2="288.3" y2="698.8" stroke="#161616" stroke-width="0.6"/>
<line x1="290.74" y1="697.4" x2="290.74" y2="698.8" stroke="#161616" stroke-width="0.6"/>
<line x1="292.73" y1="697.4" x2="292.73" y2="698.8" stroke="#161616" stroke-width="0.6"/>
<line x1="294.41" y1="697.4" x2="294.41" y2="698.8" stroke="#161616" stroke-width="0.6"/>
<line x1="295.87" y1="697.4" x2="295.87" y2="698.8" stroke="#161616" stroke-width="0.6"/>
<line x1="297.15" y1="697.4" x2="297.15" y2="698.8" stroke="#161616" stroke-width="0.6"/>
<line x1="298.3" y1="697.4" x2="298.3" y2="700" stroke="#161616" stroke-width="0.9"/>
<line x1="194.8" y1="697.4" x2="197.8" y2="697.4" stroke="#161616" stroke-width="0.9"/>
<text x="192.8" y="700" font-size="7.4" text-anchor="end" fill="#161616">0</text>
<line x1="194.8" y1="676.33" x2="197.8" y2="676.33" stroke="#161616" stroke-width="0.9"/>
<text x="192.8" y="678.93" font-size="7.4" text-anchor="end" fill="#161616">50</text>
<line x1="194.8" y1="655.27" x2="197.8" y2="655.27" stroke="#161616" stroke-width="0.9"/>
<text x="192.8" y="657.87" font-size="7.4" text-anchor="end" fill="#161616">100</text>
<line x1="194.8" y1="634.2" x2="197.8" y2="634.2" stroke="#161616" stroke-width="0.9"/>
<text x="192.8" y="636.8" font-size="7.4" text-anchor="end" fill="#161616">150</text>
<line x1="196.3" y1="693.19" x2="197.8" y2="693.19" stroke="#161616" stroke-width="0.6"/>
<line x1="196.3" y1="688.97" x2="197.8" y2="688.97" stroke="#161616" stroke-width="0.6"/>
<line x1="196.3" y1="684.76" x2="197.8" y2="684.76" stroke="#161616" stroke-width="0.6"/>
<line x1="196.3" y1="680.55" x2="197.8" y2="680.55" stroke="#161616" stroke-width="0.6"/>
<line x1="196.3" y1="672.12" x2="197.8" y2="672.12" stroke="#161616" stroke-width="0.6"/>
<line x1="196.3" y1="667.91" x2="197.8" y2="667.91" stroke="#161616" stroke-width="0.6"/>
<line x1="196.3" y1="663.69" x2="197.8" y2="663.69" stroke="#161616" stroke-width="0.6"/>
<line x1="196.3" y1="659.48" x2="197.8" y2="659.48" stroke="#161616" stroke-width="0.6"/>
<line x1="196.3" y1="651.05" x2="197.8" y2="651.05" stroke="#161616" stroke-width="0.6"/>
<line x1="196.3" y1="646.84" x2="197.8" y2="646.84" stroke="#161616" stroke-width="0.6"/>
<line x1="196.3" y1="642.63" x2="197.8" y2="642.63" stroke="#161616" stroke-width="0.6"/>
<line x1="196.3" y1="638.41" x2="197.8" y2="638.41" stroke="#161616" stroke-width="0.6"/>
<line x1="196.3" y1="629.99" x2="197.8" y2="629.99" stroke="#161616" stroke-width="0.6"/>
<line x1="196.3" y1="625.77" x2="197.8" y2="625.77" stroke="#161616" stroke-width="0.6"/>
<text x="198.1" y="709.6" font-size="6.6" text-anchor="middle" fill="#161616" textLength="8.9" lengthAdjust="spacingAndGlyphs">10<tspan font-size="4.36" dy="-2.6">0</tspan></text>
<text x="223.23" y="709.6" font-size="6.6" text-anchor="middle" fill="#161616" textLength="8.9" lengthAdjust="spacingAndGlyphs">10<tspan font-size="4.36" dy="-2.6">1</tspan></text>
<text x="248.35" y="709.6" font-size="6.6" text-anchor="middle" fill="#161616" textLength="8.9" lengthAdjust="spacingAndGlyphs">10<tspan font-size="4.36" dy="-2.6">2</tspan></text>
<text x="273.48" y="709.6" font-size="6.6" text-anchor="middle" fill="#161616" textLength="8.9" lengthAdjust="spacingAndGlyphs">10<tspan font-size="4.36" dy="-2.6">3</tspan></text>
<text x="298.6" y="709.6" font-size="6.6" text-anchor="middle" fill="#161616" textLength="8.9" lengthAdjust="spacingAndGlyphs">10<tspan font-size="4.36" dy="-2.6">4</tspan></text>
<text x="247.45" y="723.5" font-size="8.6" text-anchor="middle" fill="#161616" textLength="17.7" lengthAdjust="spacingAndGlyphs">CFSE</text>
<text x="237.8" y="634.8" font-size="6.6" font-weight="bold" text-anchor="middle" fill="#161616">42%</text>
<line x1="214.9" y1="637.4" x2="260.4" y2="637.4" stroke="#000" stroke-width="1.1"/>
<text x="222.5" y="626.4" font-size="4.0" text-anchor="middle" fill="#777" style="stroke:none">6</text>
<text x="228.6" y="626.4" font-size="4.0" text-anchor="middle" fill="#777" style="stroke:none">5</text>
<text x="235.2" y="626.4" font-size="4.0" text-anchor="middle" fill="#777" style="stroke:none">4</text>
<text x="242.7" y="626.4" font-size="4.0" text-anchor="middle" fill="#777" style="stroke:none">3</text>
<text x="250.8" y="626.4" font-size="4.0" text-anchor="middle" fill="#777" style="stroke:none">2</text>
<text x="259.4" y="626.4" font-size="4.0" text-anchor="middle" fill="#777" style="stroke:none">1</text>
<text x="268.1" y="626.4" font-size="4.0" text-anchor="middle" fill="#777" style="stroke:none">0</text>
<polyline points="212.1,697.1 212.7,696.9 213.3,696.5 213.9,695.9 214.5,695.1 215.0,693.8 215.6,692.1 216.2,689.8 216.8,686.9 217.4,683.3 218.0,679.1 218.6,674.3 219.2,669.4 219.8,664.4 220.4,659.9 221.0,656.1 221.6,653.4 222.2,652.0 222.8,652.2 223.4,653.8 224.0,656.7 224.6,660.7 225.2,665.3 225.7,670.3 226.3,675.3 226.9,679.9 227.5,684.0 228.1,687.5 228.7,690.3 229.3,692.5 229.9,694.1 230.5,695.3 231.1,696.1 231.7,696.6 232.3,696.9 232.9,697.1" fill="none" stroke="#7a1a34" stroke-width="0.75"/>
<polyline points="220.4,697.1 221.0,696.8 221.6,696.5 222.2,695.9 222.8,695.2 223.4,694.2 224.0,693.0 224.6,691.5 225.2,689.8 225.7,688.0 226.3,686.2 226.9,684.6 227.5,683.3 228.1,682.5 228.7,682.2 229.3,682.5 229.9,683.4 230.5,684.7 231.1,686.3 231.7,688.1 232.3,689.9 232.9,691.6 233.5,693.1 234.1,694.3 234.7,695.3 235.3,696.0 235.9,696.5 236.5,696.8 237.0,697.1" fill="none" stroke="#7a1a34" stroke-width="0.75"/>
<polyline points="226.3,697.1 226.9,697.0 227.5,696.7 228.1,696.3 228.7,695.7 229.3,695.0 229.9,694.0 230.5,692.7 231.1,691.2 231.7,689.6 232.3,687.7 232.9,685.9 233.5,684.1 234.1,682.6 234.7,681.4 235.3,680.7 235.9,680.6 236.5,680.9 237.0,681.8 237.6,683.2 238.2,684.8 238.8,686.6 239.4,688.5 240.0,690.3 240.6,691.9 241.2,693.3 241.8,694.4 242.4,695.3 243.0,696.0 243.6,696.5 244.2,696.8 244.8,697.0" fill="none" stroke="#7a1a34" stroke-width="0.75"/>
<polyline points="233.5,697.1 234.1,697.0 234.7,696.8 235.3,696.5 235.9,696.1 236.5,695.6 237.0,695.0 237.6,694.3 238.2,693.4 238.8,692.4 239.4,691.4 240.0,690.4 240.6,689.4 241.2,688.5 241.8,687.9 242.4,687.4 243.0,687.3 243.6,687.4 244.2,687.8 244.8,688.5 245.4,689.3 246.0,690.3 246.6,691.3 247.2,692.3 247.8,693.3 248.3,694.2 248.9,694.9 249.5,695.6 250.1,696.1 250.7,696.5 251.3,696.8 251.9,697.0 252.5,697.1" fill="none" stroke="#7a1a34" stroke-width="0.75"/>
<polyline points="241.8,697.1 242.4,697.0 243.0,696.8 243.6,696.6 244.2,696.4 244.8,696.0 245.4,695.6 246.0,695.2 246.6,694.7 247.2,694.2 247.8,693.7 248.3,693.2 248.9,692.7 249.5,692.4 250.1,692.1 250.7,691.9 251.3,691.9 251.9,692.1 252.5,692.3 253.1,692.7 253.7,693.1 254.3,693.6 254.9,694.1 255.5,694.6 256.1,695.1 256.7,695.6 257.3,696.0 257.9,696.3 258.5,696.6 259.1,696.8 259.6,697.0 260.2,697.1" fill="none" stroke="#7a1a34" stroke-width="0.75"/>
<polyline points="250.7,697.1 251.3,696.9 251.9,696.7 252.5,696.5 253.1,696.2 253.7,695.9 254.3,695.5 254.9,695.1 255.5,694.7 256.1,694.2 256.7,693.8 257.3,693.4 257.9,693.1 258.5,692.9 259.1,692.8 259.6,692.8 260.2,692.9 260.8,693.1 261.4,693.4 262.0,693.8 262.6,694.2 263.2,694.7 263.8,695.1 264.4,695.5 265.0,695.9 265.6,696.2 266.2,696.5 266.8,696.7 267.4,696.9 268.0,697.1" fill="none" stroke="#7a1a34" stroke-width="0.75"/>
<polyline points="256.1,697.1 256.7,697.0 257.3,696.8 257.9,696.6 258.5,696.3 259.1,695.9 259.6,695.4 260.2,694.9 260.8,694.2 261.4,693.5 262.0,692.6 262.6,691.7 263.2,690.8 263.8,689.8 264.4,688.9 265.0,688.0 265.6,687.3 266.2,686.7 266.8,686.3 267.4,686.0 268.0,686.1 268.6,686.3 269.2,686.7 269.8,687.3 270.4,688.1 270.9,689.0 271.5,689.9 272.1,690.8 272.7,691.8 273.3,692.7 273.9,693.5 274.5,694.3 275.1,694.9 275.7,695.5 276.3,695.9 276.9,696.3 277.5,696.6 278.1,696.8 278.7,697.0 279.3,697.1" fill="none" stroke="#7a1a34" stroke-width="0.75"/>
<polyline points="197.8,697.4 198.4,697.4 199.0,697.4 199.6,697.3 200.2,697.2 200.8,697.4 201.4,697.4 202.0,697.4 202.6,697.3 203.2,697.2 203.7,697.4 204.3,697.4 204.9,697.4 205.5,697.2 206.1,697.4 206.7,697.4 207.3,697.4 207.9,697.4 208.5,697.4 209.1,697.4 209.7,697.4 210.3,697.3 210.9,697.3 211.5,697.3 212.1,697.0 212.7,696.6 213.3,697.1 213.9,696.1 214.5,695.7 215.0,694.0 215.6,693.3 216.2,689.8 216.8,686.9 217.4,683.7 218.0,680.8 218.6,675.0 219.2,671.5 219.8,667.3 220.4,659.0 221.0,658.3 221.6,649.4 222.2,648.6 222.8,655.3 223.4,649.9 224.0,655.1 224.6,654.6 225.2,657.5 225.7,665.5 226.3,664.4 226.9,667.2 227.5,667.2 228.1,673.8 228.7,672.1 229.3,677.2 229.9,677.3 230.5,679.3 231.1,676.4 231.7,678.5 232.3,675.7 232.9,678.6 233.5,678.0 234.1,677.6 234.7,679.7 235.3,678.5 235.9,676.1 236.5,679.3 237.0,678.8 237.6,679.9 238.2,679.7 238.8,682.2 239.4,682.7 240.0,682.8 240.6,683.6 241.2,685.4 241.8,683.4 242.4,686.7 243.0,686.9 243.6,687.4 244.2,684.9 244.8,687.2 245.4,688.5 246.0,689.3 246.6,688.0 247.2,690.3 247.8,690.9 248.3,689.2 248.9,691.4 249.5,690.7 250.1,690.5 250.7,691.1 251.3,690.9 251.9,689.7 252.5,691.6 253.1,692.5 253.7,693.2 254.3,691.8 254.9,692.0 255.5,691.4 256.1,692.1 256.7,692.0 257.3,692.1 257.9,691.7 258.5,690.8 259.1,691.1 259.6,690.3 260.2,688.1 260.8,689.2 261.4,691.1 262.0,687.0 262.6,688.1 263.2,689.1 263.8,686.4 264.4,687.0 265.0,687.3 265.6,686.9 266.2,687.1 266.8,685.5 267.4,684.1 268.0,686.1 268.6,685.5 269.2,684.2 269.8,688.7 270.4,687.7 270.9,689.3 271.5,691.0 272.1,691.9 272.7,691.8 273.3,692.3 273.9,693.9 274.5,694.2 275.1,694.5 275.7,695.3 276.3,695.5 276.9,696.1 277.5,696.4 278.1,696.3 278.7,696.8 279.3,697.1 279.9,697.1 280.5,697.4 281.1,697.4 281.6,697.2 282.2,697.3 282.8,697.2 283.4,697.4 284.0,697.4 284.6,697.1 285.2,697.2 285.8,697.4 286.4,697.2 287.0,697.4 287.6,697.4 288.2,697.4 288.8,697.4 289.4,697.2 290.0,697.4 290.6,697.4 291.2,697.4 291.8,697.4 292.4,697.4 292.9,697.4 293.5,697.3 294.1,697.3 294.7,697.4 295.3,697.4 295.9,697.4 296.5,697.4 297.1,697.4 297.7,697.4 298.3,697.1" fill="none" stroke="#a8143c" stroke-width="0.8" stroke-opacity="0.92"/>
<polyline points="197.8,697.3 198.4,697.4 199.0,697.3 199.6,697.2 200.2,697.4 200.8,697.4 201.4,697.4 202.0,697.3 202.6,697.4 203.2,697.4 203.7,697.4 204.3,697.1 204.9,697.1 205.5,697.4 206.1,697.4 206.7,697.0 207.3,697.4 207.9,697.4 208.5,697.4 209.1,697.3 209.7,697.2 210.3,697.3 210.9,697.4 211.5,697.2 212.1,697.0 212.7,696.3 213.3,696.5 213.9,696.6 214.5,695.7 215.0,692.8 215.6,692.6 216.2,692.1 216.8,687.6 217.4,683.3 218.0,677.0 218.6,676.2 219.2,667.9 219.8,662.4 220.4,661.2 221.0,656.0 221.6,647.8 222.2,646.0 222.8,647.7 223.4,649.7 224.0,649.3 224.6,655.1 225.2,657.9 225.7,662.8 226.3,663.8 226.9,666.9 227.5,663.5 228.1,671.9 228.7,671.1 229.3,672.8 229.9,677.0 230.5,675.9 231.1,682.5 231.7,679.3 232.3,678.3 232.9,683.6 233.5,681.3 234.1,677.3 234.7,679.1 235.3,680.3 235.9,679.0 236.5,679.5 237.0,677.9 237.6,679.1 238.2,681.1 238.8,682.6 239.4,682.5 240.0,681.2 240.6,683.2 241.2,683.3 241.8,684.8 242.4,686.7 243.0,686.3 243.6,684.8 244.2,686.1 244.8,687.9 245.4,689.3 246.0,687.8 246.6,688.9 247.2,689.5 247.8,689.9 248.3,689.6 248.9,689.9 249.5,689.4 250.1,689.6 250.7,689.3 251.3,690.0 251.9,691.3 252.5,691.2 253.1,690.8 253.7,691.7 254.3,691.1 254.9,690.6 255.5,692.4 256.1,693.3 256.7,690.4 257.3,691.4 257.9,690.5 258.5,692.3 259.1,689.0 259.6,689.6 260.2,690.2 260.8,690.1 261.4,689.2 262.0,689.1 262.6,688.8 263.2,689.3 263.8,685.9 264.4,687.0 265.0,686.4 265.6,686.0 266.2,688.9 266.8,684.9 267.4,686.0 268.0,686.1 268.6,686.0 269.2,687.8 269.8,686.2 270.4,688.9 270.9,689.9 271.5,690.8 272.1,690.7 272.7,691.1 273.3,693.2 273.9,694.7 274.5,693.5 275.1,695.6 275.7,694.8 276.3,696.0 276.9,696.6 277.5,696.8 278.1,696.7 278.7,696.8 279.3,697.2 279.9,697.0 280.5,697.0 281.1,697.3 281.6,697.4 282.2,697.4 282.8,697.4 283.4,697.4 284.0,697.4 284.6,697.4 285.2,697.3 285.8,697.4 286.4,697.4 287.0,697.1 287.6,697.3 288.2,697.3 288.8,697.3 289.4,697.2 290.0,697.3 290.6,697.4 291.2,697.4 291.8,697.4 292.4,697.4 292.9,697.4 293.5,697.4 294.1,697.4 294.7,697.4 295.3,697.3 295.9,697.4 296.5,697.4 297.1,697.1 297.7,697.4 298.3,697.2" fill="none" stroke="#a8143c" stroke-width="0.8" stroke-opacity="0.92"/>
<text x="176.4" y="659.1" font-size="8.3" text-anchor="middle" transform="rotate(-90 176.4 659.1)" fill="#161616" textLength="55" lengthAdjust="spacingAndGlyphs">Number of cells</text>
<text x="394.4" y="612.2" font-size="8.5" font-weight="bold" text-anchor="middle" fill="#161616" textLength="46.6" lengthAdjust="spacingAndGlyphs">V<tspan font-size="5.8" dy="2">H</tspan><tspan dy="-2">1-69 pos</tspan></text>
<rect x="345.8" y="621.3" width="103.1" height="76.1" fill="none" stroke="#444" stroke-width="0.8"/>
<line x1="345.8" y1="621.3" x2="345.8" y2="697.9" stroke="#111" stroke-width="1.2"/>
<line x1="345.3" y1="697.4" x2="448.9" y2="697.4" stroke="#111" stroke-width="1.2"/>
<line x1="345.8" y1="697.4" x2="345.8" y2="700" stroke="#161616" stroke-width="0.9"/>
<line x1="353.56" y1="697.4" x2="353.56" y2="698.8" stroke="#161616" stroke-width="0.6"/>
<line x1="358.1" y1="697.4" x2="358.1" y2="698.8" stroke="#161616" stroke-width="0.6"/>
<line x1="361.32" y1="697.4" x2="361.32" y2="698.8" stroke="#161616" stroke-width="0.6"/>
<line x1="363.82" y1="697.4" x2="363.82" y2="698.8" stroke="#161616" stroke-width="0.6"/>
<line x1="365.86" y1="697.4" x2="365.86" y2="698.8" stroke="#161616" stroke-width="0.6"/>
<line x1="367.58" y1="697.4" x2="367.58" y2="698.8" stroke="#161616" stroke-width="0.6"/>
<line x1="369.08" y1="697.4" x2="369.08" y2="698.8" stroke="#161616" stroke-width="0.6"/>
<line x1="370.4" y1="697.4" x2="370.4" y2="698.8" stroke="#161616" stroke-width="0.6"/>
<line x1="371.57" y1="697.4" x2="371.57" y2="700" stroke="#161616" stroke-width="0.9"/>
<line x1="379.33" y1="697.4" x2="379.33" y2="698.8" stroke="#161616" stroke-width="0.6"/>
<line x1="383.87" y1="697.4" x2="383.87" y2="698.8" stroke="#161616" stroke-width="0.6"/>
<line x1="387.09" y1="697.4" x2="387.09" y2="698.8" stroke="#161616" stroke-width="0.6"/>
<line x1="389.59" y1="697.4" x2="389.59" y2="698.8" stroke="#161616" stroke-width="0.6"/>
<line x1="391.63" y1="697.4" x2="391.63" y2="698.8" stroke="#161616" stroke-width="0.6"/>
<line x1="393.36" y1="697.4" x2="393.36" y2="698.8" stroke="#161616" stroke-width="0.6"/>
<line x1="394.85" y1="697.4" x2="394.85" y2="698.8" stroke="#161616" stroke-width="0.6"/>
<line x1="396.17" y1="697.4" x2="396.17" y2="698.8" stroke="#161616" stroke-width="0.6"/>
<line x1="397.35" y1="697.4" x2="397.35" y2="700" stroke="#161616" stroke-width="0.9"/>
<line x1="405.11" y1="697.4" x2="405.11" y2="698.8" stroke="#161616" stroke-width="0.6"/>
<line x1="409.65" y1="697.4" x2="409.65" y2="698.8" stroke="#161616" stroke-width="0.6"/>
<line x1="412.87" y1="697.4" x2="412.87" y2="698.8" stroke="#161616" stroke-width="0.6"/>
<line x1="415.37" y1="697.4" x2="415.37" y2="698.8" stroke="#161616" stroke-width="0.6"/>
<line x1="417.41" y1="697.4" x2="417.41" y2="698.8" stroke="#161616" stroke-width="0.6"/>
<line x1="419.13" y1="697.4" x2="419.13" y2="698.8" stroke="#161616" stroke-width="0.6"/>
<line x1="420.63" y1="697.4" x2="420.63" y2="698.8" stroke="#161616" stroke-width="0.6"/>
<line x1="421.95" y1="697.4" x2="421.95" y2="698.8" stroke="#161616" stroke-width="0.6"/>
<line x1="423.12" y1="697.4" x2="423.12" y2="700" stroke="#161616" stroke-width="0.9"/>
<line x1="430.88" y1="697.4" x2="430.88" y2="698.8" stroke="#161616" stroke-width="0.6"/>
<line x1="435.42" y1="697.4" x2="435.42" y2="698.8" stroke="#161616" stroke-width="0.6"/>
<line x1="438.64" y1="697.4" x2="438.64" y2="698.8" stroke="#161616" stroke-width="0.6"/>
<line x1="441.14" y1="697.4" x2="441.14" y2="698.8" stroke="#161616" stroke-width="0.6"/>
<line x1="443.18" y1="697.4" x2="443.18" y2="698.8" stroke="#161616" stroke-width="0.6"/>
<line x1="444.91" y1="697.4" x2="444.91" y2="698.8" stroke="#161616" stroke-width="0.6"/>
<line x1="446.4" y1="697.4" x2="446.4" y2="698.8" stroke="#161616" stroke-width="0.6"/>
<line x1="447.72" y1="697.4" x2="447.72" y2="698.8" stroke="#161616" stroke-width="0.6"/>
<line x1="448.9" y1="697.4" x2="448.9" y2="700" stroke="#161616" stroke-width="0.9"/>
<line x1="342.8" y1="697.4" x2="345.8" y2="697.4" stroke="#161616" stroke-width="0.9"/>
<text x="340.8" y="700" font-size="7.4" text-anchor="end" fill="#161616">0</text>
<line x1="342.8" y1="677.27" x2="345.8" y2="677.27" stroke="#161616" stroke-width="0.9"/>
<text x="340.8" y="679.87" font-size="7.4" text-anchor="end" fill="#161616">20</text>
<line x1="342.8" y1="657.13" x2="345.8" y2="657.13" stroke="#161616" stroke-width="0.9"/>
<text x="340.8" y="659.73" font-size="7.4" text-anchor="end" fill="#161616">40</text>
<line x1="342.8" y1="637" x2="345.8" y2="637" stroke="#161616" stroke-width="0.9"/>
<text x="340.8" y="639.6" font-size="7.4" text-anchor="end" fill="#161616">60</text>
<line x1="344.3" y1="693.37" x2="345.8" y2="693.37" stroke="#161616" stroke-width="0.6"/>
<line x1="344.3" y1="689.35" x2="345.8" y2="689.35" stroke="#161616" stroke-width="0.6"/>
<line x1="344.3" y1="685.32" x2="345.8" y2="685.32" stroke="#161616" stroke-width="0.6"/>
<line x1="344.3" y1="681.29" x2="345.8" y2="681.29" stroke="#161616" stroke-width="0.6"/>
<line x1="344.3" y1="673.24" x2="345.8" y2="673.24" stroke="#161616" stroke-width="0.6"/>
<line x1="344.3" y1="669.21" x2="345.8" y2="669.21" stroke="#161616" stroke-width="0.6"/>
<line x1="344.3" y1="665.19" x2="345.8" y2="665.19" stroke="#161616" stroke-width="0.6"/>
<line x1="344.3" y1="661.16" x2="345.8" y2="661.16" stroke="#161616" stroke-width="0.6"/>
<line x1="344.3" y1="653.11" x2="345.8" y2="653.11" stroke="#161616" stroke-width="0.6"/>
<line x1="344.3" y1="649.08" x2="345.8" y2="649.08" stroke="#161616" stroke-width="0.6"/>
<line x1="344.3" y1="645.05" x2="345.8" y2="645.05" stroke="#161616" stroke-width="0.6"/>
<line x1="344.3" y1="641.03" x2="345.8" y2="641.03" stroke="#161616" stroke-width="0.6"/>
<line x1="344.3" y1="632.97" x2="345.8" y2="632.97" stroke="#161616" stroke-width="0.6"/>
<line x1="344.3" y1="628.95" x2="345.8" y2="628.95" stroke="#161616" stroke-width="0.6"/>
<line x1="344.3" y1="624.92" x2="345.8" y2="624.92" stroke="#161616" stroke-width="0.6"/>
<text x="346.1" y="709.6" font-size="6.6" text-anchor="middle" fill="#161616" textLength="8.9" lengthAdjust="spacingAndGlyphs">10<tspan font-size="4.36" dy="-2.6">0</tspan></text>
<text x="371.88" y="709.6" font-size="6.6" text-anchor="middle" fill="#161616" textLength="8.9" lengthAdjust="spacingAndGlyphs">10<tspan font-size="4.36" dy="-2.6">1</tspan></text>
<text x="397.65" y="709.6" font-size="6.6" text-anchor="middle" fill="#161616" textLength="8.9" lengthAdjust="spacingAndGlyphs">10<tspan font-size="4.36" dy="-2.6">2</tspan></text>
<text x="423.43" y="709.6" font-size="6.6" text-anchor="middle" fill="#161616" textLength="8.9" lengthAdjust="spacingAndGlyphs">10<tspan font-size="4.36" dy="-2.6">3</tspan></text>
<text x="449.2" y="709.6" font-size="6.6" text-anchor="middle" fill="#161616" textLength="8.9" lengthAdjust="spacingAndGlyphs">10<tspan font-size="4.36" dy="-2.6">4</tspan></text>
<text x="396.75" y="723.5" font-size="8.6" text-anchor="middle" fill="#161616" textLength="17.7" lengthAdjust="spacingAndGlyphs">CFSE</text>
<text x="391.7" y="634.8" font-size="6.6" font-weight="bold" text-anchor="middle" fill="#161616">8%</text>
<line x1="368.3" y1="637.4" x2="414.2" y2="637.4" stroke="#000" stroke-width="1.1"/>
<text x="381" y="626.4" font-size="4.0" text-anchor="middle" fill="#777" style="stroke:none">6</text>
<text x="384.6" y="626.4" font-size="4.0" text-anchor="middle" fill="#777" style="stroke:none">5</text>
<text x="390.6" y="626.4" font-size="4.0" text-anchor="middle" fill="#777" style="stroke:none">4</text>
<text x="397.5" y="626.4" font-size="4.0" text-anchor="middle" fill="#777" style="stroke:none">3</text>
<text x="405" y="626.4" font-size="4.0" text-anchor="middle" fill="#777" style="stroke:none">2</text>
<text x="413" y="626.4" font-size="4.0" text-anchor="middle" fill="#777" style="stroke:none">1</text>
<text x="421.5" y="626.4" font-size="4.0" text-anchor="middle" fill="#777" style="stroke:none">0</text>
<polyline points="370.8,696.5 371.4,696.1 372.0,695.4 372.6,694.6 373.3,693.4 373.9,691.9 374.5,690.0 375.1,687.7 375.7,685.1 376.3,682.0 376.9,678.7 377.5,675.3 378.1,671.9 378.7,668.6 379.4,665.8 380.0,663.5 380.6,661.9 381.2,661.2 381.8,661.4 382.4,662.4 383.0,664.3 383.6,666.8 384.2,669.9 384.8,673.2 385.5,676.7 386.1,680.1 386.7,683.3 387.3,686.2 387.9,688.7 388.5,690.8 389.1,692.5 389.7,693.9 390.3,694.9 390.9,695.7 391.6,696.3 392.2,696.7" fill="none" stroke="#7a1a34" stroke-width="0.75"/>
<polyline points="379.4,696.8 380.0,696.7 380.6,696.6 381.2,696.4 381.8,696.3 382.4,696.1 383.0,696.0 383.6,695.8 384.2,695.6 384.8,695.5 385.5,695.3 386.1,695.1 386.7,695.0 387.3,694.8 387.9,694.7 388.5,694.6 389.1,694.5 389.7,694.4 390.3,694.4 390.9,694.4 391.6,694.4 392.2,694.4 392.8,694.5 393.4,694.6 394.0,694.7 394.6,694.8 395.2,695.0 395.8,695.1 396.4,695.3 397.0,695.5 397.7,695.7 398.3,695.8 398.9,696.0 399.5,696.2 400.1,696.3 400.7,696.4 401.3,696.6 401.9,696.7" fill="none" stroke="#7a1a34" stroke-width="0.75"/>
<polyline points="389.1,696.7 389.7,696.6 390.3,696.5 390.9,696.4 391.6,696.3 392.2,696.2 392.8,696.0 393.4,695.9 394.0,695.8 394.6,695.6 395.2,695.5 395.8,695.3 396.4,695.2 397.0,695.0 397.7,694.9 398.3,694.8 398.9,694.7 399.5,694.6 400.1,694.5 400.7,694.5 401.3,694.4 401.9,694.4 402.5,694.4 403.1,694.4 403.8,694.4 404.4,694.5 405.0,694.5 405.6,694.6 406.2,694.7 406.8,694.8 407.4,694.9 408.0,695.1 408.6,695.2 409.2,695.3 409.9,695.5 410.5,695.6 411.1,695.8 411.7,695.9 412.3,696.0 412.9,696.2 413.5,696.3 414.1,696.4 414.7,696.5 415.3,696.6 416.0,696.7" fill="none" stroke="#7a1a34" stroke-width="0.75"/>
<polyline points="403.1,696.7 403.8,696.6 404.4,696.5 405.0,696.3 405.6,696.1 406.2,695.9 406.8,695.7 407.4,695.5 408.0,695.3 408.6,695.1 409.2,694.8 409.9,694.6 410.5,694.4 411.1,694.2 411.7,694.0 412.3,693.8 412.9,693.7 413.5,693.5 414.1,693.5 414.7,693.4 415.3,693.4 416.0,693.4 416.6,693.4 417.2,693.5 417.8,693.6 418.4,693.8 419.0,694.0 419.6,694.2 420.2,694.4 420.8,694.6 421.4,694.8 422.1,695.0 422.7,695.3 423.3,695.5 423.9,695.7 424.5,695.9 425.1,696.1 425.7,696.3 426.3,696.4 426.9,696.6 427.5,696.7" fill="none" stroke="#7a1a34" stroke-width="0.75"/>
<polyline points="412.3,696.5 412.9,696.0 413.5,695.4 414.1,694.6 414.7,693.5 415.3,692.1 416.0,690.3 416.6,688.2 417.2,685.6 417.8,682.7 418.4,679.5 419.0,676.0 419.6,672.4 420.2,668.8 420.8,665.4 421.4,662.4 422.1,660.0 422.7,658.2 423.3,657.3 423.9,657.2 424.5,658.0 425.1,659.6 425.7,661.9 426.3,664.8 426.9,668.2 427.5,671.7 428.2,675.3 428.8,678.8 429.4,682.1 430.0,685.1 430.6,687.7 431.2,689.9 431.8,691.8 432.4,693.2 433.0,694.4 433.6,695.3 434.3,695.9 434.9,696.4 435.5,696.7" fill="none" stroke="#7a1a34" stroke-width="0.75"/>
<polyline points="345.8,697.4 346.4,697.3 347.0,697.4 347.6,697.2 348.2,697.0 348.9,697.4 349.5,697.3 350.1,697.3 350.7,697.4 351.3,697.4 351.9,697.4 352.5,696.9 353.1,697.4 353.7,696.6 354.3,697.1 355.0,697.3 355.6,697.4 356.2,696.9 356.8,697.4 357.4,696.9 358.0,697.4 358.6,697.3 359.2,697.4 359.8,696.6 360.4,697.4 361.1,697.4 361.7,697.1 362.3,697.4 362.9,697.1 363.5,697.4 364.1,697.2 364.7,697.4 365.3,697.4 365.9,697.4 366.5,697.4 367.2,697.2 367.8,697.3 368.4,697.1 369.0,697.1 369.6,697.2 370.2,696.8 370.8,695.9 371.4,696.2 372.0,696.0 372.6,695.5 373.3,693.6 373.9,692.9 374.5,686.8 375.1,689.8 375.7,687.2 376.3,682.5 376.9,676.7 377.5,675.7 378.1,674.4 378.7,670.7 379.4,666.3 380.0,659.3 380.6,664.6 381.2,660.5 381.8,662.4 382.4,659.9 383.0,661.3 383.6,670.1 384.2,660.1 384.8,670.5 385.5,675.8 386.1,679.9 386.7,681.1 387.3,683.1 387.9,684.2 388.5,687.4 389.1,688.1 389.7,692.8 390.3,692.2 390.9,693.1 391.6,691.9 392.2,691.8 392.8,694.6 393.4,693.0 394.0,691.9 394.6,691.8 395.2,694.4 395.8,692.3 396.4,692.6 397.0,693.6 397.7,690.6 398.3,694.5 398.9,693.5 399.5,692.6 400.1,692.9 400.7,693.4 401.3,691.5 401.9,691.5 402.5,692.1 403.1,692.0 403.8,693.3 404.4,694.6 405.0,690.4 405.6,694.3 406.2,690.3 406.8,693.2 407.4,692.6 408.0,693.1 408.6,691.5 409.2,693.3 409.9,690.0 410.5,691.6 411.1,691.9 411.7,692.7 412.3,691.1 412.9,691.1 413.5,687.4 414.1,688.1 414.7,691.4 415.3,684.4 416.0,690.5 416.6,680.2 417.2,685.8 417.8,678.5 418.4,673.2 419.0,672.3 419.6,672.4 420.2,661.4 420.8,668.8 421.4,665.1 422.1,652.2 422.7,659.4 423.3,654.3 423.9,652.3 424.5,656.9 425.1,657.2 425.7,660.3 426.3,663.1 426.9,663.4 427.5,668.1 428.2,673.8 428.8,675.9 429.4,683.0 430.0,686.4 430.6,689.3 431.2,688.4 431.8,689.2 432.4,693.0 433.0,696.4 433.6,695.7 434.3,695.5 434.9,696.2 435.5,696.7 436.1,696.6 436.7,696.8 437.3,697.4 437.9,697.1 438.5,697.4 439.1,697.3 439.7,697.0 440.4,696.8 441.0,697.2 441.6,697.4 442.2,697.4 442.8,697.2 443.4,697.4 444.0,697.4 444.6,697.2 445.2,697.1 445.8,697.4 446.5,697.3 447.1,696.9 447.7,697.3 448.3,697.4 448.9,697.3" fill="none" stroke="#a8143c" stroke-width="0.8" stroke-opacity="0.92"/>
<polyline points="345.8,697.3 346.4,697.4 347.0,697.4 347.6,697.4 348.2,697.0 348.9,697.3 349.5,697.4 350.1,697.3 350.7,697.4 351.3,697.4 351.9,697.4 352.5,697.4 353.1,696.7 353.7,697.4 354.3,697.4 355.0,697.2 355.6,697.4 356.2,697.0 356.8,697.4 357.4,697.2 358.0,697.4 358.6,697.2 359.2,697.2 359.8,697.3 360.4,697.3 361.1,697.3 361.7,697.1 362.3,697.1 362.9,697.4 363.5,697.0 364.1,697.4 364.7,697.3 365.3,697.4 365.9,697.2 366.5,697.4 367.2,697.2 367.8,697.4 368.4,697.4 369.0,696.8 369.6,696.8 370.2,696.6 370.8,696.0 371.4,696.8 372.0,694.6 372.6,695.6 373.3,692.9 373.9,692.1 374.5,689.4 375.1,686.3 375.7,684.8 376.3,684.0 376.9,676.0 377.5,671.6 378.1,669.3 378.7,664.7 379.4,671.2 380.0,662.5 380.6,661.4 381.2,667.3 381.8,659.8 382.4,661.1 383.0,668.1 383.6,668.0 384.2,667.6 384.8,669.2 385.5,672.2 386.1,680.4 386.7,683.1 387.3,684.3 387.9,685.6 388.5,688.5 389.1,689.3 389.7,689.0 390.3,690.0 390.9,691.5 391.6,693.7 392.2,693.1 392.8,691.9 393.4,691.7 394.0,691.5 394.6,694.3 395.2,693.5 395.8,694.5 396.4,696.7 397.0,694.4 397.7,695.3 398.3,691.4 398.9,692.5 399.5,694.0 400.1,693.1 400.7,692.7 401.3,691.1 401.9,692.3 402.5,691.4 403.1,692.6 403.8,691.6 404.4,691.4 405.0,692.0 405.6,693.1 406.2,691.7 406.8,693.5 407.4,691.1 408.0,693.2 408.6,693.6 409.2,690.2 409.9,693.0 410.5,692.1 411.1,693.6 411.7,692.9 412.3,692.0 412.9,692.6 413.5,688.5 414.1,690.9 414.7,690.8 415.3,685.1 416.0,684.1 416.6,688.8 417.2,682.6 417.8,675.9 418.4,677.6 419.0,673.0 419.6,669.6 420.2,673.2 420.8,665.6 421.4,656.8 422.1,652.0 422.7,656.3 423.3,655.7 423.9,653.2 424.5,655.7 425.1,656.3 425.7,663.9 426.3,663.7 426.9,665.6 427.5,669.1 428.2,679.1 428.8,676.1 429.4,681.4 430.0,684.4 430.6,690.8 431.2,689.6 431.8,693.9 432.4,696.2 433.0,694.2 433.6,695.2 434.3,695.8 434.9,696.2 435.5,696.7 436.1,696.5 436.7,696.8 437.3,696.7 437.9,696.4 438.5,697.1 439.1,697.1 439.7,696.7 440.4,697.4 441.0,697.4 441.6,697.3 442.2,697.4 442.8,697.1 443.4,696.9 444.0,697.4 444.6,697.4 445.2,697.1 445.8,696.9 446.5,697.4 447.1,697.2 447.7,697.4 448.3,697.4 448.9,697.4" fill="none" stroke="#a8143c" stroke-width="0.8" stroke-opacity="0.92"/>
<text x="329.2" y="658.5" font-size="8.3" text-anchor="middle" transform="rotate(-90 329.2 658.5)" fill="#161616" textLength="55" lengthAdjust="spacingAndGlyphs">Number of cells</text>
<rect x="0.5" y="0.5" width="518.5" height="730.5" fill="none" stroke="#000" stroke-width="1"/>
<rect x="518.5" y="0" width="1.5" height="732" fill="#000"/><rect x="0" y="730.5" width="520" height="1.5" fill="#000"/>
</svg></body></html>
